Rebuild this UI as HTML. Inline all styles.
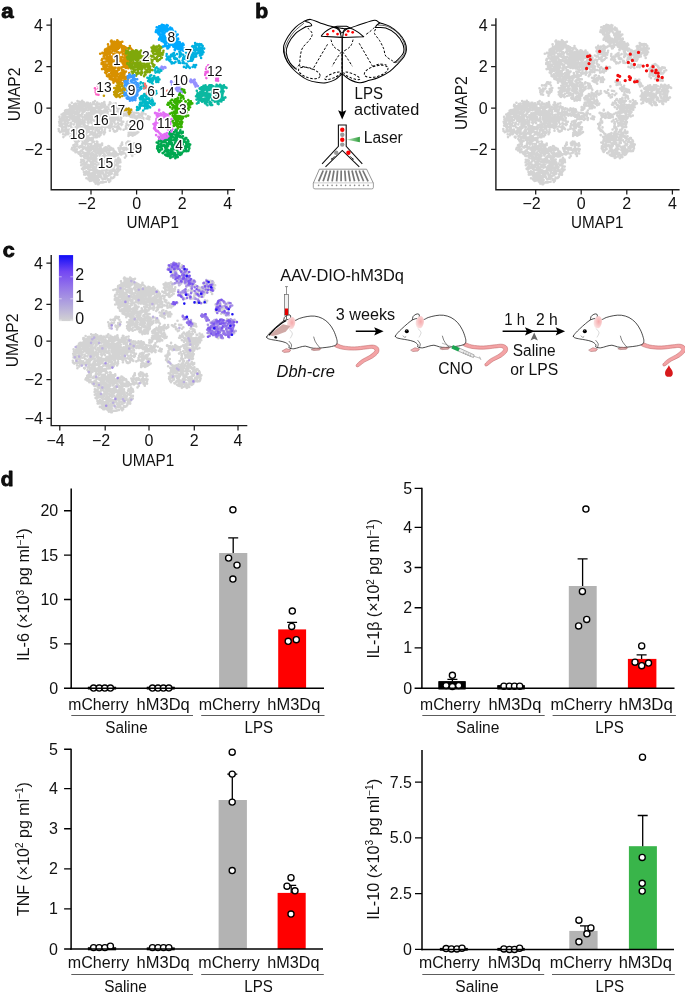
<!DOCTYPE html>
<html lang="en"><head><meta charset="utf-8"><title>Figure</title>
<style>html,body{margin:0;padding:0;background:#fff}svg{display:block;will-change:transform}text{font-family:"Liberation Sans",Arial,Helvetica,sans-serif;fill:#111}</style></head><body>
<svg width="685" height="996" viewBox="0 0 685 996">
<rect width="685" height="996" fill="#fff"/>
<text x="1.3" y="17.5" font-size="20.5" text-anchor="start" textLength="12.4" lengthAdjust="spacingAndGlyphs" font-weight="bold" fill="#000" stroke="#000" stroke-width="0.8" stroke-linejoin="round">a</text>
<text x="255.3" y="17.5" font-size="20.5" text-anchor="start" textLength="12.9" lengthAdjust="spacingAndGlyphs" font-weight="bold" fill="#000" stroke="#000" stroke-width="0.8" stroke-linejoin="round">b</text>
<text x="2.7" y="256.8" font-size="20.5" text-anchor="start" textLength="12.0" lengthAdjust="spacingAndGlyphs" font-weight="bold" fill="#000" stroke="#000" stroke-width="0.8" stroke-linejoin="round">c</text>
<text x="0.7" y="485.7" font-size="20.5" text-anchor="start" textLength="12.8" lengthAdjust="spacingAndGlyphs" font-weight="bold" fill="#000" stroke="#000" stroke-width="0.8" stroke-linejoin="round">d</text>
<path d="M75.4,108.5h0M86.4,117.2h0M62.0,119.6h0M80.7,134.7h0M89.6,138.7h0M101.4,114.2h0M75.1,134.7h0M90.5,117.1h0M92.3,120.0h0M82.0,113.5h0M70.5,124.6h0M95.3,113.9h0M80.5,132.3h0M62.0,127.6h0M101.8,114.2h0M88.6,119.1h0M83.6,128.6h0M98.8,114.4h0M61.2,120.8h0M65.3,113.2h0M62.7,119.7h0M99.2,136.4h0M77.6,136.5h0M68.5,112.5h0M88.9,113.0h0M78.6,124.3h0M84.7,126.3h0M103.9,131.9h0M79.5,118.7h0M69.9,109.3h0M66.1,117.0h0M89.5,109.2h0M78.6,106.1h0M82.6,121.5h0M76.6,112.7h0M85.2,108.5h0M86.0,139.5h0M73.0,117.8h0M85.4,133.0h0M101.3,132.7h0M70.8,122.8h0M73.1,129.1h0M105.9,117.3h0M68.5,109.9h0M99.7,120.3h0M65.0,127.5h0M96.5,122.1h0M76.6,133.3h0M79.2,138.6h0M67.9,134.3h0M76.9,123.9h0M105.2,127.5h0M81.0,135.8h0M72.1,114.9h0M73.3,119.9h0M75.9,119.8h0M79.5,137.9h0M84.8,103.9h0M68.2,120.2h0M74.7,122.3h0M65.1,124.8h0M96.1,121.9h0M103.3,119.4h0M83.9,129.5h0M82.6,137.6h0M87.0,138.6h0M66.2,120.0h0M63.8,127.2h0M67.2,129.9h0M80.2,121.4h0M67.2,119.3h0M69.4,115.0h0M87.1,119.8h0M91.5,123.1h0M66.0,113.3h0M71.8,108.5h0M100.1,113.9h0M87.6,129.7h0M94.3,119.8h0M91.5,134.1h0M80.5,115.4h0M72.4,107.8h0M75.0,114.1h0M83.9,109.9h0M95.4,124.6h0M98.2,119.5h0M78.2,120.7h0M76.2,133.8h0M79.7,116.3h0M63.4,131.5h0M101.7,128.9h0M74.4,121.0h0M106.7,125.3h0M75.4,116.6h0M83.0,122.8h0M64.4,118.2h0M74.0,111.5h0M95.8,126.8h0M79.0,115.4h0M95.9,127.8h0M102.7,125.7h0M65.5,122.9h0M97.5,133.8h0M92.8,129.5h0M67.3,117.4h0M86.2,126.2h0M83.8,102.2h0M84.0,123.2h0M95.8,112.8h0M94.9,109.2h0M82.8,117.7h0M96.7,126.3h0M67.1,112.1h0M87.7,103.7h0M92.0,128.9h0M84.5,120.7h0M104.3,110.4h0M61.5,119.0h0M81.9,114.6h0M70.6,125.7h0M100.1,121.7h0M71.0,137.1h0M59.7,121.8h0M66.3,117.1h0M104.9,129.8h0M78.7,117.9h0M77.3,119.5h0M73.7,139.0h0M83.5,111.3h0M101.5,132.9h0M105.1,123.7h0M95.2,119.3h0M74.0,104.7h0M82.4,117.0h0M90.9,114.2h0M68.4,110.4h0M85.5,110.2h0M81.7,108.5h0M76.4,106.9h0M87.3,136.1h0M79.5,123.3h0M63.3,113.5h0M84.4,126.6h0M72.5,112.8h0M103.0,121.0h0M79.3,137.2h0M86.0,128.6h0M90.3,132.3h0M70.9,137.6h0M65.5,111.9h0M84.8,125.4h0M88.6,104.0h0M106.5,127.0h0M72.2,112.2h0M83.5,128.9h0M92.1,138.3h0M76.1,118.6h0M97.9,131.1h0M99.5,112.8h0M73.8,139.2h0M70.0,117.6h0M67.4,119.5h0M63.9,117.2h0M105.3,116.8h0M91.5,117.8h0M73.7,116.3h0M77.4,133.6h0M61.4,122.0h0M69.4,116.8h0M79.7,133.7h0M104.1,111.5h0M77.1,113.1h0M72.4,130.7h0M104.1,127.0h0M72.7,120.7h0M77.9,112.8h0M99.0,130.1h0M88.9,116.0h0M69.5,131.8h0M60.9,125.5h0M73.3,106.6h0M94.1,120.6h0M89.8,127.5h0M92.2,107.2h0M87.2,116.8h0M72.6,113.3h0M86.3,116.5h0M84.7,111.0h0M83.5,133.0h0M66.5,110.1h0M105.1,116.7h0M72.7,132.5h0M88.7,127.1h0M66.8,111.6h0M91.8,110.8h0M92.4,110.4h0M98.4,123.9h0M78.8,123.7h0M67.4,129.7h0M74.5,139.9h0M78.5,117.3h0M77.4,110.1h0M79.3,134.9h0M82.9,109.2h0M91.5,138.0h0M78.1,122.6h0M85.6,138.6h0M71.0,107.2h0M83.7,104.8h0M103.6,126.3h0M96.8,112.1h0M99.9,110.5h0M85.2,117.9h0M95.5,137.3h0M88.4,123.5h0M79.4,125.5h0M82.3,119.8h0M83.6,110.9h0M81.7,109.9h0M66.7,119.7h0M84.3,104.4h0M95.0,132.5h0M84.5,117.3h0M95.7,135.6h0M83.9,139.2h0M63.2,116.0h0M103.2,113.1h0M84.2,138.4h0M84.7,115.2h0M93.1,137.9h0M65.2,122.7h0M100.8,123.5h0M90.4,117.5h0M106.9,125.7h0M81.2,109.5h0M98.2,111.3h0M88.1,128.3h0M88.3,119.3h0M66.3,111.5h0M65.2,117.4h0M87.8,110.3h0M72.4,109.2h0M101.4,133.0h0M86.6,115.8h0M105.0,132.2h0M61.7,123.4h0M60.9,123.8h0M68.7,126.1h0M98.9,110.1h0M98.7,130.2h0M95.7,120.0h0M70.9,107.2h0M75.7,130.4h0M93.6,112.9h0M97.8,123.7h0M72.4,110.5h0M96.2,115.1h0M70.9,136.8h0M82.2,133.8h0M80.5,130.3h0M71.3,127.3h0M76.7,108.4h0M92.9,126.2h0M62.4,126.3h0M65.3,110.9h0M99.9,133.0h0M90.5,114.1h0M96.1,111.4h0M73.2,130.6h0M106.8,121.5h0M60.5,119.1h0M76.2,129.7h0M99.8,109.5h0M59.1,121.7h0M68.2,122.7h0M73.4,110.5h0M66.2,127.7h0M93.1,132.5h0M79.5,117.8h0M70.5,112.6h0M78.3,137.3h0M85.5,130.8h0M77.4,116.4h0M92.1,131.8h0M97.6,125.5h0M102.7,112.5h0M93.9,135.3h0M71.5,115.4h0M76.7,110.0h0M65.9,117.5h0M95.5,120.3h0M65.0,110.9h0M78.9,132.4h0M90.9,121.2h0M80.0,130.8h0M87.2,131.7h0M94.8,135.5h0M100.5,128.3h0M75.5,127.2h0M97.2,129.8h0M79.9,119.9h0M92.8,139.1h0M95.7,117.9h0M62.4,124.5h0M105.8,123.2h0M85.1,130.2h0M98.6,123.6h0M69.3,129.6h0M77.0,105.8h0M59.8,119.4h0M77.1,114.1h0M105.3,124.1h0M79.5,111.8h0M98.1,127.3h0M77.4,126.3h0M82.2,114.1h0M100.3,116.1h0M77.7,112.8h0M73.3,113.0h0M80.3,126.7h0M104.2,133.7h0M91.8,112.7h0M71.0,132.8h0M104.0,134.2h0M88.6,131.6h0M98.1,135.7h0M84.3,131.7h0M86.7,113.4h0M83.3,105.3h0M82.4,121.6h0M81.9,123.4h0M78.2,118.9h0M91.4,127.3h0M91.9,139.9h0M84.6,121.3h0M93.8,127.8h0M76.6,120.9h0M69.4,119.9h0M100.0,113.6h0M82.6,113.3h0M91.2,133.6h0M73.7,124.5h0M103.0,123.9h0M103.7,125.2h0M103.0,125.7h0M93.3,125.3h0M92.0,120.1h0M96.9,137.3h0M99.1,132.7h0M74.2,119.6h0M91.5,138.7h0M99.5,124.5h0M59.5,116.9h0M106.8,121.2h0M91.0,111.2h0M94.5,111.8h0M94.2,135.3h0M88.8,130.3h0M75.5,131.7h0M82.8,105.9h0M81.7,129.6h0M77.0,127.1h0M79.5,132.5h0M88.7,114.7h0M93.4,135.2h0M87.7,115.3h0M77.1,128.3h0M99.2,113.8h0M80.8,124.1h0M98.5,135.7h0M100.3,132.4h0M75.6,105.9h0M70.0,131.3h0M88.7,128.8h0M72.4,130.9h0M95.9,111.2h0M101.7,122.9h0M69.5,111.2h0M76.8,124.9h0M65.2,126.7h0M88.5,116.1h0M101.1,121.3h0M98.4,118.8h0M69.8,110.0h0M85.3,136.5h0M89.8,119.1h0M71.4,123.3h0M91.8,118.1h0M73.3,115.6h0M96.7,128.6h0M91.6,113.8h0M65.0,115.6h0M83.1,109.7h0M95.8,110.7h0M67.8,120.8h0M99.9,127.0h0M99.3,120.9h0M95.0,125.0h0M73.1,119.0h0M100.6,116.3h0M76.5,138.4h0M91.6,111.1h0M71.2,112.0h0M64.8,113.9h0M95.0,114.1h0M98.8,116.0h0M100.2,123.6h0M103.5,111.2h0M68.6,131.9h0M89.1,122.2h0M89.7,129.2h0M95.1,118.3h0M99.6,114.7h0M84.2,103.2h0M102.3,114.2h0M77.1,109.8h0M59.5,123.0h0M66.3,129.1h0M74.7,130.7h0M105.1,121.7h0M86.2,103.7h0M72.3,134.1h0M94.4,110.5h0M87.6,122.6h0M102.0,130.3h0M83.6,122.3h0M78.5,107.6h0M67.1,124.4h0M79.1,118.4h0M79.1,138.2h0M70.0,116.4h0M99.8,135.4h0M71.6,118.6h0M84.8,105.9h0M105.4,125.9h0M90.6,112.7h0M85.7,137.8h0M85.4,119.3h0M75.2,128.2h0M105.8,123.2h0M85.9,108.9h0M74.0,118.9h0M64.7,123.1h0M87.7,128.6h0M81.6,123.4h0M75.0,112.9h0M79.0,125.3h0M100.7,111.8h0M74.3,132.5h0M102.4,119.9h0M81.4,131.2h0M66.9,116.5h0M89.9,134.6h0M95.5,130.6h0M97.9,129.8h0M95.2,125.3h0M87.7,117.7h0M88.5,117.6h0M94.1,114.6h0M78.7,114.1h0M84.2,120.3h0M66.7,124.7h0M104.8,114.4h0M80.7,137.6h0M88.0,121.4h0M85.1,140.9h0M92.4,118.4h0M76.5,138.4h0M64.1,117.7h0M88.2,136.3h0M81.7,126.7h0M85.7,134.5h0M85.3,106.6h0M102.9,119.4h0M84.7,122.5h0M89.1,127.4h0M89.7,105.2h0M75.2,129.3h0M100.2,124.9h0M83.8,124.9h0M85.0,140.6h0M96.8,107.3h0M84.3,133.6h0M96.9,114.7h0M69.2,113.9h0M87.4,116.4h0M87.2,139.8h0M75.3,136.7h0M87.5,139.5h0M71.6,117.4h0M73.8,136.4h0M71.4,109.9h0M86.4,107.2h0M80.2,106.3h0M77.0,112.8h0M92.4,116.8h0M64.6,113.0h0M81.4,134.4h0M75.9,131.5h0M83.9,111.7h0M94.6,112.4h0M77.3,112.1h0M84.5,124.6h0M78.0,127.8h0M79.2,107.3h0M76.0,128.7h0M77.3,122.2h0M75.6,112.3h0M74.4,117.8h0M67.2,113.7h0M91.1,116.8h0M93.9,112.0h0M91.2,110.8h0M95.4,130.1h0M67.6,111.1h0M61.6,114.5h0M100.2,124.2h0M80.9,129.0h0M100.0,132.7h0M101.4,126.2h0M65.7,134.4h0M95.8,105.7h0M95.8,134.7h0M106.3,118.7h0M95.0,134.1h0M62.0,129.8h0M93.7,134.4h0M106.1,127.1h0M62.5,116.8h0M74.7,107.3h0M70.8,112.1h0M104.5,117.5h0M66.3,125.4h0M86.7,132.7h0M88.9,119.4h0M65.2,114.3h0M63.2,114.6h0M81.2,107.9h0M77.5,109.4h0M64.8,130.2h0M64.9,121.7h0M86.8,102.9h0M89.9,138.2h0M72.8,108.4h0M100.6,115.0h0M68.6,132.0h0M75.9,109.5h0M76.9,124.8h0M87.6,126.0h0M84.0,122.4h0M87.8,105.7h0M81.4,139.9h0M81.1,110.2h0M100.5,134.9h0M73.0,128.1h0M75.7,118.7h0M73.7,119.6h0M76.8,120.3h0M106.2,126.4h0M92.2,126.9h0M105.4,120.9h0M76.9,136.7h0M93.3,120.4h0M77.2,125.4h0M87.4,118.3h0M103.6,124.6h0M71.7,106.5h0M83.6,124.8h0M65.2,122.4h0M78.5,106.2h0M86.4,129.9h0M79.6,109.3h0M97.2,108.0h0M72.2,117.2h0M70.1,113.8h0M103.2,126.0h0M67.5,132.2h0M93.1,134.8h0M88.0,106.5h0M92.6,113.3h0M100.3,125.2h0M65.6,134.1h0M73.7,129.3h0M101.6,122.4h0M75.2,108.7h0M68.5,133.6h0M83.2,108.5h0M102.4,126.5h0M70.2,136.9h0M67.4,116.9h0M79.4,116.5h0M82.4,140.6h0M92.1,114.1h0M71.1,124.4h0M87.6,131.6h0M90.1,127.5h0M99.0,135.8h0M74.5,131.3h0M89.9,116.1h0M62.1,117.4h0M106.6,109.8h0M104.6,104.8h0M105.4,110.7h0M102.1,107.4h0M118.2,108.4h0M108.3,122.6h0M105.9,119.7h0M116.6,107.6h0M98.8,107.0h0M103.6,105.3h0M110.4,104.4h0M109.9,102.4h0M103.5,105.4h0M116.4,114.6h0M102.5,116.5h0M111.9,109.0h0M95.7,115.1h0M109.3,107.2h0M117.4,113.3h0M109.6,116.7h0M98.8,104.6h0M113.8,110.3h0M107.9,114.8h0M112.5,106.2h0M113.9,106.5h0M104.5,107.4h0M106.5,114.5h0M113.5,103.9h0M96.1,111.9h0M117.8,109.6h0M112.8,120.6h0M114.4,106.8h0M110.5,108.3h0M103.5,120.7h0M95.6,115.6h0M95.3,114.0h0M117.8,115.0h0M101.3,111.1h0M112.6,116.7h0M100.9,114.4h0M115.9,106.2h0M100.5,108.7h0M98.3,115.3h0M109.2,120.9h0M103.9,117.3h0M98.9,116.9h0M110.7,104.9h0M112.3,119.6h0M100.6,117.7h0M106.9,106.8h0M103.1,120.0h0M98.7,111.4h0M98.3,116.8h0M104.0,111.7h0M116.1,117.0h0M102.0,103.6h0M104.7,113.2h0M110.8,114.9h0M115.6,116.7h0M104.6,121.8h0M104.9,104.9h0M109.6,121.3h0M104.1,107.1h0M115.4,117.6h0M111.2,107.9h0M113.9,111.1h0M100.6,114.0h0M111.3,109.7h0M110.7,107.9h0M100.2,115.6h0M105.7,116.3h0M101.0,104.5h0M107.7,112.1h0M98.3,118.6h0M104.3,118.4h0M99.1,107.4h0M114.0,112.5h0M110.6,111.1h0M113.0,104.5h0M107.1,107.1h0M104.4,103.1h0M112.0,107.9h0M110.5,119.8h0M113.9,114.5h0M105.5,108.9h0M105.0,114.4h0M104.6,113.4h0M103.8,115.5h0M112.5,109.5h0M117.4,117.3h0M106.4,110.7h0M105.7,120.1h0M106.8,117.6h0M104.3,102.1h0M113.8,117.7h0M113.9,113.6h0M112.9,112.0h0M106.1,113.7h0M104.8,112.4h0M101.4,107.7h0M115.0,113.1h0M97.0,107.3h0M115.6,107.3h0M107.2,109.6h0M109.1,108.9h0M117.6,113.3h0M107.3,110.0h0M101.3,118.8h0M112.9,114.2h0M106.3,119.8h0M110.5,102.8h0M110.0,105.2h0M113.8,111.2h0M102.3,105.9h0M104.9,116.5h0M112.3,105.4h0M101.6,106.4h0M108.9,104.8h0M115.7,103.4h0M103.8,103.2h0M100.9,113.3h0M112.4,110.3h0M117.4,113.1h0M113.2,111.8h0M106.0,118.8h0M101.8,119.5h0M108.6,122.5h0M110.4,103.6h0M101.4,117.8h0M101.9,103.3h0M107.7,117.4h0M96.5,112.8h0M97.8,114.0h0M111.6,106.5h0M103.4,118.4h0M107.4,113.2h0M98.4,112.7h0M99.8,110.4h0M99.5,119.4h0M105.9,117.4h0M77.1,108.9h0M69.6,104.9h0M87.8,102.7h0M93.2,102.4h0M90.2,107.4h0M96.6,105.6h0M100.8,105.3h0M77.2,108.0h0M80.8,102.8h0M85.6,104.7h0M94.8,108.2h0M98.6,109.4h0M81.7,102.4h0M95.0,101.1h0M100.3,107.5h0M89.6,104.4h0M99.3,103.8h0M77.6,109.8h0M83.3,103.4h0M91.5,108.8h0M97.0,107.4h0M82.2,100.9h0M81.1,106.0h0M69.4,105.9h0M96.1,104.8h0M79.7,104.1h0M90.5,104.2h0M92.3,104.5h0M74.2,108.1h0M75.8,103.6h0M75.6,109.1h0M83.1,105.8h0M97.2,102.6h0M84.5,109.7h0M72.9,106.0h0M82.5,109.7h0M70.2,107.8h0M80.9,107.2h0M87.3,107.4h0M82.4,111.2h0M91.3,106.9h0M99.3,108.1h0M81.3,102.0h0M73.7,106.8h0M82.0,108.1h0M94.3,103.7h0M95.2,108.8h0M93.1,108.3h0M88.7,108.7h0M74.0,105.9h0M94.0,102.9h0M80.6,104.5h0M75.7,104.0h0M80.3,105.7h0M82.9,104.7h0M83.6,108.6h0M79.7,101.8h0M88.0,107.2h0M80.8,110.1h0M90.4,103.4h0M96.2,107.8h0M78.7,103.8h0M93.7,108.3h0M71.8,102.8h0M90.6,107.3h0M80.8,104.4h0M74.6,109.6h0M92.1,110.4h0M70.1,105.1h0M91.1,107.2h0M78.6,108.3h0M74.2,107.0h0M93.5,108.2h0M73.2,107.2h0M77.5,101.0h0M78.3,103.4h0M96.2,104.4h0M98.4,104.3h0M74.3,104.0h0M89.0,109.4h0M118.1,107.3h0M125.6,114.0h0M121.0,113.5h0M114.5,109.4h0M135.8,116.8h0M132.1,116.1h0M149.6,117.1h0M131.1,110.6h0M139.5,115.9h0M129.0,112.1h0M132.8,114.6h0M120.7,108.4h0M140.0,118.3h0M139.7,117.8h0M119.8,111.9h0M126.1,115.5h0M116.8,112.9h0M130.5,116.8h0M134.3,115.1h0M139.3,120.0h0M141.5,114.4h0M121.2,112.0h0M143.3,119.7h0M146.6,118.5h0M134.8,118.4h0M122.4,108.7h0M117.5,111.2h0M129.8,113.5h0M130.8,109.4h0M130.9,111.9h0M122.0,112.1h0M136.3,112.9h0M122.8,109.4h0M136.6,117.5h0M122.2,112.6h0M148.0,116.2h0M143.3,113.2h0M120.0,114.3h0M118.1,112.1h0M132.5,117.1h0M134.9,117.7h0M134.1,112.7h0M143.1,120.0h0M137.9,113.0h0M149.2,119.3h0M139.8,119.1h0M127.7,110.7h0M134.8,119.1h0M138.2,116.5h0M127.9,112.8h0M140.9,118.5h0M136.6,119.0h0M129.2,115.7h0M127.3,111.5h0M141.6,115.1h0M125.6,113.5h0M143.4,118.1h0M124.2,113.7h0M131.5,114.9h0M127.5,115.1h0M123.7,115.6h0M120.1,109.4h0M140.3,119.1h0M122.7,109.1h0M134.4,115.5h0M125.9,108.3h0M128.1,110.1h0M123.1,114.4h0M124.9,110.6h0M141.9,112.6h0M145.6,114.2h0M139.2,113.9h0M137.5,116.0h0M149.7,117.0h0M126.9,115.6h0M122.9,110.3h0M121.8,114.6h0M142.4,114.6h0M127.8,111.1h0M137.2,118.7h0M129.7,110.0h0M131.9,111.6h0M127.7,112.3h0M142.1,116.1h0M148.2,118.9h0M121.2,118.1h0M121.8,122.1h0M114.5,120.6h0M113.5,116.1h0M118.1,123.4h0M118.9,124.4h0M117.3,126.6h0M121.0,120.4h0M110.8,124.6h0M114.4,117.5h0M115.6,131.4h0M109.3,122.5h0M114.6,131.6h0M121.0,117.6h0M111.7,122.1h0M108.0,121.7h0M110.2,121.8h0M110.3,119.4h0M115.5,124.3h0M110.2,116.7h0M112.9,129.0h0M123.3,121.8h0M112.8,119.0h0M114.4,122.6h0M117.8,123.5h0M117.9,123.3h0M116.0,116.8h0M109.9,120.5h0M107.7,126.9h0M118.4,128.4h0M117.6,126.5h0M111.1,121.6h0M113.9,131.1h0M118.2,119.6h0M109.1,118.5h0M114.2,121.9h0M121.5,125.1h0M113.9,117.2h0M116.8,118.0h0M118.7,128.4h0M110.0,128.2h0M120.9,123.8h0M117.2,117.6h0M118.7,118.9h0M110.2,126.5h0M111.4,126.8h0M112.1,124.0h0M114.9,118.7h0M116.9,127.6h0M118.3,120.2h0M122.2,124.2h0M118.0,120.5h0M120.4,128.9h0M110.4,125.7h0M110.3,115.0h0M109.0,117.3h0M117.1,119.0h0M116.5,127.2h0M109.9,118.5h0M117.0,130.7h0M117.8,119.1h0M119.0,127.4h0M119.3,120.5h0M108.1,125.1h0M116.3,116.2h0M114.9,118.0h0M115.2,119.8h0M119.9,116.2h0M114.5,118.2h0M111.9,121.6h0M114.2,121.4h0M116.1,116.1h0M108.7,122.0h0M108.2,126.9h0M109.7,121.9h0M107.9,118.9h0M109.8,123.3h0M109.3,128.0h0M109.3,118.3h0M112.2,126.5h0M114.2,130.9h0M114.4,126.6h0M112.4,119.1h0M121.1,120.7h0M111.5,117.9h0M121.8,124.4h0M117.2,130.0h0M120.5,129.3h0M112.8,120.6h0M109.9,130.8h0M136.5,133.4h0M134.4,131.7h0M133.4,125.8h0M131.8,124.9h0M136.1,133.3h0M134.6,130.8h0M131.1,128.2h0M135.1,134.5h0M127.4,121.7h0M135.4,123.7h0M133.8,123.3h0M128.9,129.7h0M136.1,132.9h0M131.1,121.1h0M130.2,128.4h0M132.9,123.8h0M138.4,132.1h0M123.6,129.8h0M128.9,121.3h0M135.2,126.7h0M136.6,122.2h0M129.7,124.8h0M126.4,125.7h0M125.7,128.7h0M135.8,122.5h0M133.8,134.9h0M132.2,133.5h0M130.8,134.8h0M132.1,133.2h0M127.0,124.8h0M131.1,121.5h0M134.1,132.4h0M130.2,122.0h0M126.6,128.4h0M133.8,132.5h0M137.4,127.2h0M135.6,131.4h0M128.7,132.7h0M125.9,126.2h0M126.6,123.7h0M128.7,128.7h0M128.7,135.7h0M130.3,123.0h0M129.1,125.9h0M134.4,127.3h0M132.6,119.3h0M129.5,129.8h0M129.2,124.5h0M126.7,125.0h0M131.5,132.1h0M131.8,126.7h0M137.1,132.9h0M129.9,128.9h0M129.7,128.1h0M130.1,125.9h0M134.6,124.6h0M128.6,134.5h0M129.1,133.9h0M126.5,123.8h0M135.5,130.7h0M132.9,135.5h0M130.1,121.9h0M130.1,120.8h0M132.6,135.7h0M134.2,130.3h0M125.8,128.3h0M128.5,135.9h0M129.5,123.4h0M134.0,123.1h0M129.6,132.1h0M129.6,132.4h0M136.0,130.1h0M137.0,129.3h0M130.4,131.1h0M136.1,128.3h0M96.2,170.4h0M98.2,182.0h0M104.8,157.0h0M116.9,174.6h0M93.2,175.1h0M86.4,178.3h0M85.3,173.9h0M104.2,161.0h0M111.5,148.4h0M115.3,161.2h0M110.3,170.4h0M109.1,152.2h0M97.3,180.1h0M97.9,165.9h0M97.6,179.4h0M99.4,148.4h0M108.4,146.1h0M109.7,148.8h0M91.1,176.7h0M98.9,161.8h0M94.4,181.6h0M113.4,149.5h0M94.6,150.3h0M112.3,153.8h0M117.8,168.3h0M106.1,164.8h0M112.7,170.8h0M100.4,176.6h0M86.3,171.2h0M86.5,149.6h0M90.3,158.4h0M104.5,150.1h0M86.7,167.2h0M102.8,156.6h0M84.9,154.8h0M117.5,172.5h0M106.4,165.1h0M94.4,169.7h0M102.3,152.2h0M113.4,169.5h0M83.0,161.0h0M102.1,145.0h0M104.5,177.0h0M88.8,178.1h0M90.7,179.2h0M119.1,160.0h0M84.9,174.2h0M96.9,169.9h0M106.5,149.7h0M94.8,180.3h0M85.9,149.4h0M86.2,163.8h0M97.2,165.8h0M97.4,153.0h0M114.0,154.0h0M96.0,157.0h0M106.6,177.6h0M117.5,168.4h0M84.5,157.7h0M96.0,156.2h0M90.1,150.7h0M116.6,172.4h0M114.9,170.6h0M82.7,164.5h0M109.8,172.6h0M107.1,161.1h0M89.5,160.2h0M93.7,154.3h0M96.2,171.7h0M84.7,165.6h0M84.1,164.1h0M107.5,163.4h0M99.1,149.7h0M106.5,171.1h0M112.4,148.7h0M103.3,173.7h0M94.9,174.1h0M84.7,172.4h0M108.5,149.2h0M95.2,179.0h0M117.4,174.8h0M120.0,169.5h0M87.8,164.8h0M95.1,164.2h0M91.0,164.1h0M106.6,151.3h0M111.4,171.4h0M89.9,181.0h0M91.8,159.0h0M100.0,173.9h0M94.2,157.0h0M109.9,153.3h0M106.1,170.4h0M91.3,146.6h0M118.2,163.6h0M112.5,153.4h0M111.8,173.5h0M91.0,162.2h0M97.4,162.3h0M87.6,151.6h0M115.4,156.2h0M97.7,151.1h0M97.7,159.6h0M81.2,159.7h0M94.9,175.2h0M106.4,151.7h0M105.3,156.9h0M116.2,152.9h0M93.0,146.2h0M104.9,164.7h0M92.1,161.6h0M90.1,179.1h0M95.9,144.5h0M89.5,175.3h0M82.8,160.0h0M111.1,177.5h0M112.4,149.2h0M98.7,184.1h0M94.8,161.3h0M108.9,164.6h0M100.1,164.6h0M88.5,179.5h0M105.0,166.8h0M119.4,159.4h0M101.2,158.1h0M94.6,160.5h0M96.1,149.7h0M98.5,161.3h0M98.1,178.0h0M118.6,170.7h0M99.8,152.7h0M108.1,154.1h0M104.5,150.8h0M101.7,149.4h0M85.6,155.7h0M104.8,175.0h0M97.3,176.8h0M96.2,161.7h0M106.5,148.2h0M109.8,154.4h0M114.9,165.0h0M97.8,176.5h0M115.4,151.8h0M105.7,149.3h0M92.7,180.1h0M120.2,161.1h0M110.9,153.8h0M102.8,168.2h0M108.6,161.9h0M92.0,173.4h0M108.4,160.3h0M118.0,158.7h0M110.0,179.4h0M94.1,172.8h0M102.1,149.8h0M101.1,176.4h0M95.0,176.8h0M105.4,163.8h0M90.3,161.5h0M89.9,177.0h0M105.6,148.5h0M114.5,174.5h0M98.3,170.8h0M84.2,160.5h0M89.1,178.9h0M88.1,167.7h0M100.9,161.6h0M110.8,166.7h0M111.7,155.8h0M102.9,170.4h0M83.0,169.4h0M103.5,174.0h0M90.4,147.6h0M99.9,154.6h0M95.3,175.2h0M93.3,147.3h0M96.6,181.6h0M100.0,162.0h0M114.0,163.6h0M115.7,159.7h0M99.0,167.8h0M95.4,179.2h0M106.0,168.7h0M85.5,155.1h0M88.2,169.0h0M81.0,162.4h0M93.7,148.7h0M111.1,155.9h0M86.4,173.8h0M94.7,151.6h0M96.6,148.8h0M118.8,159.5h0M105.6,177.9h0M92.3,148.6h0M114.5,152.5h0M90.9,150.0h0M89.9,166.5h0M98.0,181.4h0M109.2,146.4h0M93.1,172.7h0M85.9,163.0h0M101.5,148.9h0M90.7,153.5h0M110.8,147.7h0M104.6,178.7h0M108.2,167.0h0M99.9,151.7h0M103.8,156.8h0M100.9,153.6h0M100.2,173.2h0M117.5,154.8h0M90.5,176.3h0M113.9,166.9h0M87.2,154.1h0M99.7,173.0h0M84.1,162.3h0M118.4,159.9h0M108.0,173.1h0M103.8,166.0h0M120.4,162.2h0M111.3,172.2h0M115.8,154.0h0M93.3,157.6h0M114.5,171.1h0M103.1,152.7h0M86.9,173.8h0M93.5,178.4h0M95.8,144.7h0M83.9,172.0h0M90.9,155.4h0M111.8,171.5h0M86.6,166.2h0M87.2,171.9h0M106.6,167.5h0M103.7,156.8h0M84.2,156.0h0M107.3,170.1h0M98.3,161.9h0M85.1,168.4h0M108.1,179.9h0M102.1,156.7h0M98.1,175.5h0M84.2,162.2h0M96.0,182.8h0M111.7,168.0h0M99.7,159.2h0M93.8,168.3h0M96.9,176.0h0M113.9,167.4h0M95.7,154.3h0M101.6,159.1h0M84.8,172.5h0M86.3,166.7h0M115.4,171.9h0M90.0,167.4h0M110.6,169.3h0M118.3,166.3h0M98.7,164.5h0M104.9,162.6h0M109.2,181.9h0M106.5,176.6h0M88.8,172.0h0M94.5,167.2h0M100.5,160.3h0M87.7,165.0h0M100.8,182.4h0M96.6,165.8h0M94.0,150.6h0M109.3,168.0h0M101.3,148.7h0M114.1,153.2h0M110.4,174.1h0M92.6,170.3h0M103.2,155.8h0M115.8,152.8h0M85.4,174.6h0M84.5,154.6h0M113.5,150.7h0M84.2,174.6h0M83.2,152.8h0M97.4,162.1h0M89.9,174.5h0M102.2,172.4h0M92.2,154.9h0M94.1,154.7h0M101.0,158.5h0M98.8,166.3h0M89.8,148.1h0M87.4,161.3h0M96.2,177.2h0M85.4,168.1h0M106.4,156.3h0M99.5,162.0h0M117.9,163.0h0M117.8,169.2h0M113.6,177.6h0M88.4,174.2h0M88.3,175.7h0M94.4,160.0h0M118.1,169.5h0M82.7,164.4h0M119.4,161.0h0M103.7,165.9h0M91.5,164.3h0M103.4,152.4h0M94.7,175.0h0M111.0,161.5h0M106.2,172.5h0M114.0,156.4h0M107.3,153.2h0M105.1,155.3h0M88.2,150.7h0M109.4,157.1h0M106.3,159.6h0M102.2,169.9h0M90.4,177.8h0M115.1,174.8h0M89.5,173.1h0M93.5,173.9h0M102.4,159.0h0M87.9,175.0h0M100.1,145.0h0M90.9,169.8h0M98.0,173.0h0M101.9,167.5h0M93.4,158.0h0M110.1,168.0h0M85.3,174.3h0M90.4,165.8h0M118.0,154.4h0M104.4,153.7h0M92.2,152.5h0M116.6,155.2h0M95.4,149.2h0M103.4,162.5h0M110.7,174.1h0M111.6,166.6h0M106.0,147.4h0M90.3,164.9h0M100.7,171.4h0M97.9,184.2h0M101.7,150.7h0M105.7,178.7h0M111.6,162.6h0M95.6,183.6h0M114.8,151.6h0M111.2,173.8h0M111.5,173.8h0M98.3,174.4h0M94.8,176.3h0M93.2,165.9h0M109.0,160.8h0M108.6,173.0h0M116.5,160.9h0M117.7,154.9h0M89.6,149.3h0M102.6,150.0h0M115.0,173.5h0M100.7,164.2h0M113.0,148.8h0M90.3,153.8h0M102.6,179.5h0M92.9,149.0h0M118.0,162.7h0M109.4,175.3h0M87.9,165.6h0M87.7,156.8h0M88.7,147.3h0M105.7,175.1h0M116.9,169.3h0M100.0,174.1h0M96.8,161.2h0M94.5,159.9h0M95.8,161.6h0M91.8,162.8h0M89.8,153.2h0M99.4,160.6h0M86.0,167.7h0M99.8,150.2h0M108.2,162.1h0M104.6,147.7h0M90.4,180.8h0M89.2,157.5h0M98.5,177.4h0M94.2,181.6h0M104.0,148.9h0M106.3,157.8h0M102.6,151.6h0M116.5,165.4h0M91.8,175.7h0M98.2,180.7h0M85.5,153.1h0M110.3,160.2h0M110.3,180.7h0M101.2,171.6h0M94.2,172.1h0M88.3,151.9h0M102.1,143.5h0M83.5,155.5h0M102.5,157.6h0M92.0,156.8h0M108.3,179.2h0M91.2,164.4h0M98.7,153.6h0M94.6,145.8h0M107.0,157.9h0M106.1,171.7h0M82.0,168.8h0M97.9,181.6h0M105.3,170.3h0M86.8,153.6h0M103.2,172.7h0M86.3,167.8h0M92.2,177.8h0M107.7,176.0h0M107.1,157.0h0M96.0,149.6h0M102.7,159.9h0M94.6,180.3h0M111.3,164.7h0M86.2,154.9h0M93.1,160.2h0M109.1,174.6h0M93.3,148.9h0M96.0,158.7h0M98.6,176.9h0M101.4,173.4h0M108.9,159.4h0M102.5,159.7h0M112.9,156.4h0M112.2,164.9h0M98.0,167.0h0M107.7,168.8h0M110.6,149.9h0M87.6,164.5h0M96.2,164.7h0M111.5,172.1h0M99.2,176.9h0M106.9,161.6h0M102.9,182.5h0M109.3,163.3h0M94.3,172.0h0M83.3,167.2h0M99.4,146.5h0M102.6,162.5h0M95.3,182.8h0M85.9,158.3h0M90.9,146.2h0M107.0,166.2h0M109.7,170.9h0M99.7,155.6h0M105.9,150.5h0M114.3,176.7h0M91.6,173.5h0M95.4,168.7h0M93.8,180.8h0M104.8,177.3h0M101.9,182.4h0M101.7,157.8h0M91.4,176.9h0M95.3,168.2h0M106.8,147.7h0M108.5,158.1h0M100.2,175.5h0M100.1,154.8h0M110.0,170.3h0M103.2,179.1h0M81.2,165.3h0M117.6,162.1h0M104.4,161.2h0M109.0,150.4h0M110.6,168.0h0M96.3,152.6h0M108.4,148.9h0M93.5,163.5h0M108.6,156.6h0M83.3,169.5h0M84.4,173.3h0M85.7,167.8h0M98.9,171.0h0M86.7,162.2h0M120.1,166.6h0M105.7,174.5h0M117.4,160.5h0M88.9,157.8h0M92.7,162.2h0M117.9,170.8h0M82.7,161.4h0M106.2,151.6h0M118.4,157.8h0M91.5,175.2h0M93.2,179.3h0M92.6,168.1h0M111.1,159.5h0M99.2,183.0h0M110.0,172.1h0M113.4,170.5h0M91.1,180.8h0M95.6,158.6h0M85.3,172.0h0M112.4,148.9h0M113.8,177.1h0M120.0,159.5h0M104.0,182.1h0M110.3,153.5h0M98.6,149.1h0M108.6,164.3h0M96.7,172.6h0M92.8,177.1h0M97.1,166.8h0M93.9,149.2h0M110.0,169.6h0M113.6,169.5h0M97.0,155.7h0M106.0,181.7h0M100.6,147.1h0M99.0,180.0h0M103.9,175.4h0M89.5,170.4h0M100.2,144.8h0M90.6,154.3h0M96.0,157.1h0M110.5,163.7h0M116.8,163.4h0M100.9,166.8h0M104.7,170.3h0M96.8,146.9h0M87.7,159.0h0M112.2,178.3h0M90.7,166.6h0M95.9,147.6h0M85.4,154.5h0M101.5,177.7h0M101.9,151.1h0M84.2,157.4h0M83.4,152.4h0M104.0,168.5h0M89.6,167.5h0M117.7,160.2h0M111.1,164.7h0M92.7,141.1h0M78.6,153.6h0M85.4,144.6h0M94.1,141.7h0M98.2,146.0h0M85.1,147.9h0M85.9,139.0h0M81.2,146.9h0M87.6,157.0h0M79.9,151.9h0M77.3,144.7h0M97.7,145.1h0M90.2,148.4h0M87.9,149.0h0M82.2,151.2h0M82.7,142.2h0M79.9,146.7h0M78.4,153.2h0M94.0,151.0h0M97.2,143.5h0M96.9,146.9h0M86.5,139.0h0M88.5,154.8h0M85.0,140.5h0M91.3,146.4h0M99.9,149.3h0M77.1,142.3h0M88.0,146.3h0M91.7,148.8h0M82.8,147.0h0M86.7,155.9h0M73.9,146.0h0M77.3,142.6h0M89.1,138.3h0M96.8,141.6h0M74.7,144.7h0M87.1,148.2h0M84.9,142.7h0M91.0,156.1h0M75.5,152.2h0M75.9,141.9h0M89.6,154.2h0M80.2,155.0h0M97.1,148.2h0M89.1,148.6h0M75.0,141.3h0M75.2,141.3h0M81.6,156.1h0M87.4,154.6h0M87.9,156.5h0M87.4,143.6h0M72.2,147.9h0M94.6,146.0h0M78.7,147.1h0M93.1,147.4h0M75.2,149.8h0M90.2,144.1h0M76.7,143.4h0M88.5,139.5h0M71.7,149.2h0M86.8,155.5h0M80.5,146.0h0M76.9,149.4h0M91.2,148.4h0M73.4,145.3h0M97.8,148.7h0M90.6,153.5h0M95.4,144.8h0M74.6,147.9h0M88.0,140.9h0M84.5,137.2h0M98.4,152.9h0M87.0,155.7h0M92.5,140.4h0M96.9,147.6h0M91.8,146.8h0M92.4,142.1h0M90.2,139.9h0M79.4,152.7h0M85.6,154.2h0M90.8,149.5h0M86.5,140.4h0M80.0,153.7h0M91.3,147.4h0M98.1,151.1h0M79.4,152.4h0M93.1,141.7h0M93.2,154.4h0M82.8,137.9h0M85.9,147.7h0M81.3,150.6h0M79.0,141.0h0M86.3,139.3h0M86.1,155.6h0M80.8,156.0h0M98.1,150.3h0M89.9,146.6h0M93.7,149.8h0M82.6,146.4h0M88.9,137.9h0M77.5,152.0h0M92.6,147.0h0M89.9,150.9h0M81.2,153.7h0M75.0,144.2h0M82.5,144.2h0M88.2,146.2h0M79.4,147.6h0M76.3,146.5h0M73.5,150.4h0M83.2,152.4h0M83.0,148.9h0M76.8,139.5h0M91.4,144.1h0M83.6,143.2h0M90.6,144.8h0M84.6,147.3h0M84.3,138.9h0M76.9,140.2h0M97.4,142.1h0M75.6,150.4h0M93.9,150.9h0M90.9,146.1h0M98.3,144.3h0M93.3,154.7h0M86.4,142.4h0M92.7,146.8h0M96.0,148.9h0M83.4,139.8h0M87.9,155.3h0M80.0,154.5h0M88.1,143.8h0M86.8,153.7h0M80.6,153.9h0M92.3,147.4h0M97.7,144.6h0M86.7,137.3h0M82.3,144.0h0M94.9,144.1h0M92.5,140.2h0M130.6,150.6h0M128.1,141.5h0M133.2,149.2h0M119.5,151.1h0M120.4,151.2h0M134.9,145.4h0M131.7,151.8h0M123.6,152.8h0M131.6,149.0h0M129.9,149.5h0M119.2,149.1h0M122.1,142.6h0M124.0,150.0h0M126.5,149.7h0M129.9,141.9h0M131.5,149.9h0M120.5,148.8h0M121.5,152.1h0M133.1,144.9h0M130.7,149.4h0M125.2,148.5h0M130.3,146.3h0M123.6,149.6h0M120.6,154.2h0M123.1,149.6h0M134.4,149.0h0M119.9,149.1h0M127.8,145.3h0M134.5,151.0h0M131.2,153.9h0M123.6,148.0h0M131.3,153.8h0M123.9,148.4h0M121.3,154.5h0M126.1,156.1h0M131.7,143.8h0M120.8,147.2h0M122.7,152.6h0M134.3,143.4h0M128.4,149.9h0M121.6,144.1h0M131.9,149.9h0M133.0,148.8h0M130.4,146.8h0M120.5,145.9h0M129.3,149.2h0M126.6,148.4h0M126.8,145.1h0M122.2,144.6h0M133.8,153.3h0M128.7,143.1h0M130.8,145.4h0M133.6,144.9h0M133.4,144.4h0M127.0,153.2h0M135.2,149.2h0M124.8,149.0h0M123.2,153.4h0M129.6,148.8h0M118.5,148.1h0M126.4,143.8h0M132.3,155.9h0M125.4,148.0h0M130.7,143.2h0M130.1,143.9h0M128.0,141.7h0M128.3,152.1h0M123.6,152.5h0M122.5,148.6h0M126.3,143.3h0M131.2,154.1h0M124.9,157.6h0M123.2,148.6h0M134.6,153.5h0M131.2,148.9h0M128.9,152.4h0M119.0,149.5h0M124.4,148.1h0M134.0,146.1h0M125.6,153.8h0M127.0,142.4h0M130.7,144.2h0M120.0,153.4h0M132.2,153.7h0M120.2,151.9h0M64.3,123.2h0M66.4,129.6h0M65.2,127.9h0M65.4,129.3h0M63.1,134.3h0M62.5,129.2h0M63.6,130.9h0M66.2,131.6h0M60.6,125.4h0M62.0,131.4h0M63.4,137.1h0M66.7,125.6h0M61.2,125.5h0M65.6,122.2h0M60.3,125.7h0M58.9,131.0h0M66.0,125.1h0M65.4,135.3h0M65.8,121.5h0M63.4,120.5h0M64.9,120.2h0M66.3,132.9h0M58.7,129.1h0M66.2,124.1h0M59.5,125.6h0M66.1,128.3h0M65.3,127.7h0M61.3,122.1h0M60.2,132.2h0M60.4,131.9h0M65.5,131.6h0M66.1,125.4h0M66.2,130.6h0M62.3,119.4h0M61.4,126.6h0" stroke="#d3d3d3" stroke-width="2.6" stroke-linecap="round" fill="none"/>
<path d="M123.5,77.0h0M105.4,61.6h0M114.3,49.2h0M122.3,56.7h0M113.5,76.0h0M120.5,73.1h0M119.6,65.9h0M123.1,70.2h0M115.8,71.2h0M105.1,72.5h0M117.3,46.3h0M118.2,74.1h0M130.7,56.3h0M107.9,57.6h0M118.0,79.6h0M126.3,48.0h0M118.5,44.7h0M113.5,46.6h0M118.6,79.2h0M119.2,56.5h0M119.6,53.0h0M113.8,64.8h0M131.1,58.1h0M126.0,71.6h0M108.1,66.5h0M106.9,56.3h0M121.2,74.7h0M125.8,67.3h0M103.4,62.3h0M107.5,64.5h0M121.8,60.1h0M110.6,49.3h0M129.7,63.6h0M123.6,60.8h0M112.0,74.7h0M110.4,58.5h0M118.2,65.4h0M117.3,71.6h0M123.5,64.3h0M132.3,57.9h0M103.4,66.5h0M122.2,78.2h0M119.5,61.5h0M111.4,64.5h0M112.4,74.1h0M116.9,61.7h0M118.1,59.8h0M114.9,62.5h0M117.7,49.3h0M107.8,61.1h0M109.1,74.2h0M111.8,75.8h0M116.8,51.6h0M124.6,65.2h0M126.5,60.6h0M108.2,53.5h0M120.1,62.0h0M111.4,68.3h0M116.6,47.7h0M128.3,68.2h0M120.1,79.5h0M131.2,67.9h0M124.7,65.9h0M125.1,60.7h0M110.3,52.4h0M124.1,74.3h0M115.1,55.4h0M110.8,70.1h0M121.8,74.2h0M123.9,54.0h0M114.4,53.9h0M118.6,54.5h0M122.8,70.1h0M101.6,64.0h0M119.3,43.5h0M120.7,62.0h0M120.8,77.5h0M111.8,76.5h0M123.9,57.7h0M102.4,63.1h0M112.1,65.4h0M122.1,77.9h0M116.4,75.4h0M114.6,69.2h0M117.0,70.8h0M114.9,65.6h0M120.1,60.5h0M112.3,68.3h0M109.6,63.8h0M125.5,67.1h0M117.0,71.6h0M127.8,51.7h0M126.4,60.1h0M112.7,51.0h0M130.2,54.5h0M113.4,79.0h0M108.0,49.7h0M122.5,76.7h0M105.4,55.3h0M114.4,70.3h0M115.1,68.0h0M106.6,48.8h0M120.6,42.8h0M120.2,57.9h0M131.9,58.9h0M114.4,60.7h0M132.3,60.4h0M115.6,73.3h0M124.6,73.7h0M118.7,57.8h0M112.2,72.0h0M117.1,45.6h0M116.5,63.7h0M116.2,60.4h0M111.2,73.1h0M114.2,76.8h0M112.6,56.7h0M102.7,63.6h0M130.1,64.7h0M123.5,71.8h0M123.1,51.3h0M111.2,62.0h0M121.2,79.9h0M124.8,57.0h0M124.2,53.9h0M124.5,60.2h0M128.6,62.0h0M129.7,57.6h0M123.6,75.1h0M111.9,56.6h0M125.7,63.9h0M124.7,76.7h0M108.8,51.8h0M115.4,67.4h0M112.9,65.5h0M111.5,52.4h0M124.4,71.6h0M126.8,63.5h0M120.1,77.6h0M121.7,57.8h0M119.5,42.9h0M120.1,75.4h0M111.4,52.6h0M110.1,63.0h0M110.1,56.7h0M123.0,48.9h0M124.8,48.4h0M122.7,49.2h0M105.2,55.5h0M124.2,66.9h0M120.9,62.6h0M110.2,57.0h0M111.8,59.7h0M112.8,73.6h0M110.3,64.7h0M116.0,49.4h0M108.2,52.3h0M125.6,58.1h0M116.3,79.5h0M107.3,75.8h0M102.0,69.1h0M123.8,71.7h0M120.9,44.5h0M117.5,57.1h0M126.2,48.0h0M114.6,74.0h0M127.8,55.0h0M115.2,73.0h0M108.6,62.0h0M115.9,48.4h0M123.5,70.2h0M103.7,56.4h0M105.1,49.5h0M115.4,43.4h0M106.5,58.8h0M106.9,70.6h0M104.1,67.0h0M124.8,76.8h0M115.4,62.0h0M108.3,48.1h0M112.2,79.4h0M104.4,58.3h0M114.5,80.2h0M125.7,66.7h0M113.5,79.9h0M130.0,56.4h0M122.9,72.2h0M104.5,64.4h0M124.5,59.9h0M120.7,75.4h0M123.2,66.6h0M121.9,75.2h0M122.6,47.3h0M110.9,79.3h0M116.7,79.9h0M125.1,64.2h0M125.1,63.8h0M121.3,47.0h0M114.0,73.4h0M116.7,63.2h0M120.5,45.9h0M105.5,69.0h0M124.6,48.1h0M127.0,59.7h0M122.4,46.9h0M112.5,49.4h0M116.1,46.4h0M121.3,68.3h0M118.8,67.0h0M127.4,67.0h0M116.3,62.5h0M115.4,54.1h0M125.0,50.7h0M111.4,62.1h0M119.7,45.3h0M119.1,66.0h0M113.1,70.1h0M107.4,60.3h0M112.5,66.4h0M121.8,60.3h0M104.1,66.7h0M124.2,59.6h0M123.2,63.0h0M109.2,68.8h0M130.3,54.7h0M125.0,57.3h0M126.8,58.6h0M117.9,48.9h0M102.5,64.2h0M126.1,63.5h0M107.0,75.9h0M114.0,67.7h0M113.9,80.1h0M111.8,62.7h0M128.6,68.1h0M113.2,57.8h0M123.7,76.4h0M126.8,58.5h0M114.9,65.8h0M110.4,76.0h0M113.9,58.4h0M112.6,62.8h0M125.2,62.4h0M118.6,52.3h0M113.0,49.8h0M118.0,64.2h0M129.3,55.3h0M128.7,65.2h0M110.3,68.7h0M106.0,54.8h0M116.6,73.5h0M111.6,69.7h0M109.5,69.2h0M114.5,45.1h0M123.6,61.6h0M107.3,71.7h0M126.6,63.3h0M115.1,63.7h0M106.1,65.6h0M116.4,54.8h0M121.2,46.0h0M108.0,54.2h0M119.3,67.3h0M115.4,76.0h0M103.9,56.0h0M114.5,67.5h0M121.7,47.9h0M109.2,63.8h0M114.4,55.7h0M116.3,56.5h0M122.1,49.6h0M130.6,56.7h0M112.9,63.6h0M126.8,64.3h0M127.0,66.9h0M124.4,64.7h0M125.9,68.0h0M114.2,78.8h0M116.2,62.4h0M126.2,65.8h0M102.2,59.0h0M113.0,65.7h0M127.3,60.9h0M111.1,60.8h0M121.8,67.3h0M110.6,47.3h0M110.5,70.3h0M102.8,64.6h0M120.5,58.5h0M112.0,61.9h0M122.3,74.6h0M114.5,72.6h0M122.6,63.4h0M122.7,48.9h0M124.9,47.1h0M128.4,49.4h0M122.0,70.3h0M115.0,60.4h0M129.5,55.4h0M105.4,66.1h0M107.6,69.6h0M119.4,45.4h0M121.3,74.4h0M103.0,69.0h0M117.9,60.0h0M125.7,77.0h0M105.7,61.8h0M126.3,52.4h0M110.4,75.5h0M109.5,58.6h0M102.3,59.0h0M122.5,53.1h0M113.6,71.9h0M118.0,76.8h0M115.1,51.1h0M115.1,77.0h0M117.8,68.4h0M113.7,74.2h0M119.0,69.7h0M113.8,55.5h0M117.7,61.0h0M106.6,70.6h0M117.6,79.3h0M112.2,58.8h0M124.7,61.8h0M121.1,58.3h0M119.7,64.7h0M125.4,52.2h0M121.1,72.7h0M117.5,53.0h0M124.9,50.0h0M121.2,57.4h0M113.4,66.1h0M121.4,51.7h0M132.4,63.4h0M107.7,70.4h0M122.8,71.5h0M115.5,78.2h0M107.1,52.3h0M109.7,70.9h0M114.1,70.7h0M127.9,58.3h0M113.4,64.0h0M129.2,73.1h0M105.0,67.6h0M123.1,51.0h0M106.3,73.5h0M124.7,59.7h0M105.3,70.0h0M113.4,54.0h0M115.2,48.6h0M107.6,48.6h0M122.7,74.9h0M104.7,52.6h0M114.4,75.1h0M101.7,63.1h0M110.0,68.0h0M129.1,59.5h0M110.5,46.2h0M109.7,51.1h0M112.5,65.9h0M118.9,54.1h0M113.6,48.4h0M120.1,76.0h0M130.7,64.8h0M114.0,49.2h0M124.7,76.8h0M112.4,44.0h0M126.4,52.0h0M107.1,75.2h0M117.9,73.8h0M118.8,67.9h0M117.7,56.7h0M128.6,53.1h0M110.3,78.2h0M107.3,69.1h0M104.8,66.3h0M108.7,58.8h0M119.9,78.6h0M112.8,79.0h0M125.6,78.5h0M125.9,64.5h0M115.2,50.6h0M109.9,76.3h0M109.7,78.8h0M122.8,54.1h0M109.2,50.1h0M108.1,76.4h0M102.5,64.1h0M101.7,60.3h0M109.3,74.7h0M112.0,64.2h0M106.0,51.8h0M117.9,65.3h0M121.1,79.1h0M111.9,66.8h0M122.3,57.1h0M108.4,46.7h0M109.8,54.8h0M131.1,62.8h0M117.8,73.8h0M112.4,50.3h0M115.1,65.4h0M114.5,67.2h0M122.1,47.5h0M124.7,57.2h0M109.9,78.6h0M115.2,67.3h0M111.4,46.3h0M110.1,66.4h0M109.3,76.5h0M108.9,66.7h0M109.7,58.1h0M122.1,60.2h0M115.0,78.2h0M121.3,61.4h0M112.1,61.6h0M118.9,55.1h0M114.7,60.1h0M118.8,46.1h0M111.8,42.6h0M118.1,43.7h0M115.9,48.6h0M111.5,40.5h0M114.1,41.8h0M120.8,43.6h0M122.7,47.3h0M115.7,45.0h0M117.3,42.8h0M123.7,46.2h0M118.3,41.3h0M115.8,42.7h0M117.5,43.2h0M110.4,47.6h0M113.9,45.6h0M116.4,46.3h0M112.4,43.3h0M113.1,42.8h0M115.8,46.9h0M116.4,41.8h0M113.7,47.0h0M122.9,47.4h0M111.7,43.9h0M111.6,44.8h0M111.6,46.9h0M117.0,45.5h0M118.9,48.1h0M121.8,45.5h0M115.2,47.5h0M117.3,40.3h0M114.3,41.9h0M113.2,48.4h0M116.4,46.5h0M118.5,44.2h0M112.9,42.0h0M115.8,43.1h0M115.1,43.1h0M115.5,44.2h0M122.3,41.8h0M118.6,46.9h0M116.8,49.6h0M122.0,47.0h0M110.9,41.4h0M120.4,42.2h0M120.4,46.3h0M111.2,41.6h0M108.0,44.4h0M115.1,43.9h0M115.4,44.3h0M116.1,46.8h0M113.6,81.8h0M124.9,79.2h0M114.9,80.9h0M117.3,79.9h0M117.0,82.3h0M120.6,76.3h0M113.8,79.5h0M118.5,82.5h0M120.8,82.4h0M117.5,76.3h0M115.7,80.7h0M125.5,80.2h0M128.1,78.3h0M113.4,82.7h0M125.1,80.6h0M125.0,76.7h0M119.4,78.6h0M116.3,76.5h0M120.9,82.8h0M126.5,77.5h0M111.3,78.1h0M118.2,84.1h0M112.4,80.1h0M122.5,83.3h0M125.4,80.3h0M127.8,78.4h0M126.3,83.7h0M117.8,81.5h0M126.6,76.9h0M111.7,77.4h0M115.8,80.8h0M114.3,81.2h0M115.0,81.1h0M116.0,80.3h0M128.0,79.4h0M116.4,80.0h0M124.1,78.0h0M123.7,80.6h0M119.5,82.0h0M118.6,80.7h0M106.3,61.5h0M107.2,51.7h0M102.0,59.5h0M110.4,59.3h0M107.2,64.9h0M102.1,60.6h0M104.2,53.4h0M105.3,55.4h0M108.3,52.9h0M103.5,63.2h0M108.6,57.4h0M107.4,53.8h0M103.3,53.4h0M100.2,53.7h0M107.5,51.8h0M106.6,66.8h0M111.1,62.0h0M106.4,58.9h0M109.3,58.9h0M108.8,59.4h0M105.6,64.2h0M109.4,60.7h0M108.7,57.1h0M102.8,62.6h0M106.0,52.8h0M102.4,52.9h0M105.9,52.6h0M104.9,58.4h0M104.9,50.5h0M106.7,51.1h0M128.2,48.4h0M129.0,55.9h0M126.2,55.6h0M129.7,47.7h0M127.8,53.3h0M124.2,51.0h0M128.2,54.1h0M131.0,48.6h0M128.9,55.8h0M125.3,54.3h0M125.3,50.1h0M129.9,46.1h0M131.3,52.4h0M130.6,53.6h0M129.9,56.4h0M127.4,55.8h0M125.0,48.0h0M132.1,51.5h0M123.1,51.1h0M132.5,50.1h0M130.9,54.4h0M130.5,53.2h0M130.9,55.5h0M124.5,50.0h0M124.7,55.0h0" stroke="#d89000" stroke-width="2.6" stroke-linecap="round" fill="none"/>
<path d="M133.6,62.5h0M140.9,66.2h0M131.7,60.2h0M127.0,57.2h0M130.2,65.8h0M138.8,55.3h0M141.4,55.0h0M147.5,62.2h0M135.1,53.5h0M133.6,51.3h0M129.6,66.7h0M132.1,65.1h0M140.0,51.6h0M138.1,54.0h0M133.2,60.7h0M144.4,56.4h0M144.2,66.7h0M141.0,50.5h0M139.5,62.8h0M139.0,52.1h0M133.3,67.1h0M133.4,63.5h0M132.0,57.3h0M129.3,54.5h0M141.0,63.9h0M136.4,50.7h0M131.9,66.5h0M140.7,53.9h0M139.8,65.4h0M141.1,64.9h0M137.7,53.5h0M128.2,58.6h0M145.1,54.7h0M130.3,62.0h0M131.0,54.1h0M143.9,67.1h0M134.0,56.2h0M134.0,53.6h0M130.8,61.2h0M137.5,55.7h0M142.8,52.5h0M139.5,56.5h0M137.1,58.3h0M138.5,59.9h0M128.9,53.8h0M147.7,60.5h0M138.0,54.1h0M136.3,63.3h0M136.9,57.9h0M130.3,60.0h0M142.6,56.6h0M128.7,64.7h0M138.3,53.5h0M143.0,61.5h0M134.4,62.9h0M146.5,55.7h0M134.0,51.9h0M137.2,50.9h0M142.9,54.4h0M136.9,55.3h0M130.4,52.6h0M136.0,57.6h0M141.7,61.9h0M137.9,53.6h0M134.9,56.4h0M135.5,66.7h0M131.8,55.3h0M140.4,57.9h0M145.0,58.2h0M131.0,67.2h0M138.4,63.9h0M146.9,58.2h0M136.0,58.1h0M129.5,54.0h0M135.0,59.3h0M135.9,51.2h0M140.8,68.4h0M138.5,67.1h0M142.4,60.8h0M137.9,60.2h0M132.5,59.2h0M135.4,51.5h0M134.7,59.0h0M146.6,60.8h0M146.8,64.0h0M129.0,65.4h0M130.0,62.6h0M148.0,61.0h0M141.8,69.0h0M129.2,54.8h0M131.3,63.7h0M135.5,53.5h0M127.7,59.1h0M132.3,58.3h0M129.0,54.4h0M138.6,53.9h0M137.1,64.2h0M141.2,57.6h0M136.6,66.6h0M131.0,68.5h0M145.3,60.0h0M141.7,54.5h0M147.4,59.8h0M131.8,55.5h0M145.6,57.2h0M132.6,54.5h0M139.7,68.1h0M146.5,60.4h0M135.5,63.2h0M138.7,65.0h0M133.0,63.2h0M131.2,60.4h0M138.9,65.7h0M138.4,62.5h0M133.9,54.1h0M141.8,61.5h0M141.1,67.1h0M131.9,52.5h0M141.5,68.1h0M134.1,53.6h0M136.8,54.7h0M139.6,62.5h0M140.3,69.0h0M129.6,57.7h0M132.9,63.3h0M135.4,63.1h0M141.2,54.6h0M146.3,57.2h0M133.8,66.5h0M127.5,57.9h0M135.3,67.1h0M132.1,51.4h0M128.3,58.5h0M127.4,63.1h0M127.2,63.7h0M130.4,63.7h0M136.7,60.8h0M133.5,51.3h0M132.8,68.7h0M138.7,52.6h0M132.9,53.1h0M129.3,53.9h0M137.8,69.9h0M129.2,52.6h0M136.0,60.0h0M147.9,57.9h0M140.0,68.5h0M127.9,57.7h0M146.1,58.3h0M134.9,55.3h0M141.7,65.4h0M135.1,55.9h0M138.2,57.9h0M131.3,58.9h0M145.2,55.9h0M135.9,50.4h0M136.9,59.7h0M133.8,57.4h0M130.8,60.5h0M137.7,62.2h0M144.6,64.3h0M142.8,59.7h0M144.9,56.9h0M129.8,59.9h0M136.0,52.1h0M144.4,55.5h0M138.3,63.8h0M133.2,69.1h0M145.3,54.7h0M137.6,62.1h0M146.2,56.0h0M140.7,52.8h0M135.3,69.9h0M136.4,52.3h0M141.0,61.9h0M138.6,62.7h0M133.4,51.4h0M134.8,65.5h0M137.3,64.1h0M128.0,58.0h0M131.3,56.4h0M146.0,57.0h0M131.3,65.1h0M135.1,66.6h0M141.8,53.4h0M135.0,65.0h0M136.2,51.8h0M138.9,56.1h0M137.5,68.7h0M136.1,58.1h0M148.2,62.4h0M153.2,65.9h0M148.7,64.3h0M149.3,63.1h0M147.9,67.3h0M145.5,69.5h0M144.7,67.8h0M152.5,70.1h0M150.3,66.5h0M147.6,64.1h0M150.8,70.1h0M150.7,59.9h0M148.6,62.3h0M145.1,67.3h0M150.1,68.0h0M149.1,68.9h0M149.1,62.0h0M153.0,64.4h0M149.3,60.7h0M147.6,67.2h0M147.1,70.1h0M154.4,65.0h0M152.3,63.7h0M148.1,63.1h0M148.8,67.0h0M142.8,62.9h0M148.6,60.6h0M151.1,59.8h0M144.2,63.5h0M146.7,70.4h0M147.4,59.6h0M148.2,61.0h0M148.2,68.1h0M152.3,61.5h0M152.0,63.0h0M144.5,61.6h0M145.5,65.2h0M153.7,66.8h0M147.0,60.0h0M142.5,65.5h0M143.2,67.2h0M144.9,66.8h0M142.5,67.3h0M149.4,71.6h0M147.3,69.8h0M146.4,66.0h0M148.7,65.1h0M147.0,65.5h0M149.8,72.1h0M148.1,67.4h0M158.1,54.7h0M159.2,50.3h0M161.5,53.1h0M157.8,61.1h0M158.6,50.7h0M157.1,50.0h0M154.5,47.0h0M156.3,46.5h0M157.1,61.0h0M150.2,55.5h0M152.6,60.1h0M159.5,59.7h0M154.1,49.1h0M155.1,58.2h0M157.0,47.1h0M160.8,47.4h0M152.2,48.6h0M155.2,51.1h0M155.0,48.7h0M163.5,50.7h0M152.6,50.4h0M156.9,57.1h0M158.8,55.8h0M159.0,45.5h0M153.0,47.2h0M151.9,51.3h0M158.6,49.1h0M159.8,52.8h0M156.0,54.1h0M160.2,59.0h0M153.2,52.0h0M153.6,45.9h0M157.4,56.7h0M156.4,59.5h0M160.6,54.1h0M158.7,60.0h0M157.6,53.0h0M154.5,58.8h0M157.6,53.2h0M152.4,56.0h0M152.6,55.8h0M156.7,52.3h0M151.6,56.2h0M156.2,54.0h0M159.5,46.9h0M160.8,47.9h0M151.8,56.6h0M157.4,60.1h0M157.1,59.2h0M160.0,49.8h0M162.2,47.3h0M158.1,52.8h0M158.0,60.0h0M160.3,53.7h0M158.6,60.2h0M160.6,46.9h0M151.5,47.5h0M160.0,50.8h0M153.1,53.0h0M161.3,57.6h0M154.1,53.7h0M161.9,57.7h0M153.6,56.2h0M163.2,52.5h0M154.3,50.6h0M160.7,54.6h0M162.6,54.7h0M156.0,47.7h0M160.1,55.6h0M154.1,48.4h0M153.2,56.5h0M159.6,54.0h0M155.5,48.1h0M158.4,46.2h0M157.2,57.5h0M147.5,72.2h0M137.9,71.5h0M132.9,73.1h0M144.8,72.4h0M140.4,72.6h0M137.0,73.9h0M134.1,71.8h0M145.3,74.3h0M136.2,75.6h0M141.2,68.4h0M145.6,74.5h0M146.1,72.0h0M132.7,74.0h0M147.2,70.5h0M142.1,73.0h0M140.0,68.8h0M138.8,73.4h0M142.0,69.2h0M132.6,73.5h0M144.1,76.2h0M144.5,75.3h0M131.7,71.6h0M142.2,68.9h0M134.6,69.7h0M140.4,68.1h0M141.6,70.9h0M141.7,71.8h0M134.8,70.7h0M139.2,69.2h0M141.2,74.8h0M136.3,73.0h0M134.1,70.6h0M141.6,69.8h0M140.6,72.8h0M133.9,69.4h0M128.0,56.5h0M125.9,53.1h0M127.3,53.3h0M127.9,51.7h0M131.9,52.9h0M130.5,51.9h0M126.2,50.6h0M126.2,53.4h0M130.1,52.3h0M127.8,56.5h0M129.4,56.9h0M131.7,56.7h0M127.6,51.3h0M132.5,52.7h0M129.0,48.3h0" stroke="#7fa80a" stroke-width="2.6" stroke-linecap="round" fill="none"/>
<path d="M177.2,40.9h0M166.0,38.2h0M158.4,30.9h0M163.9,36.2h0M157.5,31.2h0M162.5,26.9h0M164.5,33.1h0M176.5,35.4h0M167.6,28.5h0M169.4,40.1h0M165.1,40.5h0M163.7,40.0h0M176.5,41.2h0M175.3,39.8h0M163.7,35.1h0M170.5,29.3h0M161.6,27.8h0M176.3,34.8h0M173.0,31.4h0M173.4,34.2h0M164.3,37.7h0M167.8,25.5h0M170.5,42.3h0M163.0,36.7h0M161.4,40.2h0M170.2,39.3h0M164.6,26.3h0M166.8,40.1h0M161.7,31.8h0M172.3,36.0h0M159.3,38.6h0M172.8,35.9h0M164.3,35.7h0M159.3,32.2h0M161.3,29.6h0M167.7,29.9h0M158.1,30.1h0M163.1,28.7h0M163.1,30.7h0M173.1,34.8h0M161.5,26.7h0M170.1,44.9h0M165.6,26.4h0M167.2,26.9h0M161.9,31.1h0M171.9,40.0h0M177.7,34.5h0M173.3,33.9h0M175.0,34.6h0M165.6,29.8h0M157.7,31.1h0M176.2,41.5h0M164.5,29.1h0M157.7,32.0h0M172.7,30.4h0M172.7,37.9h0M174.7,33.6h0M168.4,40.4h0M161.1,36.8h0M175.5,41.9h0M173.8,36.9h0M171.2,36.1h0M165.5,31.5h0M158.5,31.7h0M159.1,26.4h0M163.9,33.0h0M162.0,24.9h0M162.4,31.7h0M165.7,30.7h0M166.5,31.0h0M162.0,27.7h0M169.6,34.3h0M159.1,27.2h0M163.7,30.6h0M160.4,37.9h0M158.8,34.5h0M175.1,38.6h0M164.2,28.6h0M178.2,39.2h0M172.5,32.2h0M165.2,39.8h0M171.2,37.5h0M163.8,26.3h0M177.1,39.5h0M171.1,42.2h0M172.3,41.1h0M166.2,41.0h0M162.9,25.3h0M156.2,30.3h0M162.8,30.9h0M166.8,25.1h0M173.1,44.9h0M161.1,30.8h0M161.8,38.6h0M163.3,34.2h0M170.7,30.2h0M160.2,34.6h0M167.2,25.7h0M160.5,29.2h0M170.8,36.9h0M161.5,25.2h0M173.0,33.1h0M163.6,29.7h0M158.5,34.1h0M171.5,33.2h0M157.4,27.5h0M163.2,25.3h0M164.3,26.2h0M158.4,30.0h0M161.6,34.3h0M164.7,29.8h0M159.6,29.2h0M163.7,42.3h0M160.6,37.7h0M164.4,27.6h0M168.3,40.8h0M169.7,44.8h0M175.3,31.9h0M169.2,44.4h0M167.8,39.0h0M160.5,29.2h0M170.5,37.9h0M162.1,32.1h0M178.1,38.5h0M157.2,31.9h0M162.3,36.6h0M161.6,37.4h0M169.8,29.3h0M174.7,38.1h0M159.9,38.5h0M167.6,39.0h0M163.9,36.4h0M175.8,36.5h0M168.5,41.1h0M173.7,42.9h0M159.9,30.0h0M159.4,33.2h0M166.0,28.5h0M170.3,33.7h0M168.2,29.2h0M160.2,36.9h0M156.7,27.4h0M167.0,28.0h0M162.1,31.8h0M167.8,31.4h0M173.7,39.2h0M167.0,28.4h0M163.3,38.2h0M158.6,31.3h0M173.0,31.7h0M161.6,40.9h0M168.5,32.5h0M170.3,27.5h0M161.3,39.7h0M169.0,42.1h0M173.0,40.3h0M170.9,35.5h0M172.0,28.5h0M177.7,39.3h0M166.3,27.8h0M176.0,38.9h0M164.3,25.8h0M164.9,37.1h0M174.1,33.7h0M176.4,40.1h0M171.5,36.3h0M160.0,28.2h0M171.6,30.2h0M169.7,35.3h0M168.4,40.8h0M164.2,25.5h0M158.6,28.2h0M155.8,31.9h0M165.8,40.8h0M169.8,28.9h0M159.0,39.7h0M163.4,35.2h0M164.5,35.6h0M157.9,33.0h0M161.9,28.6h0M172.3,45.1h0M163.9,29.2h0M162.9,28.9h0M167.3,42.5h0M171.4,41.4h0M176.9,41.7h0M164.7,41.2h0M163.1,40.1h0M159.6,26.3h0M164.0,39.5h0M178.1,44.0h0M173.7,44.0h0M178.6,43.6h0M180.1,49.0h0M174.5,42.4h0M173.8,43.6h0M174.7,49.7h0M177.1,44.5h0M181.7,48.4h0M179.0,48.9h0M173.0,42.1h0M173.3,46.6h0M176.3,42.8h0M175.8,48.3h0M173.5,44.1h0M174.9,44.6h0M176.1,42.5h0M181.1,47.6h0M176.8,48.5h0M178.6,46.8h0M178.5,44.7h0M180.1,43.4h0M176.8,43.4h0M183.1,43.9h0M175.1,48.4h0M177.5,46.5h0M183.6,44.9h0M180.1,45.7h0M174.1,45.6h0M182.3,46.4h0M179.3,46.9h0M179.3,49.3h0M175.7,46.6h0M177.5,46.5h0M173.1,45.2h0M175.7,47.8h0M177.2,45.0h0M176.5,44.0h0M180.4,45.0h0M182.7,43.7h0M177.3,48.3h0M174.8,42.8h0M174.2,45.2h0M178.3,49.2h0M179.3,42.1h0M175.5,46.2h0M173.6,45.2h0M174.9,50.3h0M179.8,42.3h0M174.8,46.9h0M172.6,43.2h0M175.9,44.6h0M178.5,46.9h0M174.5,43.3h0M182.5,43.9h0M180.7,50.1h0M183.0,49.7h0M184.1,48.5h0M183.3,50.7h0M167.4,48.5h0M166.0,45.7h0M165.9,43.5h0M164.1,46.2h0M167.3,45.8h0M168.2,48.2h0M165.1,44.4h0M169.5,46.8h0M163.0,46.5h0M166.5,46.5h0" stroke="#00a9ff" stroke-width="2.6" stroke-linecap="round" fill="none"/>
<path d="M179.5,57.1h0M183.3,57.5h0M180.4,62.9h0M184.8,57.4h0M170.8,61.7h0M180.6,56.0h0M172.9,53.8h0M179.4,51.7h0M174.0,63.1h0M171.1,54.8h0M182.6,60.5h0M175.2,58.4h0M171.7,56.3h0M171.7,63.5h0M174.1,58.1h0M186.5,56.1h0M175.5,62.1h0M179.1,61.0h0M181.3,53.9h0M183.4,62.1h0M178.8,60.9h0M174.0,56.4h0M183.0,63.0h0M173.8,56.1h0M179.9,55.6h0M172.0,62.3h0M183.2,54.8h0M169.1,56.5h0M178.8,62.7h0M174.0,53.1h0M177.0,54.1h0M176.9,59.0h0M184.5,56.8h0M180.0,55.8h0M176.4,58.6h0M179.8,54.0h0M185.1,59.0h0M178.4,61.1h0M180.4,52.2h0M171.8,63.4h0M175.1,59.0h0M175.6,58.7h0M171.2,56.0h0M172.8,53.7h0M183.1,59.1h0M170.0,57.2h0M172.1,56.0h0M170.4,59.5h0M174.8,55.4h0M174.5,58.7h0M190.9,54.4h0M194.4,57.0h0M191.1,57.6h0M190.6,60.8h0M186.3,58.2h0M187.0,53.9h0M186.0,52.4h0M190.1,59.5h0M194.4,53.7h0M188.2,61.1h0M187.7,59.7h0M190.8,56.6h0M191.6,60.2h0M192.9,56.2h0M192.5,59.9h0M186.1,56.8h0M187.2,59.4h0M190.0,55.8h0M189.9,57.7h0M193.0,58.9h0M192.1,60.8h0M189.7,60.8h0M192.4,54.4h0M191.4,55.4h0M187.9,51.3h0M195.8,47.7h0M195.3,55.3h0M201.1,51.6h0M201.3,52.1h0M202.5,48.4h0M195.2,45.1h0M196.2,49.9h0M200.9,55.0h0M202.0,54.4h0M202.7,46.0h0M199.5,44.0h0M196.2,56.5h0M198.4,52.0h0M199.2,46.7h0M197.9,45.3h0M196.1,56.0h0M199.7,45.3h0M192.1,46.5h0M195.1,43.0h0M201.1,57.9h0M203.5,52.2h0M196.5,48.8h0M197.2,44.0h0M202.2,45.6h0M192.7,50.3h0M199.7,53.4h0M197.7,53.1h0M201.4,54.2h0M194.1,46.7h0M195.6,44.3h0M196.9,53.4h0M199.6,48.1h0M192.8,52.8h0M200.3,48.4h0M202.4,47.4h0M201.4,47.7h0M194.5,53.2h0M200.6,52.8h0M194.2,49.9h0M197.8,44.2h0M200.5,53.2h0M192.8,48.6h0M193.8,49.9h0M202.4,54.3h0M198.8,49.8h0M202.7,51.1h0M201.8,50.6h0M201.4,44.5h0M197.5,49.9h0M195.0,49.9h0M192.8,46.1h0M199.5,45.9h0M201.2,54.9h0M197.6,48.5h0M197.7,49.5h0M200.1,50.8h0M194.3,54.1h0M199.9,55.5h0M195.3,51.3h0M204.2,48.6h0M197.6,45.3h0M193.6,47.3h0M198.6,49.3h0M201.2,44.4h0M196.6,44.9h0M196.5,53.9h0M202.6,48.2h0M201.4,51.4h0M199.0,48.8h0M195.6,47.0h0M183.9,66.9h0M193.9,65.9h0M186.7,66.0h0M193.8,65.1h0M186.1,67.7h0M196.1,65.1h0M195.1,67.2h0M184.4,63.3h0M189.2,67.3h0M186.6,63.8h0M192.6,67.0h0M189.8,67.9h0M188.2,66.4h0M187.4,65.2h0M166.7,54.0h0M169.7,60.9h0M167.9,58.4h0M166.6,56.0h0M169.0,60.0h0M167.8,59.2h0M167.4,57.5h0M166.6,59.4h0" stroke="#00b0e0" stroke-width="2.6" stroke-linecap="round" fill="none"/>
<path d="M207.5,71.6h0M207.1,67.2h0M205.6,72.1h0M210.8,72.1h0M206.3,73.1h0M205.9,73.5h0M207.1,72.5h0M205.3,74.0h0M208.4,71.7h0M206.1,68.9h0M205.2,74.9h0M209.1,76.0h0M209.3,67.3h0M206.8,67.1h0M207.0,72.3h0M209.1,70.5h0M206.4,78.1h0M208.1,75.0h0M208.3,65.3h0M208.2,75.7h0M208.8,73.8h0M208.7,73.8h0M216.2,78.3h0M216.2,80.3h0M217.8,78.9h0M218.0,78.0h0M218.1,80.7h0M216.1,80.4h0M213.8,76.1h0M217.2,78.7h0M217.4,77.6h0M216.8,80.2h0" stroke="#ee5fe0" stroke-width="2.6" stroke-linecap="round" fill="none"/>
<path d="M173.3,83.2h0M179.8,92.2h0M175.5,88.5h0M179.5,85.7h0M171.2,81.4h0M177.3,90.0h0M174.6,83.1h0M172.8,84.2h0M176.3,84.8h0M177.3,89.1h0M177.3,87.1h0M181.2,90.8h0M177.9,87.4h0M175.3,82.4h0M180.6,89.7h0M173.3,84.6h0M176.4,88.7h0M179.0,88.0h0M181.0,88.8h0M179.1,86.9h0M176.4,89.4h0M178.6,89.3h0M179.5,89.4h0M172.9,83.4h0M171.0,82.1h0M172.0,85.0h0M172.0,82.5h0M175.3,84.2h0M182.5,92.2h0M177.5,90.9h0M194.6,84.4h0M194.2,83.7h0M196.0,84.7h0M190.8,79.6h0M193.0,81.3h0M189.9,81.2h0M191.0,82.3h0M193.0,80.5h0M195.5,86.6h0M196.1,83.4h0M197.9,86.1h0M192.2,81.4h0M194.7,79.7h0M190.9,80.4h0M193.0,81.9h0M194.3,79.7h0M191.2,80.7h0M196.5,84.5h0M191.1,80.2h0M195.3,85.3h0M195.7,85.7h0M192.9,81.3h0M195.1,82.3h0M191.1,81.4h0M161.6,66.8h0M165.2,67.2h0M164.7,67.1h0M165.5,67.7h0M163.1,69.0h0M162.0,68.8h0M163.2,67.5h0M160.5,68.4h0M161.8,66.7h0M163.9,67.3h0" stroke="#9590ff" stroke-width="2.6" stroke-linecap="round" fill="none"/>
<path d="M213.7,99.5h0M221.7,90.3h0M210.0,104.2h0M205.2,89.5h0M210.0,96.9h0M207.4,95.1h0M222.5,96.2h0M201.9,92.1h0M223.1,98.2h0M220.0,98.0h0M200.3,91.7h0M201.1,88.9h0M211.2,102.7h0M201.4,91.7h0M205.2,86.0h0M215.8,92.7h0M197.7,95.0h0M204.0,92.9h0M203.5,92.0h0M200.3,92.3h0M202.6,92.0h0M199.0,94.1h0M218.1,90.9h0M220.7,88.9h0M201.1,100.8h0M210.8,103.2h0M210.9,85.2h0M212.6,89.3h0M218.5,101.4h0M203.7,94.4h0M202.4,95.7h0M220.1,93.9h0M206.7,86.8h0M213.5,86.2h0M217.5,89.7h0M211.3,94.6h0M225.2,97.6h0M205.5,86.1h0M203.8,100.9h0M205.5,85.4h0M220.3,92.2h0M216.7,98.5h0M209.1,93.7h0M220.5,91.5h0M202.7,99.1h0M217.9,94.3h0M222.6,99.0h0M203.5,85.8h0M219.4,92.6h0M205.1,102.7h0M212.1,99.7h0M223.7,99.8h0M209.5,102.9h0M222.1,90.0h0M209.4,85.4h0M207.8,97.3h0M223.3,91.7h0M204.1,101.0h0M215.1,91.9h0M200.8,87.8h0M210.9,87.4h0M216.0,96.4h0M221.4,97.3h0M222.2,94.4h0M201.7,88.7h0M208.9,95.6h0M213.6,99.8h0M202.7,94.2h0M217.5,90.7h0M202.1,101.8h0M210.5,96.2h0M211.1,94.2h0M222.5,90.5h0M213.5,99.8h0M218.6,88.0h0M222.0,88.2h0M219.0,99.7h0M214.9,101.0h0M198.1,95.0h0M216.4,97.0h0M204.7,93.8h0M203.3,94.5h0M225.4,97.5h0M218.6,104.1h0M206.8,89.2h0M221.4,101.4h0M196.9,95.6h0M213.1,93.0h0M218.8,87.0h0M219.0,101.5h0M215.5,95.4h0M206.8,94.7h0M207.2,88.1h0M212.7,90.8h0M208.5,88.0h0M221.5,100.0h0M201.1,93.7h0M211.2,94.6h0M207.1,91.4h0M201.1,95.8h0M203.1,99.7h0M206.0,93.0h0M211.7,97.6h0M207.3,98.4h0M204.0,93.9h0M196.8,90.7h0M219.2,93.5h0M223.4,98.0h0M209.1,90.1h0M201.9,87.4h0M222.7,99.6h0M203.9,88.2h0M220.5,95.3h0M220.7,101.3h0M206.4,104.3h0M216.6,84.8h0M219.6,90.1h0M209.6,101.8h0M206.5,92.5h0M197.7,97.9h0M206.1,102.3h0M207.0,102.3h0M212.7,86.1h0M199.6,88.6h0M208.4,93.8h0M202.9,89.6h0M220.3,95.3h0M199.9,99.2h0M204.2,88.2h0M201.9,99.0h0M212.8,100.3h0M219.8,99.2h0M214.5,91.7h0M205.0,95.8h0M208.7,95.9h0M205.4,100.8h0M211.5,96.2h0M211.9,92.3h0M202.9,89.1h0M216.4,91.6h0M210.4,87.2h0M205.3,98.6h0M213.6,98.4h0M204.2,89.9h0M209.7,85.4h0M201.2,97.2h0M218.9,92.2h0M204.3,89.5h0M212.9,97.5h0M219.8,91.8h0M210.7,104.0h0M219.1,96.6h0M208.1,87.0h0M203.6,95.1h0M220.4,91.8h0M197.6,95.1h0M218.8,98.9h0M210.8,88.7h0M207.5,105.2h0M197.2,94.5h0M204.5,98.6h0M218.2,98.4h0M200.3,100.3h0M216.0,87.0h0M217.7,103.6h0M199.5,93.5h0M212.2,105.0h0M214.3,89.3h0M210.7,104.9h0M217.2,101.2h0M206.4,87.2h0M205.0,103.3h0M216.2,101.0h0M208.1,99.2h0M204.3,101.5h0M207.1,99.9h0M208.1,99.9h0M206.0,95.4h0M215.6,88.5h0M205.7,89.1h0M201.8,90.9h0M215.5,94.0h0M223.6,91.4h0M218.0,101.6h0M222.1,91.5h0M203.0,100.7h0M210.6,89.5h0M217.0,101.6h0M204.4,95.5h0M211.7,85.3h0M209.8,101.7h0M220.4,99.7h0M214.8,101.7h0M209.6,97.0h0M221.5,96.5h0M206.6,95.9h0M206.5,92.9h0M222.1,89.6h0M206.9,90.7h0M212.4,98.3h0M209.0,98.7h0M220.5,89.9h0M206.0,96.2h0M219.8,98.0h0M211.6,87.0h0M222.7,93.8h0M206.1,103.4h0M206.4,97.5h0M197.7,92.9h0M220.1,94.8h0M223.5,86.7h0M218.7,87.0h0M224.0,85.4h0M223.5,88.1h0M226.5,87.9h0M217.7,86.5h0M216.3,86.3h0M220.8,89.0h0M219.6,87.0h0M218.8,88.2h0M219.0,87.3h0M218.2,85.7h0M222.1,87.8h0M219.7,89.3h0M221.6,85.9h0M225.3,87.3h0M222.2,86.3h0M222.6,89.9h0M220.1,84.8h0M219.7,89.2h0M199.1,95.5h0M198.6,102.8h0M199.1,97.6h0M196.0,96.2h0M196.5,99.6h0M197.7,99.2h0M197.5,97.2h0M197.6,95.4h0M199.4,98.3h0M196.9,103.5h0M199.5,99.2h0M198.4,101.8h0" stroke="#0ab8a0" stroke-width="2.6" stroke-linecap="round" fill="none"/>
<path d="M173.9,106.0h0M190.8,103.0h0M176.9,106.5h0M179.2,105.5h0M168.6,103.6h0M179.5,109.1h0M171.4,103.1h0M183.9,105.2h0M189.5,101.9h0M184.6,104.8h0M175.5,106.4h0M192.3,103.4h0M168.8,103.0h0M176.4,100.6h0M175.0,102.1h0M178.9,105.1h0M180.8,97.9h0M188.9,104.2h0M190.1,107.2h0M173.0,107.8h0M181.8,105.1h0M175.3,103.0h0M185.3,101.4h0M179.7,103.7h0M187.1,104.9h0M167.4,104.6h0M171.6,99.9h0M177.2,105.1h0M182.4,106.5h0M170.5,101.0h0M181.0,106.7h0M184.8,108.7h0M177.3,99.3h0M180.0,101.9h0M190.9,101.2h0M178.6,100.5h0M179.5,107.6h0M176.1,99.2h0M180.5,100.6h0M176.4,104.5h0M176.7,101.2h0M173.3,107.2h0M191.2,103.8h0M190.5,104.4h0M178.3,108.4h0M186.5,107.0h0M168.3,102.7h0M176.1,103.1h0M174.0,107.2h0M189.4,104.4h0M173.9,101.0h0M174.3,102.2h0M177.8,97.9h0M188.5,107.4h0M187.4,106.4h0M170.5,102.2h0M188.9,106.0h0M183.7,98.8h0M178.2,108.9h0M173.6,105.6h0M177.0,105.1h0M170.1,107.0h0M172.8,107.7h0M170.6,103.1h0M171.0,103.5h0M172.2,99.0h0M188.4,108.3h0M182.7,106.3h0M178.5,102.3h0M170.2,107.3h0M188.3,100.1h0M172.1,99.8h0M172.3,104.9h0M175.3,99.3h0M186.9,108.7h0M187.6,104.8h0M179.1,106.4h0M168.6,104.7h0M185.9,101.6h0M173.5,105.5h0M188.2,103.3h0M176.3,105.8h0M178.3,109.3h0M181.4,100.7h0M186.5,106.0h0M179.3,102.4h0M182.1,109.0h0M172.4,109.0h0M178.0,98.2h0M176.9,103.7h0M178.3,110.4h0M176.6,112.7h0M176.7,110.1h0M175.8,110.7h0M176.0,115.7h0M175.3,116.8h0M182.0,108.8h0M182.2,118.7h0M180.3,111.0h0M175.1,114.8h0M172.9,116.1h0M185.9,113.4h0M180.1,117.1h0M172.9,116.0h0M174.6,116.3h0M184.0,111.1h0M179.3,107.1h0M177.8,108.1h0M171.6,112.7h0M175.7,117.1h0M175.2,108.1h0M172.6,115.4h0M186.0,110.7h0M178.7,118.3h0M182.1,111.4h0M179.2,116.4h0M179.3,118.4h0M184.3,108.1h0M181.1,114.3h0M181.0,107.2h0M178.2,116.1h0M179.8,108.0h0M186.9,111.9h0M180.8,113.6h0M185.7,113.7h0M178.8,118.7h0M181.0,119.3h0M174.4,118.1h0M175.4,108.9h0M174.9,117.8h0M177.7,112.4h0M177.0,106.9h0M183.0,110.5h0M184.3,112.7h0M181.4,115.9h0M179.0,118.8h0M186.1,116.5h0M186.3,109.2h0M183.4,116.7h0M177.4,119.6h0M172.7,113.4h0M177.6,106.5h0M185.2,114.0h0M185.4,109.6h0M181.3,110.7h0M181.4,112.8h0M176.0,111.0h0M176.5,110.2h0M179.6,110.3h0M177.1,118.6h0M174.3,111.5h0M185.2,113.5h0M182.9,117.9h0M169.8,113.9h0M180.6,116.2h0M174.0,117.6h0M178.6,109.7h0M184.1,111.6h0M176.2,115.6h0M185.4,110.4h0M173.8,116.3h0M186.6,109.1h0M175.4,113.2h0M183.1,105.3h0M175.9,118.2h0M178.9,112.0h0M188.2,115.6h0M173.3,112.7h0M185.5,115.5h0M176.7,111.1h0M181.6,116.7h0M178.4,117.8h0M184.9,107.5h0M184.0,106.2h0M182.8,107.0h0M173.8,111.9h0M188.7,109.7h0M182.1,114.5h0M184.6,114.6h0M184.5,108.3h0M180.3,127.1h0M176.5,119.3h0M182.3,122.1h0M176.9,124.9h0M181.4,124.4h0M172.8,120.7h0M177.9,121.5h0M176.4,119.2h0M175.1,125.0h0M180.8,124.4h0M181.7,123.6h0M174.8,122.7h0M179.5,123.7h0M177.2,123.6h0M181.6,126.9h0M173.6,123.3h0M174.7,124.0h0M176.1,120.3h0M173.8,125.3h0M173.8,125.9h0M177.0,126.1h0M180.2,121.9h0M178.1,119.5h0M176.0,122.4h0M178.6,118.4h0M178.5,120.9h0M175.0,119.4h0M172.5,121.4h0M175.3,124.0h0M177.7,128.6h0M181.4,122.0h0M178.3,124.2h0M177.8,125.1h0M178.3,126.2h0M181.3,120.4h0M181.3,122.0h0M177.1,117.9h0M174.4,124.3h0M181.6,119.4h0M179.7,126.9h0M183.1,96.4h0M183.2,89.8h0M185.0,92.6h0M183.3,90.1h0M183.7,90.7h0M181.9,89.3h0M184.3,90.1h0M179.1,94.9h0M183.9,91.4h0M181.1,95.4h0M181.9,95.6h0M183.2,97.3h0M184.4,91.9h0M179.9,93.6h0" stroke="#35b000" stroke-width="2.6" stroke-linecap="round" fill="none"/>
<path d="M178.4,154.0h0M180.5,137.8h0M183.9,147.4h0M173.5,153.7h0M170.5,150.1h0M186.0,150.7h0M167.5,139.7h0M174.5,146.3h0M169.5,135.5h0M167.9,149.7h0M160.9,144.0h0M163.0,153.3h0M165.9,150.7h0M174.5,154.5h0M180.1,154.9h0M181.8,136.9h0M172.8,137.2h0M189.4,148.3h0M159.8,140.9h0M159.3,138.2h0M171.9,145.8h0M179.1,146.5h0M179.7,136.6h0M172.2,137.2h0M179.5,147.5h0M159.1,139.7h0M182.0,138.0h0M157.1,148.2h0M183.0,136.2h0M168.1,136.1h0M189.5,145.0h0M161.2,144.6h0M165.0,150.5h0M165.7,135.1h0M176.7,154.8h0M188.7,143.7h0M186.9,145.3h0M163.5,145.4h0M162.6,153.0h0M159.7,141.3h0M186.3,142.4h0M177.7,146.7h0M163.4,140.9h0M168.2,145.7h0M167.1,147.0h0M176.9,138.0h0M180.1,154.5h0M176.3,140.4h0M168.8,139.2h0M167.4,146.8h0M165.2,154.8h0M180.3,147.7h0M171.8,143.9h0M167.2,151.3h0M168.1,155.9h0M184.2,141.6h0M189.0,146.9h0M171.3,148.5h0M175.2,155.6h0M166.2,155.5h0M166.0,148.3h0M172.4,150.2h0M171.3,138.5h0M184.5,138.7h0M174.3,145.8h0M188.4,141.4h0M158.3,150.7h0M160.8,146.0h0M181.4,154.2h0M161.1,141.8h0M176.7,133.7h0M188.8,149.8h0M176.7,150.0h0M167.9,144.9h0M164.4,141.5h0M170.7,155.3h0M162.1,136.3h0M169.6,156.4h0M185.5,138.1h0M169.9,137.5h0M168.9,154.4h0M174.8,153.0h0M173.8,154.9h0M182.0,145.2h0M175.7,138.9h0M157.3,146.3h0M186.0,142.9h0M170.2,157.5h0M164.4,145.3h0M181.5,153.8h0M165.4,154.6h0M172.1,151.0h0M158.1,149.7h0M161.4,144.7h0M163.9,137.2h0M179.5,150.8h0M158.8,140.9h0M175.0,146.2h0M169.6,153.1h0M166.3,138.2h0M171.8,143.0h0M165.2,147.7h0M177.8,157.1h0M167.8,138.5h0M169.4,140.3h0M186.6,146.6h0M187.8,141.5h0M181.9,153.3h0M170.3,139.3h0M167.2,136.9h0M176.1,137.3h0M173.8,144.8h0M168.9,137.5h0M161.0,140.6h0M158.3,143.4h0M167.0,149.7h0M179.8,142.3h0M178.4,152.0h0M169.6,135.7h0M164.9,151.5h0M185.6,151.0h0M180.9,149.0h0M172.7,154.0h0M169.5,153.3h0M171.1,144.0h0M172.2,148.4h0M176.7,147.7h0M165.9,147.5h0M166.9,144.4h0M171.4,148.5h0M165.7,140.4h0M188.3,150.9h0M176.9,137.1h0M174.2,139.8h0M185.9,146.1h0M172.9,147.2h0M166.4,149.7h0M159.4,139.4h0M160.7,147.6h0M184.5,148.1h0M172.3,151.8h0M181.6,138.3h0M179.3,152.4h0M157.3,148.8h0M181.1,143.5h0M180.0,150.1h0M182.0,151.2h0M177.8,151.9h0M168.2,137.4h0M175.3,137.2h0M160.3,150.4h0M178.6,134.9h0M162.8,142.0h0M171.0,152.6h0M177.9,153.8h0M185.3,142.0h0M183.6,141.8h0M166.9,143.3h0M180.3,137.3h0M185.7,150.7h0M176.0,137.1h0M158.6,147.0h0M158.5,144.3h0M170.7,141.9h0M170.2,157.9h0M182.7,144.4h0M180.9,152.1h0M157.8,148.4h0M173.9,152.8h0M164.2,139.3h0M171.4,157.2h0M169.5,136.6h0M170.9,137.6h0M182.5,143.6h0M186.4,151.2h0M165.7,147.3h0M180.2,145.6h0M178.1,149.8h0M171.2,135.1h0M158.1,142.9h0M176.2,138.9h0M186.3,143.5h0M164.4,151.8h0M166.2,154.7h0M180.5,137.1h0M162.0,149.2h0M160.6,140.5h0M167.4,154.2h0M161.9,148.7h0M184.1,151.1h0M163.8,137.3h0M172.8,136.8h0M190.2,144.6h0M177.7,150.4h0M166.7,138.8h0M175.3,155.5h0M185.8,147.4h0M178.5,149.4h0M165.0,145.7h0M185.5,145.9h0M181.6,137.7h0M173.4,156.5h0M171.7,152.3h0M174.9,145.5h0M178.5,140.4h0M178.6,153.2h0M159.1,152.0h0M171.5,153.0h0M168.2,137.3h0M182.7,149.8h0M174.2,140.2h0M185.4,142.0h0M175.2,140.5h0M165.7,142.2h0M187.2,147.1h0M158.2,148.1h0M189.3,146.0h0M170.0,153.5h0M165.0,146.7h0M167.5,146.1h0M174.9,142.9h0M159.3,150.4h0M167.5,150.5h0M178.8,154.3h0M163.5,141.1h0M168.5,139.9h0M169.1,143.7h0M179.3,136.0h0M182.0,138.8h0M162.3,142.1h0M174.8,153.7h0M167.0,148.8h0M168.2,150.8h0M168.9,142.3h0M178.6,153.2h0M182.5,152.1h0M169.4,154.3h0M156.7,142.5h0M172.0,151.6h0M178.3,148.6h0M167.6,156.0h0M170.7,136.5h0M185.1,139.1h0M174.7,134.5h0M169.9,143.6h0M181.6,140.5h0M184.2,139.8h0M177.2,147.4h0M186.4,146.3h0M180.7,153.1h0M169.2,155.7h0M171.3,135.6h0M158.7,144.6h0M169.4,152.4h0M170.5,156.4h0M186.1,145.0h0M163.0,142.2h0M176.2,142.9h0M187.7,140.1h0M172.5,152.0h0M183.8,148.0h0M175.2,142.7h0M165.2,138.5h0M186.3,138.1h0M185.8,149.0h0M160.9,147.8h0M164.2,142.3h0M166.8,146.8h0M174.1,149.3h0M172.2,140.3h0M179.3,136.7h0M169.8,153.5h0M182.7,150.1h0M180.7,149.6h0M175.3,158.3h0M162.5,146.1h0M167.3,152.5h0M176.6,157.1h0M180.1,136.1h0M177.0,155.7h0M169.4,133.6h0M170.1,132.1h0M171.3,129.9h0M176.9,132.7h0M182.8,131.7h0M177.0,133.4h0M182.8,132.7h0M175.1,131.2h0M175.6,136.7h0M180.5,132.2h0M179.3,132.5h0M180.1,131.5h0M176.7,130.8h0M172.7,134.1h0M171.5,133.9h0M175.7,129.8h0M171.1,136.0h0M180.1,131.5h0M176.5,135.2h0M181.5,133.4h0M174.0,132.0h0M175.4,131.5h0M174.7,138.2h0M176.5,136.5h0M171.5,135.0h0M180.4,130.4h0M178.0,135.1h0M178.7,133.6h0" stroke="#00a850" stroke-width="2.6" stroke-linecap="round" fill="none"/>
<path d="M155.1,123.8h0M160.7,134.1h0M164.6,138.0h0M166.7,134.4h0M157.4,122.0h0M164.6,138.0h0M158.4,136.8h0M154.3,123.8h0M156.1,135.1h0M164.4,114.9h0M161.8,138.5h0M154.2,124.6h0M160.8,113.6h0M163.8,136.8h0M164.0,113.3h0M163.6,136.7h0M172.4,129.4h0M164.8,134.1h0M163.2,114.5h0M155.4,129.9h0M170.9,127.0h0M156.6,130.3h0M156.3,120.0h0M164.4,116.4h0M166.5,114.5h0M170.1,124.9h0M166.6,117.3h0M161.3,116.0h0M165.2,114.0h0M162.9,137.5h0M157.2,131.2h0M169.8,123.4h0M166.5,115.1h0M153.5,124.0h0M162.1,117.3h0M168.2,114.7h0M157.5,117.0h0M168.2,117.0h0M166.1,134.0h0M171.6,127.5h0M161.4,115.4h0M160.2,115.8h0M169.8,127.6h0M159.6,116.9h0M161.2,136.0h0M164.7,114.7h0M170.2,123.4h0M159.3,115.9h0M167.4,136.7h0M154.0,128.4h0M164.5,137.8h0M154.6,126.2h0M156.1,129.8h0M157.9,127.4h0M155.7,122.4h0M158.5,114.1h0M162.4,138.0h0M169.9,126.1h0M164.1,137.5h0M165.1,114.2h0M161.0,117.2h0M157.6,122.6h0M160.8,116.3h0M155.2,125.6h0M161.8,137.6h0M160.6,136.2h0M171.5,119.1h0M158.5,132.0h0M159.6,133.4h0M162.7,139.1h0M168.0,129.5h0M163.3,112.5h0M169.8,123.1h0M165.3,137.4h0M162.4,136.9h0M156.2,130.9h0M154.1,128.0h0M166.6,133.5h0M170.0,122.1h0M171.3,131.5h0M159.3,138.9h0M157.3,115.9h0M165.5,117.7h0M165.0,134.9h0M169.0,119.9h0M163.9,117.7h0M168.3,136.3h0M169.7,126.7h0M157.7,130.9h0M157.5,121.2h0M160.7,117.9h0M155.7,124.9h0M156.5,118.8h0M163.2,134.7h0M166.9,137.6h0M154.9,127.7h0M166.9,133.0h0M156.4,130.9h0M157.4,115.0h0M167.3,121.5h0M159.2,109.9h0M159.1,110.4h0M155.0,113.1h0M158.3,113.9h0M157.2,113.6h0M156.1,113.2h0M155.2,112.8h0M156.8,115.4h0" stroke="#e36ef6" stroke-width="2.6" stroke-linecap="round" fill="none"/>
<path d="M154.4,77.7h0M149.9,82.0h0M155.8,79.0h0M151.5,80.7h0M149.4,78.9h0M154.4,78.3h0M151.5,80.2h0M151.6,82.3h0M158.2,78.0h0M156.3,81.9h0M147.4,77.7h0M150.5,81.3h0M156.1,77.8h0M151.3,75.2h0M148.1,80.9h0M152.0,82.9h0M154.3,77.6h0M153.7,77.8h0M153.1,80.4h0M154.2,76.1h0M159.5,79.5h0M153.9,78.5h0M150.0,75.9h0M150.8,81.5h0M152.8,79.0h0M149.8,77.6h0M148.5,81.1h0M152.6,83.7h0M156.2,80.7h0M158.1,77.4h0M154.9,78.0h0M150.9,78.8h0M152.5,78.1h0M150.3,79.0h0M152.1,78.8h0M157.6,79.6h0M158.3,81.9h0M151.8,81.4h0M143.7,85.7h0M141.2,86.7h0M143.7,88.2h0M140.4,83.4h0M143.9,84.7h0M141.0,88.8h0M145.1,88.0h0M143.1,83.3h0M140.8,82.3h0M145.7,86.0h0M139.9,87.9h0M145.2,87.5h0M145.0,108.5h0M145.7,101.3h0M141.5,103.9h0M144.2,105.7h0M141.7,105.6h0M150.0,94.8h0M145.9,105.8h0M146.2,95.2h0M152.5,105.2h0M147.4,93.3h0M139.8,98.0h0M151.1,103.9h0M147.0,95.5h0M152.0,103.1h0M145.3,99.5h0M149.4,102.3h0M152.5,102.8h0M149.2,102.8h0M147.0,98.9h0M143.4,99.4h0M151.5,104.1h0M144.5,106.1h0M143.1,101.0h0M147.6,108.3h0M146.3,96.9h0M146.9,102.8h0M154.7,103.5h0M150.1,107.4h0M144.7,102.6h0M148.4,103.4h0M147.6,103.4h0M147.5,102.4h0M148.5,98.5h0M141.0,99.5h0M140.2,99.5h0M145.8,96.7h0M154.3,104.6h0M148.6,95.4h0M150.0,100.9h0M141.2,102.5h0M143.7,105.2h0M149.8,95.6h0M145.2,101.2h0M146.9,106.6h0M144.7,104.1h0M149.0,99.6h0M153.0,101.2h0M144.4,104.7h0M143.2,99.4h0M139.5,104.9h0M142.0,103.0h0M149.3,98.9h0M142.6,95.7h0M142.1,99.6h0M144.3,103.1h0M141.2,98.8h0M148.2,102.9h0M147.8,104.0h0M144.3,94.1h0M145.3,102.3h0M141.8,105.1h0M143.6,101.0h0M150.8,101.0h0M152.0,94.3h0M143.7,105.7h0M140.1,102.9h0M147.7,106.1h0M149.2,96.8h0M147.6,94.2h0M146.4,104.1h0M147.2,104.5h0M147.0,93.6h0M139.7,98.0h0M141.4,98.4h0M143.1,97.5h0M141.3,96.3h0M146.5,108.2h0M141.8,103.1h0M151.8,96.7h0M144.2,95.4h0M151.4,95.1h0M152.2,99.5h0M145.0,99.6h0M144.6,101.5h0M145.0,105.3h0M143.2,96.6h0M146.1,104.6h0M149.0,103.1h0M148.8,106.4h0M148.9,97.8h0M148.7,98.7h0M146.8,103.2h0M152.4,102.8h0M148.0,93.7h0M149.4,93.6h0M137.1,107.1h0M139.7,108.5h0M138.4,109.7h0M143.2,110.5h0M138.4,109.7h0M137.1,107.8h0M139.7,107.0h0M139.8,107.5h0M136.9,110.0h0M138.1,107.7h0M138.0,108.9h0M138.0,107.3h0M155.4,69.8h0M155.5,72.6h0M159.3,72.4h0M157.9,70.8h0M157.1,72.1h0M155.5,68.2h0M155.6,72.2h0M156.6,67.3h0M158.3,68.7h0M159.7,71.5h0M160.5,70.1h0M154.7,70.5h0M155.7,68.0h0M161.3,70.7h0M155.4,94.0h0M156.5,93.2h0M156.1,91.0h0M152.7,91.0h0M154.7,93.5h0M151.5,92.0h0M152.6,92.9h0M154.2,94.7h0" stroke="#00b8c8" stroke-width="2.6" stroke-linecap="round" fill="none"/>
<path d="M131.1,80.6h0M125.8,93.0h0M133.1,92.8h0M137.2,95.4h0M133.7,75.2h0M133.5,99.8h0M137.4,83.4h0M127.3,98.7h0M128.4,94.9h0M135.6,98.2h0M138.3,91.2h0M126.7,97.9h0M129.4,74.5h0M123.5,92.4h0M126.7,85.3h0M131.2,98.2h0M125.1,88.2h0M128.5,94.4h0M132.4,96.2h0M128.2,77.8h0M129.9,99.7h0M133.7,83.3h0M127.8,80.8h0M136.1,95.0h0M135.0,90.4h0M133.6,82.8h0M127.8,88.0h0M130.2,76.8h0M124.2,92.2h0M133.2,92.7h0M129.8,92.3h0M124.3,95.4h0M126.4,82.5h0M135.5,93.5h0M130.6,91.2h0M133.6,97.1h0M129.7,85.6h0M128.1,76.0h0M131.1,90.0h0M135.5,79.2h0M124.8,81.2h0M134.8,96.5h0M125.0,84.5h0M135.5,88.0h0M134.6,75.4h0M129.7,77.5h0M127.9,78.3h0M134.4,76.2h0M131.0,90.9h0M129.9,99.1h0M129.8,74.5h0M129.1,75.6h0M135.9,82.2h0M132.9,95.9h0M132.0,76.8h0M129.3,86.3h0M131.4,87.3h0M135.9,94.1h0M133.9,77.5h0M127.9,77.2h0M123.9,87.9h0M135.4,100.1h0M132.0,99.7h0M125.4,95.0h0M129.7,88.6h0M128.3,89.2h0M136.6,87.7h0M137.0,83.8h0M136.0,92.1h0M131.6,96.7h0M127.3,97.3h0M127.3,90.5h0M138.3,87.0h0M126.9,94.8h0M129.0,84.8h0M132.4,80.2h0M133.6,99.6h0M125.0,88.5h0M135.5,85.0h0M139.7,90.0h0M132.1,91.0h0M131.7,81.1h0M130.8,81.4h0M132.3,82.7h0M129.9,100.8h0M129.5,84.2h0M128.2,89.8h0M130.1,90.9h0M137.2,79.3h0M126.5,84.4h0M139.1,89.5h0M127.9,89.1h0M126.9,93.9h0M138.6,85.4h0M132.1,84.8h0M132.4,100.4h0M135.7,86.7h0M134.7,98.0h0M123.4,91.1h0M135.5,82.0h0M130.3,88.5h0M124.4,86.0h0M135.9,84.9h0M134.0,93.5h0M132.7,84.5h0M127.8,85.4h0M132.8,79.0h0M137.9,84.7h0M137.5,94.7h0M125.4,82.8h0M129.7,86.0h0M136.8,89.9h0M132.4,88.9h0M136.1,88.8h0M127.4,85.4h0M131.9,83.7h0M124.2,92.5h0M127.7,76.9h0M125.7,93.6h0M123.0,91.8h0M132.2,85.7h0M133.1,92.5h0M129.8,91.1h0M127.8,89.6h0M136.6,88.8h0M129.3,85.2h0M131.8,98.8h0M135.2,79.4h0M134.9,80.0h0M130.6,75.7h0M137.3,92.9h0M125.6,81.3h0M133.8,97.0h0M128.7,96.9h0M133.4,86.3h0M132.4,76.0h0M129.2,91.7h0M129.9,85.6h0M131.0,76.6h0M128.3,91.1h0M137.7,83.3h0M127.2,85.9h0M124.2,94.3h0M128.7,98.8h0M128.2,77.6h0M135.1,98.9h0M136.0,96.3h0M133.3,75.2h0M132.1,82.7h0M124.6,82.0h0M133.9,97.1h0M131.4,93.5h0M134.5,94.9h0M130.9,92.9h0M130.6,99.2h0M128.1,83.3h0M134.2,79.9h0M137.7,85.3h0M124.9,95.4h0M128.4,88.7h0" stroke="#3d9bff" stroke-width="2.6" stroke-linecap="round" fill="none"/>
<path d="M96.4,90.0h0M98.5,91.5h0M94.9,88.2h0M96.3,90.3h0M97.7,94.4h0M97.4,85.4h0M98.4,88.5h0M95.7,90.8h0M98.5,94.8h0M96.4,94.3h0M96.1,91.0h0M95.7,92.2h0M97.0,93.4h0M96.8,90.6h0" stroke="#ff61c3" stroke-width="2.6" stroke-linecap="round" fill="none"/>
<path d="M120.1,86.5h0M118.9,90.8h0M122.4,85.9h0M122.3,96.0h0M119.0,83.6h0M120.4,93.7h0M116.1,94.4h0M121.1,89.3h0M114.2,88.1h0M122.5,92.8h0M117.4,92.7h0M117.6,90.8h0M116.5,90.9h0M122.0,84.7h0M120.0,97.1h0M118.2,95.9h0M124.9,89.5h0M117.7,92.3h0M123.6,88.3h0M116.6,92.4h0M117.9,89.1h0M115.4,96.1h0M115.2,93.4h0M120.0,91.0h0M120.2,87.3h0M122.3,85.4h0M116.6,85.8h0M122.2,86.0h0M119.4,96.0h0M116.2,95.9h0M118.7,88.9h0M115.4,88.3h0M118.7,86.0h0M117.0,88.8h0M122.0,90.4h0M117.7,83.2h0M115.3,91.0h0M114.8,94.0h0M118.1,86.9h0M119.2,85.8h0M117.7,89.9h0M123.2,88.6h0M120.0,87.4h0M119.9,89.5h0M121.9,85.5h0M118.1,95.1h0M116.5,94.2h0M119.6,84.3h0M124.7,90.1h0M114.1,92.1h0M116.1,90.4h0M114.2,94.5h0M116.9,86.9h0M119.8,97.1h0M116.4,97.0h0M123.8,110.3h0M126.0,110.0h0M129.3,110.4h0M129.0,113.7h0M129.1,114.1h0M129.9,112.3h0M126.8,109.0h0M131.2,109.8h0M129.8,110.7h0M130.3,112.4h0M125.1,109.6h0M127.0,109.5h0M128.6,112.4h0M128.7,108.5h0M103.9,95.7h0" stroke="#c49a00" stroke-width="2.6" stroke-linecap="round" fill="none"/>
<path d="M146.2,86.3h0M146.9,88.3h0M147.7,89.7h0M144.2,88.3h0M144.9,83.9h0M147.1,92.5h0M146.9,93.6h0M145.3,85.4h0M164.2,95.6h0M167.3,90.7h0M169.6,91.2h0M165.2,95.0h0M163.8,93.3h0" stroke="#f8766d" stroke-width="2.6" stroke-linecap="round" fill="none"/>
<text x="116.8" y="65.2" font-size="13.8" text-anchor="middle" stroke="#fff" stroke-width="3.2" stroke-linejoin="round" paint-order="stroke" fill="#111">1</text>
<text x="145.8" y="61.4" font-size="13.8" text-anchor="middle" stroke="#fff" stroke-width="3.2" stroke-linejoin="round" paint-order="stroke" fill="#111">2</text>
<text x="171.4" y="41.5" font-size="13.8" text-anchor="middle" stroke="#fff" stroke-width="3.2" stroke-linejoin="round" paint-order="stroke" fill="#111">8</text>
<text x="188.4" y="58.9" font-size="13.8" text-anchor="middle" stroke="#fff" stroke-width="3.2" stroke-linejoin="round" paint-order="stroke" fill="#111">7</text>
<text x="214.8" y="76.0" font-size="13.8" text-anchor="middle" stroke="#fff" stroke-width="3.2" stroke-linejoin="round" paint-order="stroke" fill="#111">12</text>
<text x="180.3" y="84.7" font-size="13.8" text-anchor="middle" stroke="#fff" stroke-width="3.2" stroke-linejoin="round" paint-order="stroke" fill="#111">10</text>
<text x="216.0" y="98.9" font-size="13.8" text-anchor="middle" stroke="#fff" stroke-width="3.2" stroke-linejoin="round" paint-order="stroke" fill="#111">5</text>
<text x="182.8" y="114.1" font-size="13.8" text-anchor="middle" stroke="#fff" stroke-width="3.2" stroke-linejoin="round" paint-order="stroke" fill="#111">3</text>
<text x="179.0" y="150.2" font-size="13.8" text-anchor="middle" stroke="#fff" stroke-width="3.2" stroke-linejoin="round" paint-order="stroke" fill="#111">4</text>
<text x="164.2" y="128.4" font-size="13.8" text-anchor="middle" stroke="#fff" stroke-width="3.2" stroke-linejoin="round" paint-order="stroke" fill="#111">11</text>
<text x="151.1" y="95.5" font-size="13.8" text-anchor="middle" stroke="#fff" stroke-width="3.2" stroke-linejoin="round" paint-order="stroke" fill="#111">6</text>
<text x="131.6" y="95.2" font-size="13.8" text-anchor="middle" stroke="#fff" stroke-width="3.2" stroke-linejoin="round" paint-order="stroke" fill="#111">9</text>
<text x="104.0" y="91.8" font-size="13.8" text-anchor="middle" stroke="#fff" stroke-width="3.2" stroke-linejoin="round" paint-order="stroke" fill="#111">13</text>
<text x="117.4" y="114.7" font-size="13.8" text-anchor="middle" stroke="#fff" stroke-width="3.2" stroke-linejoin="round" paint-order="stroke" fill="#111">17</text>
<text x="167.0" y="96.9" font-size="13.8" text-anchor="middle" stroke="#fff" stroke-width="3.2" stroke-linejoin="round" paint-order="stroke" fill="#111">14</text>
<text x="100.9" y="125.1" font-size="13.8" text-anchor="middle" stroke="#fff" stroke-width="3.2" stroke-linejoin="round" paint-order="stroke" fill="#111">16</text>
<text x="77.5" y="139.4" font-size="13.8" text-anchor="middle" stroke="#fff" stroke-width="3.2" stroke-linejoin="round" paint-order="stroke" fill="#111">18</text>
<text x="136.3" y="130.3" font-size="13.8" text-anchor="middle" stroke="#fff" stroke-width="3.2" stroke-linejoin="round" paint-order="stroke" fill="#111">20</text>
<text x="134.4" y="152.7" font-size="13.8" text-anchor="middle" stroke="#fff" stroke-width="3.2" stroke-linejoin="round" paint-order="stroke" fill="#111">19</text>
<text x="105.4" y="167.8" font-size="13.8" text-anchor="middle" stroke="#fff" stroke-width="3.2" stroke-linejoin="round" paint-order="stroke" fill="#111">15</text>
<path d="M520.0,108.5h0M531.0,117.2h0M506.6,119.6h0M525.3,134.7h0M534.2,138.7h0M546.0,114.2h0M519.7,134.7h0M535.1,117.1h0M536.9,120.0h0M526.6,113.5h0M515.1,124.6h0M539.9,113.9h0M525.1,132.3h0M506.6,127.6h0M546.4,114.2h0M533.2,119.1h0M528.2,128.6h0M543.4,114.4h0M505.8,120.8h0M509.9,113.2h0M507.3,119.7h0M543.8,136.4h0M522.2,136.5h0M513.1,112.5h0M533.5,113.0h0M523.2,124.3h0M529.3,126.3h0M548.5,131.9h0M524.1,118.7h0M514.5,109.3h0M510.7,117.0h0M534.1,109.2h0M523.2,106.1h0M527.2,121.5h0M521.2,112.7h0M529.8,108.5h0M530.6,139.5h0M517.6,117.8h0M530.0,133.0h0M545.9,132.7h0M515.4,122.8h0M517.7,129.1h0M550.5,117.3h0M513.1,109.9h0M544.3,120.3h0M509.6,127.5h0M541.1,122.1h0M521.2,133.3h0M523.8,138.6h0M512.5,134.3h0M521.5,123.9h0M549.8,127.5h0M525.6,135.8h0M516.7,114.9h0M517.9,119.9h0M520.5,119.8h0M524.1,137.9h0M529.4,103.9h0M512.8,120.2h0M519.3,122.3h0M509.7,124.8h0M540.7,121.9h0M547.9,119.4h0M528.5,129.5h0M527.2,137.6h0M531.6,138.6h0M510.8,120.0h0M508.4,127.2h0M511.8,129.9h0M524.8,121.4h0M511.8,119.3h0M514.0,115.0h0M531.7,119.8h0M536.1,123.1h0M510.6,113.3h0M516.4,108.5h0M544.7,113.9h0M532.2,129.7h0M538.9,119.8h0M536.1,134.1h0M525.1,115.4h0M517.0,107.8h0M519.6,114.1h0M528.5,109.9h0M540.0,124.6h0M542.8,119.5h0M522.8,120.7h0M520.8,133.8h0M524.3,116.3h0M508.0,131.5h0M546.3,128.9h0M519.0,121.0h0M551.3,125.3h0M520.0,116.6h0M527.6,122.8h0M509.0,118.2h0M518.6,111.5h0M540.4,126.8h0M523.6,115.4h0M540.5,127.8h0M547.3,125.7h0M510.1,122.9h0M542.1,133.8h0M537.4,129.5h0M511.9,117.4h0M530.8,126.2h0M528.4,102.2h0M528.6,123.2h0M540.4,112.8h0M539.5,109.2h0M527.4,117.7h0M541.3,126.3h0M511.7,112.1h0M532.3,103.7h0M536.6,128.9h0M529.1,120.7h0M548.9,110.4h0M506.1,119.0h0M526.5,114.6h0M515.2,125.7h0M544.7,121.7h0M515.6,137.1h0M504.3,121.8h0M510.9,117.1h0M549.5,129.8h0M523.3,117.9h0M521.9,119.5h0M518.3,139.0h0M528.1,111.3h0M546.1,132.9h0M549.7,123.7h0M539.8,119.3h0M518.6,104.7h0M527.0,117.0h0M535.5,114.2h0M513.0,110.4h0M530.1,110.2h0M526.3,108.5h0M521.0,106.9h0M531.9,136.1h0M524.1,123.3h0M507.9,113.5h0M529.0,126.6h0M517.1,112.8h0M547.6,121.0h0M523.9,137.2h0M530.6,128.6h0M534.9,132.3h0M515.5,137.6h0M510.1,111.9h0M529.4,125.4h0M533.2,104.0h0M551.1,127.0h0M516.8,112.2h0M528.1,128.9h0M536.7,138.3h0M520.7,118.6h0M542.5,131.1h0M544.1,112.8h0M518.4,139.2h0M514.6,117.6h0M512.0,119.5h0M508.5,117.2h0M549.9,116.8h0M536.1,117.8h0M518.3,116.3h0M522.0,133.6h0M506.0,122.0h0M514.0,116.8h0M524.3,133.7h0M548.7,111.5h0M521.7,113.1h0M517.0,130.7h0M548.7,127.0h0M517.3,120.7h0M522.5,112.8h0M543.6,130.1h0M533.5,116.0h0M514.1,131.8h0M505.5,125.5h0M517.9,106.6h0M538.7,120.6h0M534.4,127.5h0M536.8,107.2h0M531.8,116.8h0M517.2,113.3h0M530.9,116.5h0M529.3,111.0h0M528.1,133.0h0M511.1,110.1h0M549.7,116.7h0M517.3,132.5h0M533.3,127.1h0M511.4,111.6h0M536.4,110.8h0M537.0,110.4h0M543.0,123.9h0M523.4,123.7h0M512.0,129.7h0M519.1,139.9h0M523.1,117.3h0M522.0,110.1h0M523.9,134.9h0M527.5,109.2h0M536.1,138.0h0M522.7,122.6h0M530.2,138.6h0M515.6,107.2h0M528.3,104.8h0M548.2,126.3h0M541.4,112.1h0M544.5,110.5h0M529.8,117.9h0M540.1,137.3h0M533.0,123.5h0M524.0,125.5h0M526.9,119.8h0M528.2,110.9h0M526.3,109.9h0M511.3,119.7h0M528.9,104.4h0M539.6,132.5h0M529.1,117.3h0M540.3,135.6h0M528.5,139.2h0M507.8,116.0h0M547.8,113.1h0M528.8,138.4h0M529.3,115.2h0M537.7,137.9h0M509.8,122.7h0M545.4,123.5h0M535.0,117.5h0M551.5,125.7h0M525.8,109.5h0M542.8,111.3h0M532.7,128.3h0M532.9,119.3h0M510.9,111.5h0M509.8,117.4h0M532.4,110.3h0M517.0,109.2h0M546.0,133.0h0M531.2,115.8h0M549.6,132.2h0M506.3,123.4h0M505.5,123.8h0M513.3,126.1h0M543.5,110.1h0M543.3,130.2h0M540.3,120.0h0M515.5,107.2h0M520.3,130.4h0M538.2,112.9h0M542.4,123.7h0M517.0,110.5h0M540.8,115.1h0M515.5,136.8h0M526.8,133.8h0M525.1,130.3h0M515.9,127.3h0M521.3,108.4h0M537.5,126.2h0M507.0,126.3h0M509.9,110.9h0M544.5,133.0h0M535.1,114.1h0M540.7,111.4h0M517.8,130.6h0M551.4,121.5h0M505.1,119.1h0M520.8,129.7h0M544.4,109.5h0M503.7,121.7h0M512.8,122.7h0M518.0,110.5h0M510.8,127.7h0M537.7,132.5h0M524.1,117.8h0M515.1,112.6h0M522.9,137.3h0M530.1,130.8h0M522.0,116.4h0M536.7,131.8h0M542.2,125.5h0M547.3,112.5h0M538.5,135.3h0M516.1,115.4h0M521.3,110.0h0M510.5,117.5h0M540.1,120.3h0M509.6,110.9h0M523.5,132.4h0M535.5,121.2h0M524.6,130.8h0M531.8,131.7h0M539.4,135.5h0M545.1,128.3h0M520.1,127.2h0M541.8,129.8h0M524.5,119.9h0M537.4,139.1h0M540.3,117.9h0M507.0,124.5h0M550.4,123.2h0M529.7,130.2h0M543.2,123.6h0M513.9,129.6h0M521.6,105.8h0M504.4,119.4h0M521.7,114.1h0M549.9,124.1h0M524.1,111.8h0M542.7,127.3h0M522.0,126.3h0M526.8,114.1h0M544.9,116.1h0M522.3,112.8h0M517.9,113.0h0M524.9,126.7h0M548.8,133.7h0M536.4,112.7h0M515.6,132.8h0M548.6,134.2h0M533.2,131.6h0M542.7,135.7h0M528.9,131.7h0M531.3,113.4h0M527.9,105.3h0M527.0,121.6h0M526.5,123.4h0M522.8,118.9h0M536.0,127.3h0M536.5,139.9h0M529.2,121.3h0M538.4,127.8h0M521.2,120.9h0M514.0,119.9h0M544.6,113.6h0M527.2,113.3h0M535.8,133.6h0M518.3,124.5h0M547.6,123.9h0M548.3,125.2h0M547.6,125.7h0M537.9,125.3h0M536.6,120.1h0M541.5,137.3h0M543.7,132.7h0M518.8,119.6h0M536.1,138.7h0M544.1,124.5h0M504.1,116.9h0M551.4,121.2h0M535.6,111.2h0M539.1,111.8h0M538.8,135.3h0M533.4,130.3h0M520.1,131.7h0M527.4,105.9h0M526.3,129.6h0M521.6,127.1h0M524.1,132.5h0M533.3,114.7h0M538.0,135.2h0M532.3,115.3h0M521.7,128.3h0M543.8,113.8h0M525.4,124.1h0M543.1,135.7h0M544.9,132.4h0M520.2,105.9h0M514.6,131.3h0M533.3,128.8h0M517.0,130.9h0M540.5,111.2h0M546.3,122.9h0M514.1,111.2h0M521.4,124.9h0M509.8,126.7h0M533.1,116.1h0M545.7,121.3h0M543.0,118.8h0M514.4,110.0h0M529.9,136.5h0M534.4,119.1h0M516.0,123.3h0M536.4,118.1h0M517.9,115.6h0M541.3,128.6h0M536.2,113.8h0M509.6,115.6h0M527.7,109.7h0M540.4,110.7h0M512.4,120.8h0M544.5,127.0h0M543.9,120.9h0M539.6,125.0h0M517.7,119.0h0M545.2,116.3h0M521.1,138.4h0M536.2,111.1h0M515.8,112.0h0M509.4,113.9h0M539.6,114.1h0M543.4,116.0h0M544.8,123.6h0M548.1,111.2h0M513.2,131.9h0M533.7,122.2h0M534.3,129.2h0M539.7,118.3h0M544.2,114.7h0M528.8,103.2h0M546.9,114.2h0M521.7,109.8h0M504.1,123.0h0M510.9,129.1h0M519.3,130.7h0M549.7,121.7h0M530.8,103.7h0M516.9,134.1h0M539.0,110.5h0M532.2,122.6h0M546.6,130.3h0M528.2,122.3h0M523.1,107.6h0M511.7,124.4h0M523.7,118.4h0M523.7,138.2h0M514.6,116.4h0M544.4,135.4h0M516.2,118.6h0M529.4,105.9h0M550.0,125.9h0M535.2,112.7h0M530.3,137.8h0M530.0,119.3h0M519.8,128.2h0M550.4,123.2h0M530.5,108.9h0M518.6,118.9h0M509.3,123.1h0M532.3,128.6h0M526.2,123.4h0M519.6,112.9h0M523.6,125.3h0M545.3,111.8h0M518.9,132.5h0M547.0,119.9h0M526.0,131.2h0M511.5,116.5h0M534.5,134.6h0M540.1,130.6h0M542.5,129.8h0M539.8,125.3h0M532.3,117.7h0M533.1,117.6h0M538.7,114.6h0M523.3,114.1h0M528.8,120.3h0M511.3,124.7h0M549.4,114.4h0M525.3,137.6h0M532.6,121.4h0M529.7,140.9h0M537.0,118.4h0M521.1,138.4h0M508.7,117.7h0M532.8,136.3h0M526.3,126.7h0M530.3,134.5h0M529.9,106.6h0M547.5,119.4h0M529.3,122.5h0M533.7,127.4h0M534.3,105.2h0M519.8,129.3h0M544.8,124.9h0M528.4,124.9h0M529.6,140.6h0M541.4,107.3h0M528.9,133.6h0M541.5,114.7h0M513.8,113.9h0M532.0,116.4h0M531.8,139.8h0M519.9,136.7h0M532.1,139.5h0M516.2,117.4h0M518.4,136.4h0M516.0,109.9h0M531.0,107.2h0M524.8,106.3h0M521.6,112.8h0M537.0,116.8h0M509.2,113.0h0M526.0,134.4h0M520.5,131.5h0M528.5,111.7h0M539.2,112.4h0M521.9,112.1h0M529.1,124.6h0M522.6,127.8h0M523.8,107.3h0M520.6,128.7h0M521.9,122.2h0M520.2,112.3h0M519.0,117.8h0M511.8,113.7h0M535.7,116.8h0M538.5,112.0h0M535.8,110.8h0M540.0,130.1h0M512.2,111.1h0M506.2,114.5h0M544.8,124.2h0M525.5,129.0h0M544.6,132.7h0M546.0,126.2h0M510.3,134.4h0M540.4,105.7h0M540.4,134.7h0M550.9,118.7h0M539.6,134.1h0M506.6,129.8h0M538.3,134.4h0M550.7,127.1h0M507.1,116.8h0M519.3,107.3h0M515.4,112.1h0M549.1,117.5h0M510.9,125.4h0M531.3,132.7h0M533.5,119.4h0M509.8,114.3h0M507.8,114.6h0M525.8,107.9h0M522.1,109.4h0M509.4,130.2h0M509.5,121.7h0M531.4,102.9h0M534.5,138.2h0M517.4,108.4h0M545.2,115.0h0M513.2,132.0h0M520.5,109.5h0M521.5,124.8h0M532.2,126.0h0M528.6,122.4h0M532.4,105.7h0M526.0,139.9h0M525.7,110.2h0M545.1,134.9h0M517.6,128.1h0M520.3,118.7h0M518.3,119.6h0M521.4,120.3h0M550.8,126.4h0M536.8,126.9h0M550.0,120.9h0M521.5,136.7h0M537.9,120.4h0M521.8,125.4h0M532.0,118.3h0M548.2,124.6h0M516.3,106.5h0M528.2,124.8h0M509.8,122.4h0M523.1,106.2h0M531.0,129.9h0M524.2,109.3h0M541.8,108.0h0M516.8,117.2h0M514.7,113.8h0M547.8,126.0h0M512.1,132.2h0M537.7,134.8h0M532.6,106.5h0M537.2,113.3h0M544.9,125.2h0M510.2,134.1h0M518.3,129.3h0M546.2,122.4h0M519.8,108.7h0M513.1,133.6h0M527.8,108.5h0M547.0,126.5h0M514.8,136.9h0M512.0,116.9h0M524.0,116.5h0M527.0,140.6h0M536.7,114.1h0M515.7,124.4h0M532.2,131.6h0M534.7,127.5h0M543.6,135.8h0M519.1,131.3h0M534.5,116.1h0M506.7,117.4h0M551.2,109.8h0M549.2,104.8h0M550.0,110.7h0M546.7,107.4h0M562.8,108.4h0M552.9,122.6h0M550.5,119.7h0M561.2,107.6h0M543.4,107.0h0M548.2,105.3h0M555.0,104.4h0M554.5,102.4h0M548.1,105.4h0M561.0,114.6h0M547.1,116.5h0M556.5,109.0h0M540.3,115.1h0M553.9,107.2h0M562.0,113.3h0M554.2,116.7h0M543.4,104.6h0M558.4,110.3h0M552.5,114.8h0M557.1,106.2h0M558.5,106.5h0M549.1,107.4h0M551.1,114.5h0M558.1,103.9h0M540.7,111.9h0M562.4,109.6h0M557.4,120.6h0M559.0,106.8h0M555.1,108.3h0M548.1,120.7h0M540.2,115.6h0M539.9,114.0h0M562.4,115.0h0M545.9,111.1h0M557.2,116.7h0M545.5,114.4h0M560.5,106.2h0M545.1,108.7h0M542.9,115.3h0M553.8,120.9h0M548.5,117.3h0M543.5,116.9h0M555.3,104.9h0M556.9,119.6h0M545.2,117.7h0M551.5,106.8h0M547.7,120.0h0M543.3,111.4h0M542.9,116.8h0M548.6,111.7h0M560.7,117.0h0M546.6,103.6h0M549.3,113.2h0M555.4,114.9h0M560.2,116.7h0M549.2,121.8h0M549.5,104.9h0M554.2,121.3h0M548.7,107.1h0M560.0,117.6h0M555.8,107.9h0M558.5,111.1h0M545.2,114.0h0M555.9,109.7h0M555.3,107.9h0M544.8,115.6h0M550.3,116.3h0M545.6,104.5h0M552.3,112.1h0M542.9,118.6h0M548.9,118.4h0M543.7,107.4h0M558.6,112.5h0M555.2,111.1h0M557.6,104.5h0M551.7,107.1h0M549.0,103.1h0M556.6,107.9h0M555.1,119.8h0M558.5,114.5h0M550.1,108.9h0M549.6,114.4h0M549.2,113.4h0M548.4,115.5h0M557.1,109.5h0M562.0,117.3h0M551.0,110.7h0M550.3,120.1h0M551.4,117.6h0M548.9,102.1h0M558.4,117.7h0M558.5,113.6h0M557.5,112.0h0M550.7,113.7h0M549.4,112.4h0M546.0,107.7h0M559.6,113.1h0M541.6,107.3h0M560.2,107.3h0M551.8,109.6h0M553.7,108.9h0M562.2,113.3h0M551.9,110.0h0M545.9,118.8h0M557.5,114.2h0M550.9,119.8h0M555.1,102.8h0M554.6,105.2h0M558.4,111.2h0M546.9,105.9h0M549.5,116.5h0M556.9,105.4h0M546.2,106.4h0M553.5,104.8h0M560.3,103.4h0M548.4,103.2h0M545.5,113.3h0M557.0,110.3h0M562.0,113.1h0M557.8,111.8h0M550.6,118.8h0M546.4,119.5h0M553.2,122.5h0M555.0,103.6h0M546.0,117.8h0M546.5,103.3h0M552.3,117.4h0M541.1,112.8h0M542.4,114.0h0M556.2,106.5h0M548.0,118.4h0M552.0,113.2h0M543.0,112.7h0M544.4,110.4h0M544.1,119.4h0M550.5,117.4h0M521.7,108.9h0M514.2,104.9h0M532.4,102.7h0M537.8,102.4h0M534.8,107.4h0M541.2,105.6h0M545.4,105.3h0M521.8,108.0h0M525.4,102.8h0M530.2,104.7h0M539.4,108.2h0M543.2,109.4h0M526.3,102.4h0M539.6,101.1h0M544.9,107.5h0M534.2,104.4h0M543.9,103.8h0M522.2,109.8h0M527.9,103.4h0M536.1,108.8h0M541.6,107.4h0M526.8,100.9h0M525.7,106.0h0M514.0,105.9h0M540.7,104.8h0M524.3,104.1h0M535.1,104.2h0M536.9,104.5h0M518.8,108.1h0M520.4,103.6h0M520.2,109.1h0M527.7,105.8h0M541.8,102.6h0M529.1,109.7h0M517.5,106.0h0M527.1,109.7h0M514.8,107.8h0M525.5,107.2h0M531.9,107.4h0M527.0,111.2h0M535.9,106.9h0M543.9,108.1h0M525.9,102.0h0M518.3,106.8h0M526.6,108.1h0M538.9,103.7h0M539.8,108.8h0M537.7,108.3h0M533.3,108.7h0M518.6,105.9h0M538.6,102.9h0M525.2,104.5h0M520.3,104.0h0M524.9,105.7h0M527.5,104.7h0M528.2,108.6h0M524.3,101.8h0M532.6,107.2h0M525.4,110.1h0M535.0,103.4h0M540.8,107.8h0M523.3,103.8h0M538.3,108.3h0M516.4,102.8h0M535.2,107.3h0M525.4,104.4h0M519.2,109.6h0M536.7,110.4h0M514.7,105.1h0M535.7,107.2h0M523.2,108.3h0M518.8,107.0h0M538.1,108.2h0M517.8,107.2h0M522.1,101.0h0M522.9,103.4h0M540.8,104.4h0M543.0,104.3h0M518.9,104.0h0M533.6,109.4h0M562.7,107.3h0M570.2,114.0h0M565.6,113.5h0M559.1,109.4h0M580.4,116.8h0M576.7,116.1h0M594.2,117.1h0M575.7,110.6h0M584.1,115.9h0M573.6,112.1h0M577.4,114.6h0M565.3,108.4h0M584.6,118.3h0M584.3,117.8h0M564.4,111.9h0M570.7,115.5h0M561.4,112.9h0M575.1,116.8h0M578.9,115.1h0M583.9,120.0h0M586.1,114.4h0M565.8,112.0h0M587.9,119.7h0M591.2,118.5h0M579.4,118.4h0M567.0,108.7h0M562.1,111.2h0M574.4,113.5h0M575.4,109.4h0M575.5,111.9h0M566.6,112.1h0M580.9,112.9h0M567.4,109.4h0M581.2,117.5h0M566.8,112.6h0M592.6,116.2h0M587.9,113.2h0M564.6,114.3h0M562.7,112.1h0M577.1,117.1h0M579.5,117.7h0M578.7,112.7h0M587.7,120.0h0M582.5,113.0h0M593.8,119.3h0M584.4,119.1h0M572.3,110.7h0M579.4,119.1h0M582.8,116.5h0M572.5,112.8h0M585.5,118.5h0M581.2,119.0h0M573.8,115.7h0M571.9,111.5h0M586.2,115.1h0M570.2,113.5h0M588.0,118.1h0M568.8,113.7h0M576.1,114.9h0M572.1,115.1h0M568.3,115.6h0M564.7,109.4h0M584.9,119.1h0M567.3,109.1h0M579.0,115.5h0M570.5,108.3h0M572.7,110.1h0M567.7,114.4h0M569.5,110.6h0M586.5,112.6h0M590.2,114.2h0M583.8,113.9h0M582.1,116.0h0M594.3,117.0h0M571.5,115.6h0M567.5,110.3h0M566.4,114.6h0M587.0,114.6h0M572.4,111.1h0M581.8,118.7h0M574.3,110.0h0M576.5,111.6h0M572.3,112.3h0M586.7,116.1h0M592.8,118.9h0M565.8,118.1h0M566.4,122.1h0M559.1,120.6h0M558.1,116.1h0M562.7,123.4h0M563.5,124.4h0M561.9,126.6h0M565.6,120.4h0M555.4,124.6h0M559.0,117.5h0M560.2,131.4h0M553.9,122.5h0M559.2,131.6h0M565.6,117.6h0M556.3,122.1h0M552.6,121.7h0M554.8,121.8h0M554.9,119.4h0M560.1,124.3h0M554.8,116.7h0M557.5,129.0h0M567.9,121.8h0M557.4,119.0h0M559.0,122.6h0M562.4,123.5h0M562.5,123.3h0M560.6,116.8h0M554.5,120.5h0M552.3,126.9h0M563.0,128.4h0M562.2,126.5h0M555.7,121.6h0M558.5,131.1h0M562.8,119.6h0M553.7,118.5h0M558.8,121.9h0M566.1,125.1h0M558.5,117.2h0M561.4,118.0h0M563.3,128.4h0M554.6,128.2h0M565.5,123.8h0M561.8,117.6h0M563.3,118.9h0M554.8,126.5h0M556.0,126.8h0M556.7,124.0h0M559.5,118.7h0M561.5,127.6h0M562.9,120.2h0M566.8,124.2h0M562.6,120.5h0M565.0,128.9h0M555.0,125.7h0M554.9,115.0h0M553.6,117.3h0M561.7,119.0h0M561.1,127.2h0M554.5,118.5h0M561.6,130.7h0M562.4,119.1h0M563.6,127.4h0M563.9,120.5h0M552.7,125.1h0M560.9,116.2h0M559.5,118.0h0M559.8,119.8h0M564.5,116.2h0M559.1,118.2h0M556.5,121.6h0M558.8,121.4h0M560.7,116.1h0M553.3,122.0h0M552.8,126.9h0M554.3,121.9h0M552.5,118.9h0M554.4,123.3h0M553.9,128.0h0M553.9,118.3h0M556.8,126.5h0M558.8,130.9h0M559.0,126.6h0M557.0,119.1h0M565.7,120.7h0M556.1,117.9h0M566.4,124.4h0M561.8,130.0h0M565.1,129.3h0M557.4,120.6h0M554.5,130.8h0M581.1,133.4h0M579.0,131.7h0M578.0,125.8h0M576.4,124.9h0M580.7,133.3h0M579.2,130.8h0M575.7,128.2h0M579.7,134.5h0M572.0,121.7h0M580.0,123.7h0M578.4,123.3h0M573.5,129.7h0M580.7,132.9h0M575.7,121.1h0M574.8,128.4h0M577.5,123.8h0M583.0,132.1h0M568.2,129.8h0M573.5,121.3h0M579.8,126.7h0M581.2,122.2h0M574.3,124.8h0M571.0,125.7h0M570.3,128.7h0M580.4,122.5h0M578.4,134.9h0M576.8,133.5h0M575.4,134.8h0M576.7,133.2h0M571.6,124.8h0M575.7,121.5h0M578.7,132.4h0M574.8,122.0h0M571.2,128.4h0M578.4,132.5h0M582.0,127.2h0M580.2,131.4h0M573.3,132.7h0M570.5,126.2h0M571.2,123.7h0M573.3,128.7h0M573.3,135.7h0M574.9,123.0h0M573.7,125.9h0M579.0,127.3h0M577.2,119.3h0M574.1,129.8h0M573.8,124.5h0M571.3,125.0h0M576.1,132.1h0M576.4,126.7h0M581.7,132.9h0M574.5,128.9h0M574.3,128.1h0M574.7,125.9h0M579.2,124.6h0M573.2,134.5h0M573.7,133.9h0M571.1,123.8h0M580.1,130.7h0M577.5,135.5h0M574.7,121.9h0M574.7,120.8h0M577.2,135.7h0M578.8,130.3h0M570.4,128.3h0M573.1,135.9h0M574.1,123.4h0M578.6,123.1h0M574.2,132.1h0M574.2,132.4h0M580.6,130.1h0M581.6,129.3h0M575.0,131.1h0M580.7,128.3h0M540.8,170.4h0M542.8,182.0h0M549.4,157.0h0M561.5,174.6h0M537.8,175.1h0M531.0,178.3h0M529.9,173.9h0M548.8,161.0h0M556.1,148.4h0M559.9,161.2h0M554.9,170.4h0M553.7,152.2h0M541.9,180.1h0M542.5,165.9h0M542.2,179.4h0M544.0,148.4h0M553.0,146.1h0M554.3,148.8h0M535.7,176.7h0M543.5,161.8h0M539.0,181.6h0M558.0,149.5h0M539.2,150.3h0M556.9,153.8h0M562.4,168.3h0M550.7,164.8h0M557.3,170.8h0M545.0,176.6h0M530.9,171.2h0M531.1,149.6h0M534.9,158.4h0M549.1,150.1h0M531.3,167.2h0M547.4,156.6h0M529.5,154.8h0M562.1,172.5h0M551.0,165.1h0M539.0,169.7h0M546.9,152.2h0M558.0,169.5h0M527.6,161.0h0M546.7,145.0h0M549.1,177.0h0M533.4,178.1h0M535.3,179.2h0M563.7,160.0h0M529.5,174.2h0M541.5,169.9h0M551.1,149.7h0M539.4,180.3h0M530.5,149.4h0M530.8,163.8h0M541.8,165.8h0M542.0,153.0h0M558.6,154.0h0M540.6,157.0h0M551.2,177.6h0M562.1,168.4h0M529.1,157.7h0M540.6,156.2h0M534.7,150.7h0M561.2,172.4h0M559.5,170.6h0M527.3,164.5h0M554.4,172.6h0M551.7,161.1h0M534.1,160.2h0M538.3,154.3h0M540.8,171.7h0M529.3,165.6h0M528.7,164.1h0M552.1,163.4h0M543.7,149.7h0M551.1,171.1h0M557.0,148.7h0M547.9,173.7h0M539.5,174.1h0M529.3,172.4h0M553.1,149.2h0M539.8,179.0h0M562.0,174.8h0M564.6,169.5h0M532.4,164.8h0M539.7,164.2h0M535.6,164.1h0M551.2,151.3h0M556.0,171.4h0M534.5,181.0h0M536.4,159.0h0M544.6,173.9h0M538.8,157.0h0M554.5,153.3h0M550.7,170.4h0M535.9,146.6h0M562.8,163.6h0M557.1,153.4h0M556.4,173.5h0M535.6,162.2h0M542.0,162.3h0M532.2,151.6h0M560.0,156.2h0M542.3,151.1h0M542.3,159.6h0M525.8,159.7h0M539.5,175.2h0M551.0,151.7h0M549.9,156.9h0M560.8,152.9h0M537.6,146.2h0M549.5,164.7h0M536.7,161.6h0M534.7,179.1h0M540.5,144.5h0M534.1,175.3h0M527.4,160.0h0M555.7,177.5h0M557.0,149.2h0M543.3,184.1h0M539.4,161.3h0M553.5,164.6h0M544.7,164.6h0M533.1,179.5h0M549.6,166.8h0M564.0,159.4h0M545.8,158.1h0M539.2,160.5h0M540.7,149.7h0M543.1,161.3h0M542.7,178.0h0M563.2,170.7h0M544.4,152.7h0M552.7,154.1h0M549.1,150.8h0M546.3,149.4h0M530.2,155.7h0M549.4,175.0h0M541.9,176.8h0M540.8,161.7h0M551.1,148.2h0M554.4,154.4h0M559.5,165.0h0M542.4,176.5h0M560.0,151.8h0M550.3,149.3h0M537.3,180.1h0M564.8,161.1h0M555.5,153.8h0M547.4,168.2h0M553.2,161.9h0M536.6,173.4h0M553.0,160.3h0M562.6,158.7h0M554.6,179.4h0M538.7,172.8h0M546.7,149.8h0M545.7,176.4h0M539.6,176.8h0M550.0,163.8h0M534.9,161.5h0M534.5,177.0h0M550.2,148.5h0M559.1,174.5h0M542.9,170.8h0M528.8,160.5h0M533.7,178.9h0M532.7,167.7h0M545.5,161.6h0M555.4,166.7h0M556.3,155.8h0M547.5,170.4h0M527.6,169.4h0M548.1,174.0h0M535.0,147.6h0M544.5,154.6h0M539.9,175.2h0M537.9,147.3h0M541.2,181.6h0M544.6,162.0h0M558.6,163.6h0M560.3,159.7h0M543.6,167.8h0M540.0,179.2h0M550.6,168.7h0M530.1,155.1h0M532.8,169.0h0M525.6,162.4h0M538.3,148.7h0M555.7,155.9h0M531.0,173.8h0M539.3,151.6h0M541.2,148.8h0M563.4,159.5h0M550.2,177.9h0M536.9,148.6h0M559.1,152.5h0M535.5,150.0h0M534.5,166.5h0M542.6,181.4h0M553.8,146.4h0M537.7,172.7h0M530.5,163.0h0M546.1,148.9h0M535.3,153.5h0M555.4,147.7h0M549.2,178.7h0M552.8,167.0h0M544.5,151.7h0M548.4,156.8h0M545.5,153.6h0M544.8,173.2h0M562.1,154.8h0M535.1,176.3h0M558.5,166.9h0M531.8,154.1h0M544.3,173.0h0M528.7,162.3h0M563.0,159.9h0M552.6,173.1h0M548.4,166.0h0M565.0,162.2h0M555.9,172.2h0M560.4,154.0h0M537.9,157.6h0M559.1,171.1h0M547.7,152.7h0M531.5,173.8h0M538.1,178.4h0M540.4,144.7h0M528.5,172.0h0M535.5,155.4h0M556.4,171.5h0M531.2,166.2h0M531.8,171.9h0M551.2,167.5h0M548.3,156.8h0M528.8,156.0h0M551.9,170.1h0M542.9,161.9h0M529.7,168.4h0M552.7,179.9h0M546.7,156.7h0M542.7,175.5h0M528.8,162.2h0M540.6,182.8h0M556.3,168.0h0M544.3,159.2h0M538.4,168.3h0M541.5,176.0h0M558.5,167.4h0M540.3,154.3h0M546.2,159.1h0M529.4,172.5h0M530.9,166.7h0M560.0,171.9h0M534.6,167.4h0M555.2,169.3h0M562.9,166.3h0M543.3,164.5h0M549.5,162.6h0M553.8,181.9h0M551.1,176.6h0M533.4,172.0h0M539.1,167.2h0M545.1,160.3h0M532.3,165.0h0M545.4,182.4h0M541.2,165.8h0M538.6,150.6h0M553.9,168.0h0M545.9,148.7h0M558.7,153.2h0M555.0,174.1h0M537.2,170.3h0M547.8,155.8h0M560.4,152.8h0M530.0,174.6h0M529.1,154.6h0M558.1,150.7h0M528.8,174.6h0M527.8,152.8h0M542.0,162.1h0M534.5,174.5h0M546.8,172.4h0M536.8,154.9h0M538.7,154.7h0M545.6,158.5h0M543.4,166.3h0M534.4,148.1h0M532.0,161.3h0M540.8,177.2h0M530.0,168.1h0M551.0,156.3h0M544.1,162.0h0M562.5,163.0h0M562.4,169.2h0M558.2,177.6h0M533.0,174.2h0M532.9,175.7h0M539.0,160.0h0M562.7,169.5h0M527.3,164.4h0M564.0,161.0h0M548.3,165.9h0M536.1,164.3h0M548.0,152.4h0M539.3,175.0h0M555.6,161.5h0M550.8,172.5h0M558.6,156.4h0M551.9,153.2h0M549.7,155.3h0M532.8,150.7h0M554.0,157.1h0M550.9,159.6h0M546.8,169.9h0M535.0,177.8h0M559.7,174.8h0M534.1,173.1h0M538.1,173.9h0M547.0,159.0h0M532.5,175.0h0M544.7,145.0h0M535.5,169.8h0M542.6,173.0h0M546.5,167.5h0M538.0,158.0h0M554.7,168.0h0M529.9,174.3h0M535.0,165.8h0M562.6,154.4h0M549.0,153.7h0M536.8,152.5h0M561.2,155.2h0M540.0,149.2h0M548.0,162.5h0M555.3,174.1h0M556.2,166.6h0M550.6,147.4h0M534.9,164.9h0M545.3,171.4h0M542.5,184.2h0M546.3,150.7h0M550.3,178.7h0M556.2,162.6h0M540.2,183.6h0M559.4,151.6h0M555.8,173.8h0M556.1,173.8h0M542.9,174.4h0M539.4,176.3h0M537.8,165.9h0M553.6,160.8h0M553.2,173.0h0M561.1,160.9h0M562.3,154.9h0M534.2,149.3h0M547.2,150.0h0M559.6,173.5h0M545.3,164.2h0M557.6,148.8h0M534.9,153.8h0M547.2,179.5h0M537.5,149.0h0M562.6,162.7h0M554.0,175.3h0M532.5,165.6h0M532.3,156.8h0M533.3,147.3h0M550.3,175.1h0M561.5,169.3h0M544.6,174.1h0M541.4,161.2h0M539.1,159.9h0M540.4,161.6h0M536.4,162.8h0M534.4,153.2h0M544.0,160.6h0M530.6,167.7h0M544.4,150.2h0M552.8,162.1h0M549.2,147.7h0M535.0,180.8h0M533.8,157.5h0M543.1,177.4h0M538.8,181.6h0M548.6,148.9h0M550.9,157.8h0M547.2,151.6h0M561.1,165.4h0M536.4,175.7h0M542.8,180.7h0M530.1,153.1h0M554.9,160.2h0M554.9,180.7h0M545.8,171.6h0M538.8,172.1h0M532.9,151.9h0M546.7,143.5h0M528.1,155.5h0M547.1,157.6h0M536.6,156.8h0M552.9,179.2h0M535.8,164.4h0M543.3,153.6h0M539.2,145.8h0M551.6,157.9h0M550.7,171.7h0M526.6,168.8h0M542.5,181.6h0M549.9,170.3h0M531.4,153.6h0M547.8,172.7h0M530.9,167.8h0M536.8,177.8h0M552.3,176.0h0M551.7,157.0h0M540.6,149.6h0M547.3,159.9h0M539.2,180.3h0M555.9,164.7h0M530.8,154.9h0M537.7,160.2h0M553.7,174.6h0M537.9,148.9h0M540.6,158.7h0M543.2,176.9h0M546.0,173.4h0M553.5,159.4h0M547.1,159.7h0M557.5,156.4h0M556.8,164.9h0M542.6,167.0h0M552.3,168.8h0M555.2,149.9h0M532.2,164.5h0M540.8,164.7h0M556.1,172.1h0M543.8,176.9h0M551.5,161.6h0M547.5,182.5h0M553.9,163.3h0M538.9,172.0h0M527.9,167.2h0M544.0,146.5h0M547.2,162.5h0M539.9,182.8h0M530.5,158.3h0M535.5,146.2h0M551.6,166.2h0M554.3,170.9h0M544.3,155.6h0M550.5,150.5h0M558.9,176.7h0M536.2,173.5h0M540.0,168.7h0M538.4,180.8h0M549.4,177.3h0M546.5,182.4h0M546.3,157.8h0M536.0,176.9h0M539.9,168.2h0M551.4,147.7h0M553.1,158.1h0M544.8,175.5h0M544.7,154.8h0M554.6,170.3h0M547.8,179.1h0M525.8,165.3h0M562.2,162.1h0M549.0,161.2h0M553.6,150.4h0M555.2,168.0h0M540.9,152.6h0M553.0,148.9h0M538.1,163.5h0M553.2,156.6h0M527.9,169.5h0M529.0,173.3h0M530.3,167.8h0M543.5,171.0h0M531.3,162.2h0M564.7,166.6h0M550.3,174.5h0M562.0,160.5h0M533.5,157.8h0M537.3,162.2h0M562.5,170.8h0M527.3,161.4h0M550.8,151.6h0M563.0,157.8h0M536.1,175.2h0M537.8,179.3h0M537.2,168.1h0M555.7,159.5h0M543.8,183.0h0M554.6,172.1h0M558.0,170.5h0M535.7,180.8h0M540.2,158.6h0M529.9,172.0h0M557.0,148.9h0M558.4,177.1h0M564.6,159.5h0M548.6,182.1h0M554.9,153.5h0M543.2,149.1h0M553.2,164.3h0M541.3,172.6h0M537.4,177.1h0M541.7,166.8h0M538.5,149.2h0M554.6,169.6h0M558.2,169.5h0M541.6,155.7h0M550.6,181.7h0M545.2,147.1h0M543.6,180.0h0M548.5,175.4h0M534.1,170.4h0M544.8,144.8h0M535.2,154.3h0M540.6,157.1h0M555.1,163.7h0M561.4,163.4h0M545.5,166.8h0M549.3,170.3h0M541.4,146.9h0M532.3,159.0h0M556.8,178.3h0M535.3,166.6h0M540.5,147.6h0M530.0,154.5h0M546.1,177.7h0M546.5,151.1h0M528.8,157.4h0M528.0,152.4h0M548.6,168.5h0M534.2,167.5h0M562.3,160.2h0M555.7,164.7h0M537.3,141.1h0M523.2,153.6h0M530.0,144.6h0M538.7,141.7h0M542.8,146.0h0M529.7,147.9h0M530.5,139.0h0M525.8,146.9h0M532.2,157.0h0M524.5,151.9h0M521.9,144.7h0M542.3,145.1h0M534.8,148.4h0M532.5,149.0h0M526.8,151.2h0M527.3,142.2h0M524.5,146.7h0M523.0,153.2h0M538.6,151.0h0M541.8,143.5h0M541.5,146.9h0M531.1,139.0h0M533.1,154.8h0M529.6,140.5h0M535.9,146.4h0M544.5,149.3h0M521.7,142.3h0M532.6,146.3h0M536.3,148.8h0M527.4,147.0h0M531.3,155.9h0M518.5,146.0h0M521.9,142.6h0M533.7,138.3h0M541.4,141.6h0M519.3,144.7h0M531.7,148.2h0M529.5,142.7h0M535.6,156.1h0M520.1,152.2h0M520.5,141.9h0M534.2,154.2h0M524.8,155.0h0M541.7,148.2h0M533.7,148.6h0M519.6,141.3h0M519.8,141.3h0M526.2,156.1h0M532.0,154.6h0M532.5,156.5h0M532.0,143.6h0M516.8,147.9h0M539.2,146.0h0M523.3,147.1h0M537.7,147.4h0M519.8,149.8h0M534.8,144.1h0M521.3,143.4h0M533.1,139.5h0M516.3,149.2h0M531.4,155.5h0M525.1,146.0h0M521.5,149.4h0M535.8,148.4h0M518.0,145.3h0M542.4,148.7h0M535.2,153.5h0M540.0,144.8h0M519.2,147.9h0M532.6,140.9h0M529.1,137.2h0M543.0,152.9h0M531.6,155.7h0M537.1,140.4h0M541.5,147.6h0M536.4,146.8h0M537.0,142.1h0M534.8,139.9h0M524.0,152.7h0M530.2,154.2h0M535.4,149.5h0M531.1,140.4h0M524.6,153.7h0M535.9,147.4h0M542.7,151.1h0M524.0,152.4h0M537.7,141.7h0M537.8,154.4h0M527.4,137.9h0M530.5,147.7h0M525.9,150.6h0M523.6,141.0h0M530.9,139.3h0M530.7,155.6h0M525.4,156.0h0M542.7,150.3h0M534.5,146.6h0M538.3,149.8h0M527.2,146.4h0M533.5,137.9h0M522.1,152.0h0M537.2,147.0h0M534.5,150.9h0M525.8,153.7h0M519.6,144.2h0M527.1,144.2h0M532.8,146.2h0M524.0,147.6h0M520.9,146.5h0M518.1,150.4h0M527.8,152.4h0M527.6,148.9h0M521.4,139.5h0M536.0,144.1h0M528.2,143.2h0M535.2,144.8h0M529.2,147.3h0M528.9,138.9h0M521.5,140.2h0M542.0,142.1h0M520.2,150.4h0M538.5,150.9h0M535.5,146.1h0M542.9,144.3h0M537.9,154.7h0M531.0,142.4h0M537.3,146.8h0M540.6,148.9h0M528.0,139.8h0M532.5,155.3h0M524.6,154.5h0M532.7,143.8h0M531.4,153.7h0M525.2,153.9h0M536.9,147.4h0M542.3,144.6h0M531.3,137.3h0M526.9,144.0h0M539.5,144.1h0M537.1,140.2h0M575.2,150.6h0M572.7,141.5h0M577.8,149.2h0M564.1,151.1h0M565.0,151.2h0M579.5,145.4h0M576.3,151.8h0M568.2,152.8h0M576.2,149.0h0M574.5,149.5h0M563.8,149.1h0M566.7,142.6h0M568.6,150.0h0M571.1,149.7h0M574.5,141.9h0M576.1,149.9h0M565.1,148.8h0M566.1,152.1h0M577.7,144.9h0M575.3,149.4h0M569.8,148.5h0M574.9,146.3h0M568.2,149.6h0M565.2,154.2h0M567.7,149.6h0M579.0,149.0h0M564.5,149.1h0M572.4,145.3h0M579.1,151.0h0M575.8,153.9h0M568.2,148.0h0M575.9,153.8h0M568.5,148.4h0M565.9,154.5h0M570.7,156.1h0M576.3,143.8h0M565.4,147.2h0M567.3,152.6h0M578.9,143.4h0M573.0,149.9h0M566.2,144.1h0M576.5,149.9h0M577.6,148.8h0M575.0,146.8h0M565.1,145.9h0M573.9,149.2h0M571.2,148.4h0M571.4,145.1h0M566.8,144.6h0M578.4,153.3h0M573.3,143.1h0M575.4,145.4h0M578.2,144.9h0M578.0,144.4h0M571.6,153.2h0M579.8,149.2h0M569.4,149.0h0M567.8,153.4h0M574.2,148.8h0M563.1,148.1h0M571.0,143.8h0M576.9,155.9h0M570.0,148.0h0M575.3,143.2h0M574.7,143.9h0M572.6,141.7h0M572.9,152.1h0M568.2,152.5h0M567.1,148.6h0M570.9,143.3h0M575.8,154.1h0M569.5,157.6h0M567.8,148.6h0M579.2,153.5h0M575.8,148.9h0M573.5,152.4h0M563.6,149.5h0M569.0,148.1h0M578.6,146.1h0M570.2,153.8h0M571.6,142.4h0M575.3,144.2h0M564.6,153.4h0M576.8,153.7h0M564.8,151.9h0M508.9,123.2h0M511.0,129.6h0M509.8,127.9h0M510.0,129.3h0M507.7,134.3h0M507.1,129.2h0M508.2,130.9h0M510.8,131.6h0M505.2,125.4h0M506.6,131.4h0M508.0,137.1h0M511.3,125.6h0M505.8,125.5h0M510.2,122.2h0M504.9,125.7h0M503.5,131.0h0M510.6,125.1h0M510.0,135.3h0M510.4,121.5h0M508.0,120.5h0M509.5,120.2h0M510.9,132.9h0M503.3,129.1h0M510.8,124.1h0M504.1,125.6h0M510.7,128.3h0M509.9,127.7h0M505.9,122.1h0M504.8,132.2h0M505.0,131.9h0M510.1,131.6h0M510.7,125.4h0M510.8,130.6h0M506.9,119.4h0M506.0,126.6h0M568.1,77.0h0M550.0,61.6h0M558.9,49.2h0M566.9,56.7h0M558.1,76.0h0M565.1,73.1h0M564.2,65.9h0M567.7,70.2h0M560.4,71.2h0M549.7,72.5h0M561.9,46.3h0M562.8,74.1h0M575.3,56.3h0M552.5,57.6h0M562.6,79.6h0M570.9,48.0h0M563.1,44.7h0M558.1,46.6h0M563.2,79.2h0M563.8,56.5h0M564.2,53.0h0M558.4,64.8h0M575.7,58.1h0M570.6,71.6h0M552.7,66.5h0M551.5,56.3h0M565.8,74.7h0M570.4,67.3h0M548.0,62.3h0M552.1,64.5h0M566.4,60.1h0M555.2,49.3h0M574.3,63.6h0M568.2,60.8h0M556.6,74.7h0M555.0,58.5h0M562.8,65.4h0M561.9,71.6h0M568.1,64.3h0M576.9,57.9h0M548.0,66.5h0M566.8,78.2h0M564.1,61.5h0M556.0,64.5h0M557.0,74.1h0M561.5,61.7h0M562.7,59.8h0M559.5,62.5h0M562.3,49.3h0M552.4,61.1h0M553.7,74.2h0M556.4,75.8h0M561.4,51.6h0M569.2,65.2h0M571.1,60.6h0M552.8,53.5h0M564.7,62.0h0M556.0,68.3h0M561.2,47.7h0M572.9,68.2h0M564.7,79.5h0M575.8,67.9h0M569.3,65.9h0M569.7,60.7h0M554.9,52.4h0M568.7,74.3h0M559.7,55.4h0M555.4,70.1h0M566.4,74.2h0M568.5,54.0h0M559.0,53.9h0M563.2,54.5h0M567.4,70.1h0M546.2,64.0h0M563.9,43.5h0M565.3,62.0h0M565.4,77.5h0M556.4,76.5h0M568.5,57.7h0M547.0,63.1h0M556.7,65.4h0M566.7,77.9h0M561.0,75.4h0M559.2,69.2h0M561.6,70.8h0M559.5,65.6h0M564.7,60.5h0M556.9,68.3h0M554.2,63.8h0M570.1,67.1h0M561.6,71.6h0M572.4,51.7h0M571.0,60.1h0M557.3,51.0h0M574.8,54.5h0M558.0,79.0h0M552.6,49.7h0M567.1,76.7h0M550.0,55.3h0M559.0,70.3h0M559.7,68.0h0M551.2,48.8h0M565.2,42.8h0M564.8,57.9h0M576.5,58.9h0M559.0,60.7h0M576.9,60.4h0M560.2,73.3h0M569.2,73.7h0M563.3,57.8h0M556.8,72.0h0M561.7,45.6h0M561.1,63.7h0M560.8,60.4h0M555.8,73.1h0M558.8,76.8h0M557.2,56.7h0M547.3,63.6h0M574.7,64.7h0M568.1,71.8h0M567.7,51.3h0M555.8,62.0h0M565.8,79.9h0M569.4,57.0h0M568.8,53.9h0M569.1,60.2h0M573.2,62.0h0M574.3,57.6h0M568.2,75.1h0M556.5,56.6h0M570.3,63.9h0M569.3,76.7h0M553.4,51.8h0M560.0,67.4h0M557.5,65.5h0M556.1,52.4h0M569.0,71.6h0M571.4,63.5h0M564.7,77.6h0M566.3,57.8h0M564.1,42.9h0M564.7,75.4h0M556.0,52.6h0M554.7,63.0h0M554.7,56.7h0M567.6,48.9h0M569.4,48.4h0M567.3,49.2h0M549.8,55.5h0M568.8,66.9h0M565.5,62.6h0M554.8,57.0h0M556.4,59.7h0M557.4,73.6h0M554.9,64.7h0M560.6,49.4h0M552.8,52.3h0M570.2,58.1h0M560.9,79.5h0M551.9,75.8h0M546.6,69.1h0M568.4,71.7h0M565.5,44.5h0M562.1,57.1h0M570.8,48.0h0M559.2,74.0h0M572.4,55.0h0M559.8,73.0h0M553.2,62.0h0M560.5,48.4h0M568.1,70.2h0M548.3,56.4h0M549.7,49.5h0M560.0,43.4h0M551.1,58.8h0M551.5,70.6h0M548.7,67.0h0M569.4,76.8h0M560.0,62.0h0M552.9,48.1h0M556.8,79.4h0M549.0,58.3h0M559.1,80.2h0M570.3,66.7h0M558.1,79.9h0M574.6,56.4h0M567.5,72.2h0M549.1,64.4h0M569.1,59.9h0M565.3,75.4h0M567.8,66.6h0M566.5,75.2h0M567.2,47.3h0M555.5,79.3h0M561.3,79.9h0M569.7,64.2h0M569.7,63.8h0M565.9,47.0h0M558.6,73.4h0M561.3,63.2h0M565.1,45.9h0M550.1,69.0h0M569.2,48.1h0M571.6,59.7h0M567.0,46.9h0M557.1,49.4h0M560.7,46.4h0M565.9,68.3h0M563.4,67.0h0M572.0,67.0h0M560.9,62.5h0M560.0,54.1h0M569.6,50.7h0M556.0,62.1h0M564.3,45.3h0M563.7,66.0h0M557.7,70.1h0M552.0,60.3h0M557.1,66.4h0M566.4,60.3h0M548.7,66.7h0M568.8,59.6h0M567.8,63.0h0M553.8,68.8h0M574.9,54.7h0M569.6,57.3h0M571.4,58.6h0M562.5,48.9h0M547.1,64.2h0M570.7,63.5h0M551.6,75.9h0M558.6,67.7h0M558.5,80.1h0M556.4,62.7h0M573.2,68.1h0M557.8,57.8h0M568.3,76.4h0M571.4,58.5h0M559.5,65.8h0M555.0,76.0h0M558.5,58.4h0M557.2,62.8h0M569.8,62.4h0M563.2,52.3h0M557.6,49.8h0M562.6,64.2h0M573.9,55.3h0M573.3,65.2h0M554.9,68.7h0M550.6,54.8h0M561.2,73.5h0M556.2,69.7h0M554.1,69.2h0M559.1,45.1h0M568.2,61.6h0M551.9,71.7h0M571.2,63.3h0M559.7,63.7h0M550.7,65.6h0M561.0,54.8h0M565.8,46.0h0M552.6,54.2h0M563.9,67.3h0M560.0,76.0h0M548.5,56.0h0M559.1,67.5h0M566.3,47.9h0M553.8,63.8h0M559.0,55.7h0M560.9,56.5h0M566.7,49.6h0M575.2,56.7h0M557.5,63.6h0M571.4,64.3h0M571.6,66.9h0M569.0,64.7h0M570.5,68.0h0M558.8,78.8h0M560.8,62.4h0M570.8,65.8h0M546.8,59.0h0M557.6,65.7h0M571.9,60.9h0M555.7,60.8h0M566.4,67.3h0M555.2,47.3h0M555.1,70.3h0M547.4,64.6h0M565.1,58.5h0M556.6,61.9h0M566.9,74.6h0M559.1,72.6h0M567.2,63.4h0M567.3,48.9h0M569.5,47.1h0M573.0,49.4h0M566.6,70.3h0M559.6,60.4h0M574.1,55.4h0M550.0,66.1h0M552.2,69.6h0M564.0,45.4h0M565.9,74.4h0M547.6,69.0h0M562.5,60.0h0M570.3,77.0h0M550.3,61.8h0M570.9,52.4h0M555.0,75.5h0M554.1,58.6h0M546.9,59.0h0M567.1,53.1h0M558.2,71.9h0M562.6,76.8h0M559.7,51.1h0M559.7,77.0h0M562.4,68.4h0M558.3,74.2h0M563.6,69.7h0M558.4,55.5h0M562.3,61.0h0M551.2,70.6h0M562.2,79.3h0M556.8,58.8h0M569.3,61.8h0M565.7,58.3h0M564.3,64.7h0M570.0,52.2h0M565.7,72.7h0M562.1,53.0h0M569.5,50.0h0M565.8,57.4h0M558.0,66.1h0M566.0,51.7h0M577.0,63.4h0M552.3,70.4h0M567.4,71.5h0M560.1,78.2h0M551.7,52.3h0M554.3,70.9h0M558.7,70.7h0M572.5,58.3h0M558.0,64.0h0M573.8,73.1h0M549.6,67.6h0M567.7,51.0h0M550.9,73.5h0M569.3,59.7h0M549.9,70.0h0M558.0,54.0h0M559.8,48.6h0M552.2,48.6h0M567.3,74.9h0M549.3,52.6h0M559.0,75.1h0M546.3,63.1h0M554.6,68.0h0M573.7,59.5h0M555.1,46.2h0M554.3,51.1h0M557.1,65.9h0M563.5,54.1h0M558.2,48.4h0M564.7,76.0h0M575.3,64.8h0M558.6,49.2h0M569.3,76.8h0M557.0,44.0h0M571.0,52.0h0M551.7,75.2h0M562.5,73.8h0M563.4,67.9h0M562.3,56.7h0M573.2,53.1h0M554.9,78.2h0M551.9,69.1h0M549.4,66.3h0M553.3,58.8h0M564.5,78.6h0M557.4,79.0h0M570.2,78.5h0M570.5,64.5h0M559.8,50.6h0M554.5,76.3h0M554.3,78.8h0M567.4,54.1h0M553.8,50.1h0M552.7,76.4h0M547.1,64.1h0M546.3,60.3h0M553.9,74.7h0M556.6,64.2h0M550.6,51.8h0M562.5,65.3h0M565.7,79.1h0M556.5,66.8h0M566.9,57.1h0M553.0,46.7h0M554.4,54.8h0M575.7,62.8h0M562.4,73.8h0M557.0,50.3h0M559.7,65.4h0M559.1,67.2h0M566.7,47.5h0M569.3,57.2h0M554.5,78.6h0M559.8,67.3h0M556.0,46.3h0M554.7,66.4h0M553.9,76.5h0M553.5,66.7h0M554.3,58.1h0M566.7,60.2h0M559.6,78.2h0M565.9,61.4h0M556.7,61.6h0M563.5,55.1h0M559.3,60.1h0M563.4,46.1h0M556.4,42.6h0M562.7,43.7h0M560.5,48.6h0M556.1,40.5h0M558.7,41.8h0M565.4,43.6h0M567.3,47.3h0M560.3,45.0h0M561.9,42.8h0M568.3,46.2h0M562.9,41.3h0M560.4,42.7h0M562.1,43.2h0M555.0,47.6h0M558.5,45.6h0M561.0,46.3h0M557.0,43.3h0M557.7,42.8h0M560.4,46.9h0M561.0,41.8h0M558.3,47.0h0M567.5,47.4h0M556.3,43.9h0M556.2,44.8h0M556.2,46.9h0M561.6,45.5h0M563.5,48.1h0M566.4,45.5h0M559.8,47.5h0M561.9,40.3h0M558.9,41.9h0M557.8,48.4h0M561.0,46.5h0M563.1,44.2h0M557.5,42.0h0M560.4,43.1h0M559.7,43.1h0M560.1,44.2h0M566.9,41.8h0M563.2,46.9h0M561.4,49.6h0M566.6,47.0h0M555.5,41.4h0M565.0,42.2h0M565.0,46.3h0M555.8,41.6h0M552.6,44.4h0M559.7,43.9h0M560.0,44.3h0M560.7,46.8h0M558.2,81.8h0M569.5,79.2h0M559.5,80.9h0M561.9,79.9h0M561.6,82.3h0M565.2,76.3h0M558.4,79.5h0M563.1,82.5h0M565.4,82.4h0M562.1,76.3h0M560.3,80.7h0M570.1,80.2h0M572.7,78.3h0M558.0,82.7h0M569.7,80.6h0M569.6,76.7h0M564.0,78.6h0M560.9,76.5h0M565.5,82.8h0M571.1,77.5h0M555.9,78.1h0M562.8,84.1h0M557.0,80.1h0M567.1,83.3h0M570.0,80.3h0M572.4,78.4h0M570.9,83.7h0M562.4,81.5h0M571.2,76.9h0M556.3,77.4h0M560.4,80.8h0M558.9,81.2h0M559.6,81.1h0M560.6,80.3h0M572.6,79.4h0M561.0,80.0h0M568.7,78.0h0M568.3,80.6h0M564.1,82.0h0M563.2,80.7h0M550.9,61.5h0M551.8,51.7h0M546.6,59.5h0M555.0,59.3h0M551.8,64.9h0M546.7,60.6h0M548.8,53.4h0M549.9,55.4h0M552.9,52.9h0M548.1,63.2h0M553.2,57.4h0M552.0,53.8h0M547.9,53.4h0M544.8,53.7h0M552.1,51.8h0M551.2,66.8h0M555.7,62.0h0M551.0,58.9h0M553.9,58.9h0M553.4,59.4h0M550.2,64.2h0M554.0,60.7h0M553.3,57.1h0M547.4,62.6h0M550.6,52.8h0M547.0,52.9h0M550.5,52.6h0M549.5,58.4h0M549.5,50.5h0M551.3,51.1h0M572.8,48.4h0M573.6,55.9h0M570.8,55.6h0M574.3,47.7h0M572.4,53.3h0M568.8,51.0h0M572.8,54.1h0M575.6,48.6h0M573.5,55.8h0M569.9,54.3h0M569.9,50.1h0M574.5,46.1h0M575.9,52.4h0M575.2,53.6h0M574.5,56.4h0M572.0,55.8h0M569.6,48.0h0M576.7,51.5h0M567.7,51.1h0M577.1,50.1h0M575.5,54.4h0M575.1,53.2h0M575.5,55.5h0M569.1,50.0h0M569.3,55.0h0M578.2,62.5h0M585.5,66.2h0M576.3,60.2h0M571.6,57.2h0M574.8,65.8h0M583.4,55.3h0M586.0,55.0h0M592.1,62.2h0M579.7,53.5h0M578.2,51.3h0M574.2,66.7h0M576.7,65.1h0M584.6,51.6h0M582.7,54.0h0M577.8,60.7h0M589.0,56.4h0M588.8,66.7h0M585.6,50.5h0M584.1,62.8h0M583.6,52.1h0M577.9,67.1h0M578.0,63.5h0M576.6,57.3h0M573.9,54.5h0M585.6,63.9h0M581.0,50.7h0M576.5,66.5h0M585.3,53.9h0M584.4,65.4h0M585.7,64.9h0M582.3,53.5h0M572.8,58.6h0M589.7,54.7h0M574.9,62.0h0M575.6,54.1h0M588.5,67.1h0M578.6,56.2h0M578.6,53.6h0M575.4,61.2h0M582.1,55.7h0M587.4,52.5h0M584.1,56.5h0M581.7,58.3h0M583.1,59.9h0M573.5,53.8h0M592.3,60.5h0M582.6,54.1h0M580.9,63.3h0M581.5,57.9h0M574.9,60.0h0M587.2,56.6h0M573.3,64.7h0M582.9,53.5h0M587.6,61.5h0M579.0,62.9h0M591.1,55.7h0M578.6,51.9h0M581.8,50.9h0M587.5,54.4h0M581.5,55.3h0M575.0,52.6h0M580.6,57.6h0M586.3,61.9h0M582.5,53.6h0M579.5,56.4h0M580.1,66.7h0M576.4,55.3h0M585.0,57.9h0M589.6,58.2h0M575.6,67.2h0M583.0,63.9h0M591.5,58.2h0M580.6,58.1h0M574.1,54.0h0M579.6,59.3h0M580.5,51.2h0M585.4,68.4h0M583.1,67.1h0M587.0,60.8h0M582.5,60.2h0M577.1,59.2h0M580.0,51.5h0M579.3,59.0h0M591.2,60.8h0M591.4,64.0h0M573.6,65.4h0M574.6,62.6h0M592.6,61.0h0M586.4,69.0h0M573.8,54.8h0M575.9,63.7h0M580.1,53.5h0M572.3,59.1h0M576.9,58.3h0M573.6,54.4h0M583.2,53.9h0M581.7,64.2h0M585.8,57.6h0M581.2,66.6h0M575.6,68.5h0M589.9,60.0h0M586.3,54.5h0M592.0,59.8h0M576.4,55.5h0M590.2,57.2h0M577.2,54.5h0M584.3,68.1h0M591.1,60.4h0M580.1,63.2h0M583.3,65.0h0M577.6,63.2h0M575.8,60.4h0M583.5,65.7h0M583.0,62.5h0M578.5,54.1h0M586.4,61.5h0M585.7,67.1h0M576.5,52.5h0M586.1,68.1h0M578.7,53.6h0M581.4,54.7h0M584.2,62.5h0M584.9,69.0h0M574.2,57.7h0M577.5,63.3h0M580.0,63.1h0M585.8,54.6h0M590.9,57.2h0M578.4,66.5h0M572.1,57.9h0M579.9,67.1h0M576.7,51.4h0M572.9,58.5h0M572.0,63.1h0M571.8,63.7h0M575.0,63.7h0M581.3,60.8h0M578.1,51.3h0M577.4,68.7h0M583.3,52.6h0M577.5,53.1h0M573.9,53.9h0M582.4,69.9h0M573.8,52.6h0M580.6,60.0h0M592.5,57.9h0M584.6,68.5h0M572.5,57.7h0M590.7,58.3h0M579.5,55.3h0M586.3,65.4h0M579.7,55.9h0M582.8,57.9h0M575.9,58.9h0M589.8,55.9h0M580.5,50.4h0M581.5,59.7h0M578.4,57.4h0M575.4,60.5h0M582.3,62.2h0M589.2,64.3h0M587.4,59.7h0M589.5,56.9h0M574.4,59.9h0M580.6,52.1h0M589.0,55.5h0M582.9,63.8h0M577.8,69.1h0M589.9,54.7h0M582.2,62.1h0M590.8,56.0h0M585.3,52.8h0M579.9,69.9h0M581.0,52.3h0M585.6,61.9h0M583.2,62.7h0M578.0,51.4h0M579.4,65.5h0M581.9,64.1h0M572.6,58.0h0M575.9,56.4h0M590.6,57.0h0M575.9,65.1h0M579.7,66.6h0M586.4,53.4h0M579.6,65.0h0M580.8,51.8h0M583.5,56.1h0M582.1,68.7h0M580.7,58.1h0M592.8,62.4h0M597.8,65.9h0M593.3,64.3h0M593.9,63.1h0M592.5,67.3h0M590.1,69.5h0M589.3,67.8h0M597.1,70.1h0M594.9,66.5h0M592.2,64.1h0M595.4,70.1h0M595.3,59.9h0M593.2,62.3h0M589.7,67.3h0M594.7,68.0h0M593.7,68.9h0M593.7,62.0h0M597.6,64.4h0M593.9,60.7h0M592.2,67.2h0M591.7,70.1h0M599.0,65.0h0M596.9,63.7h0M592.7,63.1h0M593.4,67.0h0M587.4,62.9h0M593.2,60.6h0M595.7,59.8h0M588.8,63.5h0M591.3,70.4h0M592.0,59.6h0M592.8,61.0h0M592.8,68.1h0M596.9,61.5h0M596.6,63.0h0M589.1,61.6h0M590.1,65.2h0M598.3,66.8h0M591.6,60.0h0M587.1,65.5h0M587.8,67.2h0M589.5,66.8h0M587.1,67.3h0M594.0,71.6h0M591.9,69.8h0M591.0,66.0h0M593.3,65.1h0M591.6,65.5h0M594.4,72.1h0M592.7,67.4h0M602.7,54.7h0M603.8,50.3h0M606.1,53.1h0M602.4,61.1h0M603.2,50.7h0M601.7,50.0h0M599.1,47.0h0M600.9,46.5h0M601.7,61.0h0M594.8,55.5h0M597.2,60.1h0M604.1,59.7h0M598.7,49.1h0M599.7,58.2h0M601.6,47.1h0M605.4,47.4h0M596.8,48.6h0M599.8,51.1h0M599.6,48.7h0M608.1,50.7h0M597.2,50.4h0M601.5,57.1h0M603.4,55.8h0M603.6,45.5h0M597.6,47.2h0M596.5,51.3h0M603.2,49.1h0M604.4,52.8h0M600.6,54.1h0M604.8,59.0h0M597.8,52.0h0M598.2,45.9h0M602.0,56.7h0M601.0,59.5h0M605.2,54.1h0M603.3,60.0h0M602.2,53.0h0M599.1,58.8h0M602.2,53.2h0M597.0,56.0h0M597.2,55.8h0M601.3,52.3h0M596.2,56.2h0M600.8,54.0h0M604.1,46.9h0M605.4,47.9h0M596.4,56.6h0M602.0,60.1h0M601.7,59.2h0M604.6,49.8h0M606.8,47.3h0M602.7,52.8h0M602.6,60.0h0M604.9,53.7h0M603.2,60.2h0M605.2,46.9h0M596.1,47.5h0M604.6,50.8h0M597.7,53.0h0M605.9,57.6h0M598.7,53.7h0M606.5,57.7h0M598.2,56.2h0M607.8,52.5h0M598.9,50.6h0M605.3,54.6h0M607.2,54.7h0M600.6,47.7h0M604.7,55.6h0M598.7,48.4h0M597.8,56.5h0M604.2,54.0h0M600.1,48.1h0M603.0,46.2h0M601.8,57.5h0M592.1,72.2h0M582.5,71.5h0M577.5,73.1h0M589.4,72.4h0M585.0,72.6h0M581.6,73.9h0M578.7,71.8h0M589.9,74.3h0M580.8,75.6h0M585.8,68.4h0M590.2,74.5h0M590.7,72.0h0M577.3,74.0h0M591.8,70.5h0M586.7,73.0h0M584.6,68.8h0M583.4,73.4h0M586.6,69.2h0M577.2,73.5h0M588.7,76.2h0M589.1,75.3h0M576.3,71.6h0M586.8,68.9h0M579.2,69.7h0M585.0,68.1h0M586.2,70.9h0M586.3,71.8h0M579.4,70.7h0M583.8,69.2h0M585.8,74.8h0M580.9,73.0h0M578.7,70.6h0M586.2,69.8h0M585.2,72.8h0M578.5,69.4h0M572.6,56.5h0M570.5,53.1h0M571.9,53.3h0M572.5,51.7h0M576.5,52.9h0M575.1,51.9h0M570.8,50.6h0M570.8,53.4h0M574.7,52.3h0M572.4,56.5h0M574.0,56.9h0M576.3,56.7h0M572.2,51.3h0M577.1,52.7h0M573.6,48.3h0M621.8,40.9h0M610.6,38.2h0M603.0,30.9h0M608.5,36.2h0M602.1,31.2h0M607.1,26.9h0M609.1,33.1h0M621.1,35.4h0M612.2,28.5h0M614.0,40.1h0M609.7,40.5h0M608.3,40.0h0M621.1,41.2h0M619.9,39.8h0M608.3,35.1h0M615.1,29.3h0M606.2,27.8h0M620.9,34.8h0M617.6,31.4h0M618.0,34.2h0M608.9,37.7h0M612.4,25.5h0M615.1,42.3h0M607.6,36.7h0M606.0,40.2h0M614.8,39.3h0M609.2,26.3h0M611.4,40.1h0M606.3,31.8h0M616.9,36.0h0M603.9,38.6h0M617.4,35.9h0M608.9,35.7h0M603.9,32.2h0M605.9,29.6h0M612.3,29.9h0M602.7,30.1h0M607.7,28.7h0M607.7,30.7h0M617.7,34.8h0M606.1,26.7h0M614.7,44.9h0M610.2,26.4h0M611.8,26.9h0M606.5,31.1h0M616.5,40.0h0M622.3,34.5h0M617.9,33.9h0M619.6,34.6h0M610.2,29.8h0M602.3,31.1h0M620.8,41.5h0M609.1,29.1h0M602.3,32.0h0M617.3,30.4h0M617.3,37.9h0M619.3,33.6h0M613.0,40.4h0M605.7,36.8h0M620.1,41.9h0M618.4,36.9h0M615.8,36.1h0M610.1,31.5h0M603.1,31.7h0M603.7,26.4h0M608.5,33.0h0M606.6,24.9h0M607.0,31.7h0M610.3,30.7h0M611.1,31.0h0M606.6,27.7h0M614.2,34.3h0M603.7,27.2h0M608.3,30.6h0M605.0,37.9h0M603.4,34.5h0M619.7,38.6h0M608.8,28.6h0M622.8,39.2h0M617.1,32.2h0M609.8,39.8h0M615.8,37.5h0M608.4,26.3h0M621.7,39.5h0M615.7,42.2h0M616.9,41.1h0M610.8,41.0h0M607.5,25.3h0M600.8,30.3h0M607.4,30.9h0M611.4,25.1h0M617.7,44.9h0M605.7,30.8h0M606.4,38.6h0M607.9,34.2h0M615.3,30.2h0M604.8,34.6h0M611.8,25.7h0M605.1,29.2h0M615.4,36.9h0M606.1,25.2h0M617.6,33.1h0M608.2,29.7h0M603.1,34.1h0M616.1,33.2h0M602.0,27.5h0M607.8,25.3h0M608.9,26.2h0M603.0,30.0h0M606.2,34.3h0M609.3,29.8h0M604.2,29.2h0M608.3,42.3h0M605.2,37.7h0M609.0,27.6h0M612.9,40.8h0M614.3,44.8h0M619.9,31.9h0M613.8,44.4h0M612.4,39.0h0M605.1,29.2h0M615.1,37.9h0M606.7,32.1h0M622.7,38.5h0M601.8,31.9h0M606.9,36.6h0M606.2,37.4h0M614.4,29.3h0M619.3,38.1h0M604.5,38.5h0M612.2,39.0h0M608.5,36.4h0M620.4,36.5h0M613.1,41.1h0M618.3,42.9h0M604.5,30.0h0M604.0,33.2h0M610.6,28.5h0M614.9,33.7h0M612.8,29.2h0M604.8,36.9h0M601.3,27.4h0M611.6,28.0h0M606.7,31.8h0M612.4,31.4h0M618.3,39.2h0M611.6,28.4h0M607.9,38.2h0M603.2,31.3h0M617.6,31.7h0M606.2,40.9h0M613.1,32.5h0M614.9,27.5h0M605.9,39.7h0M613.6,42.1h0M617.6,40.3h0M615.5,35.5h0M616.6,28.5h0M622.3,39.3h0M610.9,27.8h0M620.6,38.9h0M608.9,25.8h0M609.5,37.1h0M618.7,33.7h0M621.0,40.1h0M616.1,36.3h0M604.6,28.2h0M616.2,30.2h0M614.3,35.3h0M613.0,40.8h0M608.8,25.5h0M603.2,28.2h0M600.4,31.9h0M610.4,40.8h0M614.4,28.9h0M603.6,39.7h0M608.0,35.2h0M609.1,35.6h0M602.5,33.0h0M606.5,28.6h0M616.9,45.1h0M608.5,29.2h0M607.5,28.9h0M611.9,42.5h0M616.0,41.4h0M621.5,41.7h0M609.3,41.2h0M607.7,40.1h0M604.2,26.3h0M608.6,39.5h0M622.7,44.0h0M618.3,44.0h0M623.2,43.6h0M624.7,49.0h0M619.1,42.4h0M618.4,43.6h0M619.3,49.7h0M621.7,44.5h0M626.3,48.4h0M623.6,48.9h0M617.6,42.1h0M617.9,46.6h0M620.9,42.8h0M620.4,48.3h0M618.1,44.1h0M619.5,44.6h0M620.7,42.5h0M625.7,47.6h0M621.4,48.5h0M623.2,46.8h0M623.1,44.7h0M624.7,43.4h0M621.4,43.4h0M627.7,43.9h0M619.7,48.4h0M622.1,46.5h0M628.2,44.9h0M624.7,45.7h0M618.7,45.6h0M626.9,46.4h0M623.9,46.9h0M623.9,49.3h0M620.3,46.6h0M622.1,46.5h0M617.7,45.2h0M620.3,47.8h0M621.8,45.0h0M621.1,44.0h0M625.0,45.0h0M627.3,43.7h0M621.9,48.3h0M619.4,42.8h0M618.8,45.2h0M622.9,49.2h0M623.9,42.1h0M620.1,46.2h0M618.2,45.2h0M619.5,50.3h0M624.4,42.3h0M619.4,46.9h0M617.2,43.2h0M620.5,44.6h0M623.1,46.9h0M619.1,43.3h0M627.1,43.9h0M625.3,50.1h0M627.6,49.7h0M628.7,48.5h0M627.9,50.7h0M612.0,48.5h0M610.6,45.7h0M610.5,43.5h0M608.7,46.2h0M611.9,45.8h0M612.8,48.2h0M609.7,44.4h0M614.1,46.8h0M607.6,46.5h0M611.1,46.5h0M624.1,57.1h0M627.9,57.5h0M625.0,62.9h0M629.4,57.4h0M615.4,61.7h0M625.2,56.0h0M617.5,53.8h0M624.0,51.7h0M618.6,63.1h0M615.7,54.8h0M627.2,60.5h0M619.8,58.4h0M616.3,56.3h0M616.3,63.5h0M618.7,58.1h0M631.1,56.1h0M620.1,62.1h0M623.7,61.0h0M625.9,53.9h0M628.0,62.1h0M623.4,60.9h0M618.6,56.4h0M627.6,63.0h0M618.4,56.1h0M624.5,55.6h0M616.6,62.3h0M627.8,54.8h0M613.7,56.5h0M623.4,62.7h0M618.6,53.1h0M621.6,54.1h0M621.5,59.0h0M629.1,56.8h0M624.6,55.8h0M621.0,58.6h0M624.4,54.0h0M629.7,59.0h0M623.0,61.1h0M625.0,52.2h0M616.4,63.4h0M619.7,59.0h0M620.2,58.7h0M615.8,56.0h0M617.4,53.7h0M627.7,59.1h0M614.6,57.2h0M616.7,56.0h0M615.0,59.5h0M619.4,55.4h0M619.1,58.7h0M635.5,54.4h0M639.0,57.0h0M635.7,57.6h0M635.2,60.8h0M630.9,58.2h0M631.6,53.9h0M630.6,52.4h0M634.7,59.5h0M639.0,53.7h0M632.8,61.1h0M632.3,59.7h0M635.4,56.6h0M636.2,60.2h0M637.5,56.2h0M637.1,59.9h0M630.7,56.8h0M631.8,59.4h0M634.6,55.8h0M634.5,57.7h0M637.6,58.9h0M636.7,60.8h0M634.3,60.8h0M637.0,54.4h0M636.0,55.4h0M632.5,51.3h0M640.4,47.7h0M639.9,55.3h0M645.7,51.6h0M645.9,52.1h0M647.1,48.4h0M639.8,45.1h0M640.8,49.9h0M645.5,55.0h0M646.6,54.4h0M647.3,46.0h0M644.1,44.0h0M640.8,56.5h0M643.0,52.0h0M643.8,46.7h0M642.5,45.3h0M640.7,56.0h0M644.3,45.3h0M636.7,46.5h0M639.7,43.0h0M645.7,57.9h0M648.1,52.2h0M641.1,48.8h0M641.8,44.0h0M646.8,45.6h0M637.3,50.3h0M644.3,53.4h0M642.3,53.1h0M646.0,54.2h0M638.7,46.7h0M640.2,44.3h0M641.5,53.4h0M644.2,48.1h0M637.4,52.8h0M644.9,48.4h0M647.0,47.4h0M646.0,47.7h0M639.1,53.2h0M645.2,52.8h0M638.8,49.9h0M642.4,44.2h0M645.1,53.2h0M637.4,48.6h0M638.4,49.9h0M647.0,54.3h0M643.4,49.8h0M647.3,51.1h0M646.4,50.6h0M646.0,44.5h0M642.1,49.9h0M639.6,49.9h0M637.4,46.1h0M644.1,45.9h0M645.8,54.9h0M642.2,48.5h0M642.3,49.5h0M644.7,50.8h0M638.9,54.1h0M644.5,55.5h0M639.9,51.3h0M648.8,48.6h0M642.2,45.3h0M638.2,47.3h0M643.2,49.3h0M645.8,44.4h0M641.2,44.9h0M641.1,53.9h0M647.2,48.2h0M646.0,51.4h0M643.6,48.8h0M640.2,47.0h0M628.5,66.9h0M638.5,65.9h0M631.3,66.0h0M638.4,65.1h0M630.7,67.7h0M640.7,65.1h0M639.7,67.2h0M629.0,63.3h0M633.8,67.3h0M631.2,63.8h0M637.2,67.0h0M634.4,67.9h0M632.8,66.4h0M632.0,65.2h0M611.3,54.0h0M614.3,60.9h0M612.5,58.4h0M611.2,56.0h0M613.6,60.0h0M612.4,59.2h0M612.0,57.5h0M611.2,59.4h0M632.6,54.2h0M631.3,56.0h0M631.9,50.6h0M630.4,49.9h0M633.9,57.8h0M634.1,51.2h0M636.4,51.9h0M635.6,50.8h0M634.4,55.9h0M633.1,54.7h0M631.7,51.9h0M629.9,52.9h0M629.0,56.4h0M634.5,52.7h0M652.1,71.6h0M651.7,67.2h0M650.2,72.1h0M655.4,72.1h0M650.9,73.1h0M650.5,73.5h0M651.7,72.5h0M649.9,74.0h0M653.0,71.7h0M650.7,68.9h0M649.8,74.9h0M653.7,76.0h0M653.9,67.3h0M651.4,67.1h0M651.6,72.3h0M653.7,70.5h0M651.0,78.1h0M652.7,75.0h0M652.9,65.3h0M652.8,75.7h0M653.4,73.8h0M653.3,73.8h0M660.8,78.3h0M660.8,80.3h0M662.4,78.9h0M662.6,78.0h0M662.7,80.7h0M660.7,80.4h0M658.4,76.1h0M661.8,78.7h0M662.0,77.6h0M661.4,80.2h0M658.9,70.7h0M652.2,71.8h0M660.4,70.7h0M655.2,64.1h0M661.0,73.8h0M661.5,69.5h0M653.3,65.5h0M659.0,70.9h0M652.0,68.8h0M658.6,77.6h0M653.9,68.1h0M653.4,64.8h0M662.2,67.4h0M660.1,80.5h0M650.7,70.8h0M658.3,79.3h0M666.2,70.3h0M658.3,66.6h0M652.1,65.6h0M658.4,77.6h0M664.1,72.2h0M660.6,69.5h0M659.9,68.4h0M661.4,72.6h0M650.2,74.8h0M663.9,67.9h0M658.8,73.4h0M657.1,71.1h0M656.1,77.5h0M652.6,75.5h0M656.0,64.7h0M660.3,72.4h0M655.0,79.0h0M664.3,71.1h0M659.3,69.2h0M653.8,70.7h0M657.2,73.3h0M650.1,68.6h0M657.3,65.8h0M659.1,70.7h0M664.8,67.9h0M654.3,70.7h0M649.5,76.4h0M654.6,64.8h0M649.6,74.5h0M656.1,74.9h0M662.9,73.4h0M663.6,67.5h0M660.2,72.0h0M655.1,73.1h0M655.9,78.0h0M651.1,69.0h0M649.1,69.3h0M658.1,67.5h0M654.6,70.1h0M617.9,83.2h0M624.4,92.2h0M620.1,88.5h0M624.1,85.7h0M615.8,81.4h0M621.9,90.0h0M619.2,83.1h0M617.4,84.2h0M620.9,84.8h0M621.9,89.1h0M621.9,87.1h0M625.8,90.8h0M622.5,87.4h0M619.9,82.4h0M625.2,89.7h0M617.9,84.6h0M621.0,88.7h0M623.6,88.0h0M625.6,88.8h0M623.7,86.9h0M621.0,89.4h0M623.2,89.3h0M624.1,89.4h0M617.5,83.4h0M615.6,82.1h0M616.6,85.0h0M616.6,82.5h0M619.9,84.2h0M627.1,92.2h0M622.1,90.9h0M639.2,84.4h0M638.8,83.7h0M640.6,84.7h0M635.4,79.6h0M637.6,81.3h0M634.5,81.2h0M635.6,82.3h0M637.6,80.5h0M640.1,86.6h0M640.7,83.4h0M642.5,86.1h0M636.8,81.4h0M639.3,79.7h0M635.5,80.4h0M637.6,81.9h0M638.9,79.7h0M635.8,80.7h0M641.1,84.5h0M635.7,80.2h0M639.9,85.3h0M640.3,85.7h0M637.5,81.3h0M639.7,82.3h0M635.7,81.4h0M606.2,66.8h0M609.8,67.2h0M609.3,67.1h0M610.1,67.7h0M607.7,69.0h0M606.6,68.8h0M607.8,67.5h0M605.1,68.4h0M606.4,66.7h0M608.5,67.3h0M658.3,99.5h0M666.3,90.3h0M654.6,104.2h0M649.8,89.5h0M654.6,96.9h0M652.0,95.1h0M667.1,96.2h0M646.5,92.1h0M667.7,98.2h0M664.6,98.0h0M644.9,91.7h0M645.7,88.9h0M655.8,102.7h0M646.0,91.7h0M649.8,86.0h0M660.4,92.7h0M642.3,95.0h0M648.6,92.9h0M648.1,92.0h0M644.9,92.3h0M647.2,92.0h0M643.6,94.1h0M662.7,90.9h0M665.3,88.9h0M645.7,100.8h0M655.4,103.2h0M655.5,85.2h0M657.2,89.3h0M663.1,101.4h0M648.3,94.4h0M647.0,95.7h0M664.7,93.9h0M651.3,86.8h0M658.1,86.2h0M662.1,89.7h0M655.9,94.6h0M669.8,97.6h0M650.1,86.1h0M648.4,100.9h0M650.1,85.4h0M664.9,92.2h0M661.3,98.5h0M653.7,93.7h0M665.1,91.5h0M647.3,99.1h0M662.5,94.3h0M667.2,99.0h0M648.1,85.8h0M664.0,92.6h0M649.7,102.7h0M656.7,99.7h0M668.3,99.8h0M654.1,102.9h0M666.7,90.0h0M654.0,85.4h0M652.4,97.3h0M667.9,91.7h0M648.7,101.0h0M659.7,91.9h0M645.4,87.8h0M655.5,87.4h0M660.6,96.4h0M666.0,97.3h0M666.8,94.4h0M646.3,88.7h0M653.5,95.6h0M658.2,99.8h0M647.3,94.2h0M662.1,90.7h0M646.7,101.8h0M655.1,96.2h0M655.7,94.2h0M667.1,90.5h0M658.1,99.8h0M663.2,88.0h0M666.6,88.2h0M663.6,99.7h0M659.5,101.0h0M642.7,95.0h0M661.0,97.0h0M649.3,93.8h0M647.9,94.5h0M670.0,97.5h0M663.2,104.1h0M651.4,89.2h0M666.0,101.4h0M641.5,95.6h0M657.7,93.0h0M663.4,87.0h0M663.6,101.5h0M660.1,95.4h0M651.4,94.7h0M651.8,88.1h0M657.3,90.8h0M653.1,88.0h0M666.1,100.0h0M645.7,93.7h0M655.8,94.6h0M651.7,91.4h0M645.7,95.8h0M647.7,99.7h0M650.6,93.0h0M656.3,97.6h0M651.9,98.4h0M648.6,93.9h0M641.4,90.7h0M663.8,93.5h0M668.0,98.0h0M653.7,90.1h0M646.5,87.4h0M667.3,99.6h0M648.5,88.2h0M665.1,95.3h0M665.3,101.3h0M651.0,104.3h0M661.2,84.8h0M664.2,90.1h0M654.2,101.8h0M651.1,92.5h0M642.3,97.9h0M650.7,102.3h0M651.6,102.3h0M657.3,86.1h0M644.2,88.6h0M653.0,93.8h0M647.5,89.6h0M664.9,95.3h0M644.5,99.2h0M648.8,88.2h0M646.5,99.0h0M657.4,100.3h0M664.4,99.2h0M659.1,91.7h0M649.6,95.8h0M653.3,95.9h0M650.0,100.8h0M656.1,96.2h0M656.5,92.3h0M647.5,89.1h0M661.0,91.6h0M655.0,87.2h0M649.9,98.6h0M658.2,98.4h0M648.8,89.9h0M654.3,85.4h0M645.8,97.2h0M663.5,92.2h0M648.9,89.5h0M657.5,97.5h0M664.4,91.8h0M655.3,104.0h0M663.7,96.6h0M652.7,87.0h0M648.2,95.1h0M665.0,91.8h0M642.2,95.1h0M663.4,98.9h0M655.4,88.7h0M652.1,105.2h0M641.8,94.5h0M649.1,98.6h0M662.8,98.4h0M644.9,100.3h0M660.6,87.0h0M662.3,103.6h0M644.1,93.5h0M656.8,105.0h0M658.9,89.3h0M655.3,104.9h0M661.8,101.2h0M651.0,87.2h0M649.6,103.3h0M660.8,101.0h0M652.7,99.2h0M648.9,101.5h0M651.7,99.9h0M652.7,99.9h0M650.6,95.4h0M660.2,88.5h0M650.3,89.1h0M646.4,90.9h0M660.1,94.0h0M668.2,91.4h0M662.6,101.6h0M666.7,91.5h0M647.6,100.7h0M655.2,89.5h0M661.6,101.6h0M649.0,95.5h0M656.3,85.3h0M654.4,101.7h0M665.0,99.7h0M659.4,101.7h0M654.2,97.0h0M666.1,96.5h0M651.2,95.9h0M651.1,92.9h0M666.7,89.6h0M651.5,90.7h0M657.0,98.3h0M653.6,98.7h0M665.1,89.9h0M650.6,96.2h0M664.4,98.0h0M656.2,87.0h0M667.3,93.8h0M650.7,103.4h0M651.0,97.5h0M642.3,92.9h0M664.7,94.8h0M668.1,86.7h0M663.3,87.0h0M668.6,85.4h0M668.1,88.1h0M671.1,87.9h0M662.3,86.5h0M660.9,86.3h0M665.4,89.0h0M664.2,87.0h0M663.4,88.2h0M663.6,87.3h0M662.8,85.7h0M666.7,87.8h0M664.3,89.3h0M666.2,85.9h0M669.9,87.3h0M666.8,86.3h0M667.2,89.9h0M664.7,84.8h0M664.3,89.2h0M643.7,95.5h0M643.2,102.8h0M643.7,97.6h0M640.6,96.2h0M641.1,99.6h0M642.3,99.2h0M642.1,97.2h0M642.2,95.4h0M644.0,98.3h0M641.5,103.5h0M644.1,99.2h0M643.0,101.8h0M618.5,106.0h0M635.4,103.0h0M621.5,106.5h0M623.8,105.5h0M613.2,103.6h0M624.1,109.1h0M616.0,103.1h0M628.5,105.2h0M634.1,101.9h0M629.2,104.8h0M620.1,106.4h0M636.9,103.4h0M613.4,103.0h0M621.0,100.6h0M619.6,102.1h0M623.5,105.1h0M625.4,97.9h0M633.5,104.2h0M634.7,107.2h0M617.6,107.8h0M626.4,105.1h0M619.9,103.0h0M629.9,101.4h0M624.3,103.7h0M631.7,104.9h0M612.0,104.6h0M616.2,99.9h0M621.8,105.1h0M627.0,106.5h0M615.1,101.0h0M625.6,106.7h0M629.4,108.7h0M621.9,99.3h0M624.6,101.9h0M635.5,101.2h0M623.2,100.5h0M624.1,107.6h0M620.7,99.2h0M625.1,100.6h0M621.0,104.5h0M621.3,101.2h0M617.9,107.2h0M635.8,103.8h0M635.1,104.4h0M622.9,108.4h0M631.1,107.0h0M612.9,102.7h0M620.7,103.1h0M618.6,107.2h0M634.0,104.4h0M618.5,101.0h0M618.9,102.2h0M622.4,97.9h0M633.1,107.4h0M632.0,106.4h0M615.1,102.2h0M633.5,106.0h0M628.3,98.8h0M622.8,108.9h0M618.2,105.6h0M621.6,105.1h0M614.7,107.0h0M617.4,107.7h0M615.2,103.1h0M615.6,103.5h0M616.8,99.0h0M633.0,108.3h0M627.3,106.3h0M623.1,102.3h0M614.8,107.3h0M632.9,100.1h0M616.7,99.8h0M616.9,104.9h0M619.9,99.3h0M631.5,108.7h0M632.2,104.8h0M623.7,106.4h0M613.2,104.7h0M630.5,101.6h0M618.1,105.5h0M632.8,103.3h0M620.9,105.8h0M622.9,109.3h0M626.0,100.7h0M631.1,106.0h0M623.9,102.4h0M626.7,109.0h0M617.0,109.0h0M622.6,98.2h0M621.5,103.7h0M622.9,110.4h0M621.2,112.7h0M621.3,110.1h0M620.4,110.7h0M620.6,115.7h0M619.9,116.8h0M626.6,108.8h0M626.8,118.7h0M624.9,111.0h0M619.7,114.8h0M617.5,116.1h0M630.5,113.4h0M624.7,117.1h0M617.5,116.0h0M619.2,116.3h0M628.6,111.1h0M623.9,107.1h0M622.4,108.1h0M616.2,112.7h0M620.3,117.1h0M619.8,108.1h0M617.2,115.4h0M630.6,110.7h0M623.3,118.3h0M626.7,111.4h0M623.8,116.4h0M623.9,118.4h0M628.9,108.1h0M625.7,114.3h0M625.6,107.2h0M622.8,116.1h0M624.4,108.0h0M631.5,111.9h0M625.4,113.6h0M630.3,113.7h0M623.4,118.7h0M625.6,119.3h0M619.0,118.1h0M620.0,108.9h0M619.5,117.8h0M622.3,112.4h0M621.6,106.9h0M627.6,110.5h0M628.9,112.7h0M626.0,115.9h0M623.6,118.8h0M630.7,116.5h0M630.9,109.2h0M628.0,116.7h0M622.0,119.6h0M617.3,113.4h0M622.2,106.5h0M629.8,114.0h0M630.0,109.6h0M625.9,110.7h0M626.0,112.8h0M620.6,111.0h0M621.1,110.2h0M624.2,110.3h0M621.7,118.6h0M618.9,111.5h0M629.8,113.5h0M627.5,117.9h0M614.4,113.9h0M625.2,116.2h0M618.6,117.6h0M623.2,109.7h0M628.7,111.6h0M620.8,115.6h0M630.0,110.4h0M618.4,116.3h0M631.2,109.1h0M620.0,113.2h0M627.7,105.3h0M620.5,118.2h0M623.5,112.0h0M632.8,115.6h0M617.9,112.7h0M630.1,115.5h0M621.3,111.1h0M626.2,116.7h0M623.0,117.8h0M629.5,107.5h0M628.6,106.2h0M627.4,107.0h0M618.4,111.9h0M633.3,109.7h0M626.7,114.5h0M629.2,114.6h0M629.1,108.3h0M624.9,127.1h0M621.1,119.3h0M626.9,122.1h0M621.5,124.9h0M626.0,124.4h0M617.4,120.7h0M622.5,121.5h0M621.0,119.2h0M619.7,125.0h0M625.4,124.4h0M626.3,123.6h0M619.4,122.7h0M624.1,123.7h0M621.8,123.6h0M626.2,126.9h0M618.2,123.3h0M619.3,124.0h0M620.7,120.3h0M618.4,125.3h0M618.4,125.9h0M621.6,126.1h0M624.8,121.9h0M622.7,119.5h0M620.6,122.4h0M623.2,118.4h0M623.1,120.9h0M619.6,119.4h0M617.1,121.4h0M619.9,124.0h0M622.3,128.6h0M626.0,122.0h0M622.9,124.2h0M622.4,125.1h0M622.9,126.2h0M625.9,120.4h0M625.9,122.0h0M621.7,117.9h0M619.0,124.3h0M626.2,119.4h0M624.3,126.9h0M627.7,96.4h0M627.8,89.8h0M629.6,92.6h0M627.9,90.1h0M628.3,90.7h0M626.5,89.3h0M628.9,90.1h0M623.7,94.9h0M628.5,91.4h0M625.7,95.4h0M626.5,95.6h0M627.8,97.3h0M629.0,91.9h0M624.5,93.6h0M623.0,154.0h0M625.1,137.8h0M628.5,147.4h0M618.1,153.7h0M615.1,150.1h0M630.6,150.7h0M612.1,139.7h0M619.1,146.3h0M614.1,135.5h0M612.5,149.7h0M605.5,144.0h0M607.6,153.3h0M610.5,150.7h0M619.1,154.5h0M624.7,154.9h0M626.4,136.9h0M617.4,137.2h0M634.0,148.3h0M604.4,140.9h0M603.9,138.2h0M616.5,145.8h0M623.7,146.5h0M624.3,136.6h0M616.8,137.2h0M624.1,147.5h0M603.7,139.7h0M626.6,138.0h0M601.7,148.2h0M627.6,136.2h0M612.7,136.1h0M634.1,145.0h0M605.8,144.6h0M609.6,150.5h0M610.3,135.1h0M621.3,154.8h0M633.3,143.7h0M631.5,145.3h0M608.1,145.4h0M607.2,153.0h0M604.3,141.3h0M630.9,142.4h0M622.3,146.7h0M608.0,140.9h0M612.8,145.7h0M611.7,147.0h0M621.5,138.0h0M624.7,154.5h0M620.9,140.4h0M613.4,139.2h0M612.0,146.8h0M609.8,154.8h0M624.9,147.7h0M616.4,143.9h0M611.8,151.3h0M612.7,155.9h0M628.8,141.6h0M633.6,146.9h0M615.9,148.5h0M619.8,155.6h0M610.8,155.5h0M610.6,148.3h0M617.0,150.2h0M615.9,138.5h0M629.1,138.7h0M618.9,145.8h0M633.0,141.4h0M602.9,150.7h0M605.4,146.0h0M626.0,154.2h0M605.7,141.8h0M621.3,133.7h0M633.4,149.8h0M621.3,150.0h0M612.5,144.9h0M609.0,141.5h0M615.3,155.3h0M606.7,136.3h0M614.2,156.4h0M630.1,138.1h0M614.5,137.5h0M613.5,154.4h0M619.4,153.0h0M618.4,154.9h0M626.6,145.2h0M620.3,138.9h0M601.9,146.3h0M630.6,142.9h0M614.8,157.5h0M609.0,145.3h0M626.1,153.8h0M610.0,154.6h0M616.7,151.0h0M602.7,149.7h0M606.0,144.7h0M608.5,137.2h0M624.1,150.8h0M603.4,140.9h0M619.6,146.2h0M614.2,153.1h0M610.9,138.2h0M616.4,143.0h0M609.8,147.7h0M622.4,157.1h0M612.4,138.5h0M614.0,140.3h0M631.2,146.6h0M632.4,141.5h0M626.5,153.3h0M614.9,139.3h0M611.8,136.9h0M620.7,137.3h0M618.4,144.8h0M613.5,137.5h0M605.6,140.6h0M602.9,143.4h0M611.6,149.7h0M624.4,142.3h0M623.0,152.0h0M614.2,135.7h0M609.5,151.5h0M630.2,151.0h0M625.5,149.0h0M617.3,154.0h0M614.1,153.3h0M615.7,144.0h0M616.8,148.4h0M621.3,147.7h0M610.5,147.5h0M611.5,144.4h0M616.0,148.5h0M610.3,140.4h0M632.9,150.9h0M621.5,137.1h0M618.8,139.8h0M630.5,146.1h0M617.5,147.2h0M611.0,149.7h0M604.0,139.4h0M605.3,147.6h0M629.1,148.1h0M616.9,151.8h0M626.2,138.3h0M623.9,152.4h0M601.9,148.8h0M625.7,143.5h0M624.6,150.1h0M626.6,151.2h0M622.4,151.9h0M612.8,137.4h0M619.9,137.2h0M604.9,150.4h0M623.2,134.9h0M607.4,142.0h0M615.6,152.6h0M622.5,153.8h0M629.9,142.0h0M628.2,141.8h0M611.5,143.3h0M624.9,137.3h0M630.3,150.7h0M620.6,137.1h0M603.2,147.0h0M603.1,144.3h0M615.3,141.9h0M614.8,157.9h0M627.3,144.4h0M625.5,152.1h0M602.4,148.4h0M618.5,152.8h0M608.8,139.3h0M616.0,157.2h0M614.1,136.6h0M615.5,137.6h0M627.1,143.6h0M631.0,151.2h0M610.3,147.3h0M624.8,145.6h0M622.7,149.8h0M615.8,135.1h0M602.7,142.9h0M620.8,138.9h0M630.9,143.5h0M609.0,151.8h0M610.8,154.7h0M625.1,137.1h0M606.6,149.2h0M605.2,140.5h0M612.0,154.2h0M606.5,148.7h0M628.7,151.1h0M608.4,137.3h0M617.4,136.8h0M634.8,144.6h0M622.3,150.4h0M611.3,138.8h0M619.9,155.5h0M630.4,147.4h0M623.1,149.4h0M609.6,145.7h0M630.1,145.9h0M626.2,137.7h0M618.0,156.5h0M616.3,152.3h0M619.5,145.5h0M623.1,140.4h0M623.2,153.2h0M603.7,152.0h0M616.1,153.0h0M612.8,137.3h0M627.3,149.8h0M618.8,140.2h0M630.0,142.0h0M619.8,140.5h0M610.3,142.2h0M631.8,147.1h0M602.8,148.1h0M633.9,146.0h0M614.6,153.5h0M609.6,146.7h0M612.1,146.1h0M619.5,142.9h0M603.9,150.4h0M612.1,150.5h0M623.4,154.3h0M608.1,141.1h0M613.1,139.9h0M613.7,143.7h0M623.9,136.0h0M626.6,138.8h0M606.9,142.1h0M619.4,153.7h0M611.6,148.8h0M612.8,150.8h0M613.5,142.3h0M623.2,153.2h0M627.1,152.1h0M614.0,154.3h0M601.3,142.5h0M616.6,151.6h0M622.9,148.6h0M612.2,156.0h0M615.3,136.5h0M629.7,139.1h0M619.3,134.5h0M614.5,143.6h0M626.2,140.5h0M628.8,139.8h0M621.8,147.4h0M631.0,146.3h0M625.3,153.1h0M613.8,155.7h0M615.9,135.6h0M603.3,144.6h0M614.0,152.4h0M615.1,156.4h0M630.7,145.0h0M607.6,142.2h0M620.8,142.9h0M632.3,140.1h0M617.1,152.0h0M628.4,148.0h0M619.8,142.7h0M609.8,138.5h0M630.9,138.1h0M630.4,149.0h0M605.5,147.8h0M608.8,142.3h0M611.4,146.8h0M618.7,149.3h0M616.8,140.3h0M623.9,136.7h0M614.4,153.5h0M627.3,150.1h0M625.3,149.6h0M619.9,158.3h0M607.1,146.1h0M611.9,152.5h0M621.2,157.1h0M624.7,136.1h0M621.6,155.7h0M614.0,133.6h0M614.7,132.1h0M615.9,129.9h0M621.5,132.7h0M627.4,131.7h0M621.6,133.4h0M627.4,132.7h0M619.7,131.2h0M620.2,136.7h0M625.1,132.2h0M623.9,132.5h0M624.7,131.5h0M621.3,130.8h0M617.3,134.1h0M616.1,133.9h0M620.3,129.8h0M615.7,136.0h0M624.7,131.5h0M621.1,135.2h0M626.1,133.4h0M618.6,132.0h0M620.0,131.5h0M619.3,138.2h0M621.1,136.5h0M616.1,135.0h0M625.0,130.4h0M622.6,135.1h0M623.3,133.6h0M599.7,123.8h0M605.3,134.1h0M609.2,138.0h0M611.3,134.4h0M602.0,122.0h0M609.2,138.0h0M603.0,136.8h0M598.9,123.8h0M600.7,135.1h0M609.0,114.9h0M606.4,138.5h0M598.8,124.6h0M605.4,113.6h0M608.4,136.8h0M608.6,113.3h0M608.2,136.7h0M617.0,129.4h0M609.4,134.1h0M607.8,114.5h0M600.0,129.9h0M615.5,127.0h0M601.2,130.3h0M600.9,120.0h0M609.0,116.4h0M611.1,114.5h0M614.7,124.9h0M611.2,117.3h0M605.9,116.0h0M609.8,114.0h0M607.5,137.5h0M601.8,131.2h0M614.4,123.4h0M611.1,115.1h0M598.1,124.0h0M606.7,117.3h0M612.8,114.7h0M602.1,117.0h0M612.8,117.0h0M610.7,134.0h0M616.2,127.5h0M606.0,115.4h0M604.8,115.8h0M614.4,127.6h0M604.2,116.9h0M605.8,136.0h0M609.3,114.7h0M614.8,123.4h0M603.9,115.9h0M612.0,136.7h0M598.6,128.4h0M609.1,137.8h0M599.2,126.2h0M600.7,129.8h0M602.5,127.4h0M600.3,122.4h0M603.1,114.1h0M607.0,138.0h0M614.5,126.1h0M608.7,137.5h0M609.7,114.2h0M605.6,117.2h0M602.2,122.6h0M605.4,116.3h0M599.8,125.6h0M606.4,137.6h0M605.2,136.2h0M616.1,119.1h0M603.1,132.0h0M604.2,133.4h0M607.3,139.1h0M612.6,129.5h0M607.9,112.5h0M614.4,123.1h0M609.9,137.4h0M607.0,136.9h0M600.8,130.9h0M598.7,128.0h0M611.2,133.5h0M614.6,122.1h0M615.9,131.5h0M603.9,138.9h0M601.9,115.9h0M610.1,117.7h0M609.6,134.9h0M613.6,119.9h0M608.5,117.7h0M612.9,136.3h0M614.3,126.7h0M602.3,130.9h0M602.1,121.2h0M605.3,117.9h0M600.3,124.9h0M601.1,118.8h0M607.8,134.7h0M611.5,137.6h0M599.5,127.7h0M611.5,133.0h0M601.0,130.9h0M602.0,115.0h0M611.9,121.5h0M603.8,109.9h0M603.7,110.4h0M599.6,113.1h0M602.9,113.9h0M601.8,113.6h0M600.7,113.2h0M599.8,112.8h0M601.4,115.4h0M599.0,77.7h0M594.5,82.0h0M600.4,79.0h0M596.1,80.7h0M594.0,78.9h0M599.0,78.3h0M596.1,80.2h0M596.2,82.3h0M602.8,78.0h0M600.9,81.9h0M592.0,77.7h0M595.1,81.3h0M600.7,77.8h0M595.9,75.2h0M592.7,80.9h0M596.6,82.9h0M598.9,77.6h0M598.3,77.8h0M597.7,80.4h0M598.8,76.1h0M604.1,79.5h0M598.5,78.5h0M594.6,75.9h0M595.4,81.5h0M597.4,79.0h0M594.4,77.6h0M593.1,81.1h0M597.2,83.7h0M600.8,80.7h0M602.7,77.4h0M599.5,78.0h0M595.5,78.8h0M597.1,78.1h0M594.9,79.0h0M596.7,78.8h0M602.2,79.6h0M602.9,81.9h0M596.4,81.4h0M588.3,85.7h0M585.8,86.7h0M588.3,88.2h0M585.0,83.4h0M588.5,84.7h0M585.6,88.8h0M589.7,88.0h0M587.7,83.3h0M585.4,82.3h0M590.3,86.0h0M584.5,87.9h0M589.8,87.5h0M589.6,108.5h0M590.3,101.3h0M586.1,103.9h0M588.8,105.7h0M586.3,105.6h0M594.6,94.8h0M590.5,105.8h0M590.8,95.2h0M597.1,105.2h0M592.0,93.3h0M584.4,98.0h0M595.7,103.9h0M591.6,95.5h0M596.6,103.1h0M589.9,99.5h0M594.0,102.3h0M597.1,102.8h0M593.8,102.8h0M591.6,98.9h0M588.0,99.4h0M596.1,104.1h0M589.1,106.1h0M587.7,101.0h0M592.2,108.3h0M590.9,96.9h0M591.5,102.8h0M599.3,103.5h0M594.7,107.4h0M589.3,102.6h0M593.0,103.4h0M592.2,103.4h0M592.1,102.4h0M593.1,98.5h0M585.6,99.5h0M584.8,99.5h0M590.4,96.7h0M598.9,104.6h0M593.2,95.4h0M594.6,100.9h0M585.8,102.5h0M588.3,105.2h0M594.4,95.6h0M589.8,101.2h0M591.5,106.6h0M589.3,104.1h0M593.6,99.6h0M597.6,101.2h0M589.0,104.7h0M587.8,99.4h0M584.1,104.9h0M586.6,103.0h0M593.9,98.9h0M587.2,95.7h0M586.7,99.6h0M588.9,103.1h0M585.8,98.8h0M592.8,102.9h0M592.4,104.0h0M588.9,94.1h0M589.9,102.3h0M586.4,105.1h0M588.2,101.0h0M595.4,101.0h0M596.6,94.3h0M588.3,105.7h0M584.7,102.9h0M592.3,106.1h0M593.8,96.8h0M592.2,94.2h0M591.0,104.1h0M591.8,104.5h0M591.6,93.6h0M584.3,98.0h0M586.0,98.4h0M587.7,97.5h0M585.9,96.3h0M591.1,108.2h0M586.4,103.1h0M596.4,96.7h0M588.8,95.4h0M596.0,95.1h0M596.8,99.5h0M589.6,99.6h0M589.2,101.5h0M589.6,105.3h0M587.8,96.6h0M590.7,104.6h0M593.6,103.1h0M593.4,106.4h0M593.5,97.8h0M593.3,98.7h0M591.4,103.2h0M597.0,102.8h0M592.6,93.7h0M594.0,93.6h0M581.7,107.1h0M584.3,108.5h0M583.0,109.7h0M587.8,110.5h0M583.0,109.7h0M581.7,107.8h0M584.3,107.0h0M584.4,107.5h0M581.5,110.0h0M582.7,107.7h0M582.6,108.9h0M582.6,107.3h0M600.0,69.8h0M600.1,72.6h0M603.9,72.4h0M602.5,70.8h0M601.7,72.1h0M600.1,68.2h0M600.2,72.2h0M601.2,67.3h0M602.9,68.7h0M604.3,71.5h0M605.1,70.1h0M599.3,70.5h0M600.3,68.0h0M605.9,70.7h0M600.0,94.0h0M601.1,93.2h0M600.7,91.0h0M597.3,91.0h0M599.3,93.5h0M596.1,92.0h0M597.2,92.9h0M598.8,94.7h0M575.7,80.6h0M570.4,93.0h0M577.7,92.8h0M581.8,95.4h0M578.3,75.2h0M578.1,99.8h0M582.0,83.4h0M571.9,98.7h0M573.0,94.9h0M580.2,98.2h0M582.9,91.2h0M571.3,97.9h0M574.0,74.5h0M568.1,92.4h0M571.3,85.3h0M575.8,98.2h0M569.7,88.2h0M573.1,94.4h0M577.0,96.2h0M572.8,77.8h0M574.5,99.7h0M578.3,83.3h0M572.4,80.8h0M580.7,95.0h0M579.6,90.4h0M578.2,82.8h0M572.4,88.0h0M574.8,76.8h0M568.8,92.2h0M577.8,92.7h0M574.4,92.3h0M568.9,95.4h0M571.0,82.5h0M580.1,93.5h0M575.2,91.2h0M578.2,97.1h0M574.3,85.6h0M572.7,76.0h0M575.7,90.0h0M580.1,79.2h0M569.4,81.2h0M579.4,96.5h0M569.6,84.5h0M580.1,88.0h0M579.2,75.4h0M574.3,77.5h0M572.5,78.3h0M579.0,76.2h0M575.6,90.9h0M574.5,99.1h0M574.4,74.5h0M573.7,75.6h0M580.5,82.2h0M577.5,95.9h0M576.6,76.8h0M573.9,86.3h0M576.0,87.3h0M580.5,94.1h0M578.5,77.5h0M572.5,77.2h0M568.5,87.9h0M580.0,100.1h0M576.6,99.7h0M570.0,95.0h0M574.3,88.6h0M572.9,89.2h0M581.2,87.7h0M581.6,83.8h0M580.6,92.1h0M576.2,96.7h0M571.9,97.3h0M571.9,90.5h0M582.9,87.0h0M571.5,94.8h0M573.6,84.8h0M577.0,80.2h0M578.2,99.6h0M569.6,88.5h0M580.1,85.0h0M584.3,90.0h0M576.7,91.0h0M576.3,81.1h0M575.4,81.4h0M576.9,82.7h0M574.5,100.8h0M574.1,84.2h0M572.8,89.8h0M574.7,90.9h0M581.8,79.3h0M571.1,84.4h0M583.7,89.5h0M572.5,89.1h0M571.5,93.9h0M583.2,85.4h0M576.7,84.8h0M577.0,100.4h0M580.3,86.7h0M579.3,98.0h0M568.0,91.1h0M580.1,82.0h0M574.9,88.5h0M569.0,86.0h0M580.5,84.9h0M578.6,93.5h0M577.3,84.5h0M572.4,85.4h0M577.4,79.0h0M582.5,84.7h0M582.1,94.7h0M570.0,82.8h0M574.3,86.0h0M581.4,89.9h0M577.0,88.9h0M580.7,88.8h0M572.0,85.4h0M576.5,83.7h0M568.8,92.5h0M572.3,76.9h0M570.3,93.6h0M567.6,91.8h0M576.8,85.7h0M577.7,92.5h0M574.4,91.1h0M572.4,89.6h0M581.2,88.8h0M573.9,85.2h0M576.4,98.8h0M579.8,79.4h0M579.5,80.0h0M575.2,75.7h0M581.9,92.9h0M570.2,81.3h0M578.4,97.0h0M573.3,96.9h0M578.0,86.3h0M577.0,76.0h0M573.8,91.7h0M574.5,85.6h0M575.6,76.6h0M572.9,91.1h0M582.3,83.3h0M571.8,85.9h0M568.8,94.3h0M573.3,98.8h0M572.8,77.6h0M579.7,98.9h0M580.6,96.3h0M577.9,75.2h0M576.7,82.7h0M569.2,82.0h0M578.5,97.1h0M576.0,93.5h0M579.1,94.9h0M575.5,92.9h0M575.2,99.2h0M572.7,83.3h0M578.8,79.9h0M582.3,85.3h0M569.5,95.4h0M573.0,88.7h0M541.0,90.0h0M543.1,91.5h0M539.5,88.2h0M540.9,90.3h0M542.3,94.4h0M542.0,85.4h0M543.0,88.5h0M540.3,90.8h0M543.1,94.8h0M541.0,94.3h0M540.7,91.0h0M540.3,92.2h0M541.6,93.4h0M541.4,90.6h0M546.3,85.8h0M547.3,83.4h0M552.3,88.0h0M549.7,92.9h0M547.2,82.2h0M546.9,82.8h0M549.8,90.4h0M548.1,82.4h0M548.7,83.7h0M543.4,90.5h0M550.0,89.2h0M544.3,85.4h0M550.9,85.5h0M551.1,88.6h0M549.5,93.1h0M551.7,90.4h0M546.0,84.4h0M549.5,93.4h0M550.3,82.5h0M549.4,83.7h0M550.3,90.8h0M551.6,90.5h0M544.7,88.9h0M547.1,92.5h0M549.7,89.0h0M551.2,91.8h0M548.0,93.3h0M546.9,91.6h0M549.0,92.1h0M545.5,88.3h0M564.7,86.5h0M563.5,90.8h0M567.0,85.9h0M566.9,96.0h0M563.6,83.6h0M565.0,93.7h0M560.7,94.4h0M565.7,89.3h0M558.8,88.1h0M567.1,92.8h0M562.0,92.7h0M562.2,90.8h0M561.1,90.9h0M566.6,84.7h0M564.6,97.1h0M562.8,95.9h0M569.5,89.5h0M562.3,92.3h0M568.2,88.3h0M561.2,92.4h0M562.5,89.1h0M560.0,96.1h0M559.8,93.4h0M564.6,91.0h0M564.8,87.3h0M566.9,85.4h0M561.2,85.8h0M566.8,86.0h0M564.0,96.0h0M560.8,95.9h0M563.3,88.9h0M560.0,88.3h0M563.3,86.0h0M561.6,88.8h0M566.6,90.4h0M562.3,83.2h0M559.9,91.0h0M559.4,94.0h0M562.7,86.9h0M563.8,85.8h0M562.3,89.9h0M567.8,88.6h0M564.6,87.4h0M564.5,89.5h0M566.5,85.5h0M562.7,95.1h0M561.1,94.2h0M564.2,84.3h0M569.3,90.1h0M558.7,92.1h0M560.7,90.4h0M558.8,94.5h0M561.5,86.9h0M564.4,97.1h0M561.0,97.0h0M568.4,110.3h0M570.6,110.0h0M573.9,110.4h0M573.6,113.7h0M573.7,114.1h0M574.5,112.3h0M571.4,109.0h0M575.8,109.8h0M574.4,110.7h0M574.9,112.4h0M569.7,109.6h0M571.6,109.5h0M573.2,112.4h0M573.3,108.5h0M548.5,95.7h0M590.8,86.3h0M591.5,88.3h0M592.3,89.7h0M588.8,88.3h0M589.5,83.9h0M591.7,92.5h0M591.5,93.6h0M589.9,85.4h0M608.8,95.6h0M611.9,90.7h0M614.2,91.2h0M609.8,95.0h0M608.4,93.3h0M605.9,92.4h0M610.6,97.5h0M608.1,90.0h0M606.5,92.8h0M611.9,96.9h0M605.8,92.0h0M610.4,86.4h0M613.6,91.0h0M604.7,91.3h0M608.8,94.7h0M614.8,95.1h0M612.3,94.2h0M616.3,93.5h0M606.7,92.1h0" stroke="#d3d3d3" stroke-width="2.6" stroke-linecap="round" fill="none"/>
<path d="M599.7,51.4h0M587.6,56.5h0M589.7,55.9h0M590.3,59.6h0M589.0,63.6h0M586.6,68.5h0M606.6,68.1h0M630.3,54.2h0M638.5,52.4h0M632.4,60.4h0M628.3,62.4h0M634.4,64.5h0M617.9,75.5h0M619.7,76.3h0M617.5,80.2h0M625.2,80.6h0M629.3,76.7h0M630.5,77.9h0M629.9,79.6h0M634.6,81.8h0M637.1,81.4h0M643.2,66.1h0M647.3,65.5h0M646.5,70.8h0M653.0,66.7h0M652.0,70.8h0M656.1,70.2h0M655.5,72.6h0M658.1,73.2h0M658.5,76.3h0M662.2,77.5h0M657.5,80.2h0" stroke="#f20d0d" stroke-width="3.3" stroke-linecap="round" fill="none"/>
<path d="M89.2,341.4h0M99.9,349.5h0M76.1,351.8h0M94.3,366.0h0M103.0,369.7h0M114.6,346.8h0M88.9,366.0h0M103.9,349.4h0M105.7,352.1h0M95.6,346.1h0M84.4,356.5h0M108.6,346.4h0M94.1,363.7h0M76.0,359.3h0M114.9,346.7h0M102.1,351.3h0M97.2,360.2h0M112.0,346.9h0M75.3,352.9h0M79.2,345.8h0M76.7,351.9h0M91.2,367.6h0M82.4,345.1h0M102.3,345.6h0M92.3,356.1h0M98.2,358.1h0M117.1,363.3h0M93.2,350.9h0M83.8,342.2h0M80.0,349.4h0M102.9,342.0h0M96.2,353.6h0M90.3,345.4h0M98.7,341.4h0M99.5,370.4h0M86.8,350.1h0M98.9,364.3h0M114.5,364.1h0M84.6,354.8h0M86.9,360.7h0M119.0,349.6h0M82.4,342.7h0M112.9,352.5h0M78.9,359.2h0M109.7,354.1h0M90.3,364.7h0M92.9,369.6h0M90.6,355.8h0M118.3,359.1h0M94.6,366.9h0M85.9,347.4h0M87.1,352.1h0M89.6,351.9h0M93.1,368.9h0M98.3,337.0h0M82.1,352.4h0M88.4,354.4h0M109.4,353.9h0M116.4,351.6h0M97.4,361.1h0M96.1,368.7h0M100.5,369.6h0M80.2,352.2h0M77.8,358.9h0M81.2,361.5h0M93.9,353.5h0M81.1,351.5h0M83.2,347.5h0M100.6,352.0h0M104.9,355.1h0M80.0,345.9h0M85.6,341.4h0M113.3,346.5h0M101.0,361.3h0M107.6,352.0h0M104.9,365.3h0M94.1,347.9h0M86.2,340.8h0M88.8,346.6h0M97.5,342.6h0M108.7,356.4h0M111.4,351.7h0M91.9,352.8h0M89.9,365.1h0M93.4,348.7h0M77.4,363.0h0M114.9,360.5h0M88.2,353.1h0M119.8,357.2h0M89.2,348.9h0M96.6,354.8h0M78.4,350.5h0M87.7,344.2h0M109.1,358.5h0M92.7,347.8h0M109.1,359.4h0M115.8,357.5h0M79.5,354.9h0M110.8,365.1h0M106.2,361.1h0M81.2,349.7h0M99.7,358.0h0M97.3,335.4h0M97.6,355.1h0M109.1,345.4h0M108.2,342.0h0M96.4,350.0h0M109.9,358.0h0M81.0,344.8h0M101.2,336.8h0M105.4,360.5h0M98.0,352.8h0M117.4,343.1h0M75.6,351.2h0M95.5,347.1h0M84.4,357.5h0M113.3,353.8h0M84.8,368.2h0M73.8,353.9h0M80.2,349.5h0M118.0,361.4h0M92.3,350.2h0M91.0,351.6h0M87.5,370.0h0M97.0,344.0h0M114.7,364.2h0M118.2,355.6h0M108.5,351.5h0M87.8,337.8h0M96.0,349.3h0M104.3,346.7h0M82.3,343.2h0M95.3,341.4h0M90.2,339.9h0M100.8,367.3h0M93.1,355.3h0M77.3,346.0h0M98.0,358.4h0M86.3,345.4h0M116.1,353.1h0M93.0,368.3h0M99.5,360.2h0M103.8,363.7h0M84.7,368.6h0M79.5,344.5h0M98.4,357.2h0M102.1,337.2h0M119.6,358.8h0M86.0,344.8h0M97.1,360.5h0M105.4,369.3h0M89.8,350.9h0M111.1,362.5h0M112.8,345.4h0M87.5,370.1h0M83.8,349.9h0M81.3,351.7h0M77.9,349.5h0M118.4,349.2h0M104.9,350.1h0M87.5,348.7h0M91.1,365.0h0M75.5,354.0h0M83.3,349.1h0M93.4,365.0h0M117.3,344.2h0M90.8,345.7h0M86.2,362.2h0M117.2,358.8h0M86.5,352.8h0M91.6,345.4h0M112.2,361.7h0M83.3,363.3h0M87.1,339.6h0M107.5,352.7h0M103.2,359.1h0M105.5,340.1h0M100.7,349.1h0M86.4,345.9h0M99.8,348.9h0M98.2,343.7h0M97.1,364.4h0M80.4,342.8h0M118.2,349.0h0M86.5,363.8h0M102.2,358.8h0M80.7,344.2h0M105.2,343.5h0M105.8,343.2h0M111.7,355.8h0M92.5,355.6h0M81.4,361.2h0M88.2,370.9h0M92.2,349.6h0M93.0,366.1h0M96.5,342.1h0M104.9,369.1h0M91.8,354.6h0M99.1,369.6h0M84.8,340.2h0M97.3,337.9h0M116.7,358.0h0M110.0,344.7h0M113.1,343.3h0M98.7,350.2h0M108.8,368.4h0M101.9,355.5h0M93.0,357.3h0M95.9,352.0h0M97.1,343.6h0M95.3,342.7h0M80.6,351.9h0M97.9,337.5h0M108.3,363.9h0M98.0,349.6h0M109.0,366.8h0M97.5,370.1h0M77.2,348.4h0M116.3,345.7h0M97.8,369.4h0M98.2,347.7h0M106.5,369.0h0M79.1,354.7h0M114.0,355.4h0M103.8,349.8h0M119.9,357.5h0M94.8,342.3h0M111.5,344.0h0M101.6,359.9h0M101.8,351.5h0M80.2,344.2h0M79.2,349.7h0M101.3,343.0h0M86.2,342.0h0M114.6,364.3h0M100.1,348.2h0M118.1,363.6h0M75.8,355.4h0M75.0,355.7h0M82.6,357.8h0M112.1,342.9h0M112.0,361.8h0M109.0,352.2h0M84.7,340.1h0M89.4,361.9h0M106.9,345.5h0M111.0,355.7h0M86.2,343.3h0M109.5,347.5h0M84.7,367.9h0M95.7,365.1h0M94.2,361.8h0M85.2,359.0h0M90.4,341.3h0M106.3,357.9h0M76.5,358.0h0M79.2,343.6h0M113.1,364.4h0M103.9,346.6h0M109.4,344.1h0M87.0,362.1h0M119.8,353.5h0M74.6,351.3h0M90.0,361.2h0M113.0,342.3h0M73.2,353.8h0M82.1,354.7h0M87.2,343.2h0M80.1,359.4h0M106.4,363.9h0M93.1,350.1h0M84.3,345.2h0M92.0,368.3h0M99.1,362.3h0M91.1,348.8h0M110.8,357.3h0M115.8,345.1h0M107.3,366.5h0M85.4,347.8h0M90.4,342.8h0M79.9,349.8h0M108.8,352.5h0M79.0,343.7h0M92.6,363.8h0M104.3,353.3h0M93.6,362.3h0M100.7,363.1h0M108.1,366.7h0M113.7,360.0h0M89.3,358.9h0M110.5,361.3h0M93.5,352.0h0M106.1,370.1h0M109.0,350.2h0M76.4,356.4h0M118.9,355.2h0M98.6,361.7h0M111.8,355.5h0M83.2,361.2h0M90.7,338.8h0M73.9,351.5h0M90.8,346.6h0M118.4,356.0h0M93.2,344.5h0M111.3,359.0h0M91.1,358.0h0M95.8,346.6h0M113.5,348.5h0M91.4,345.4h0M87.1,345.6h0M93.9,358.5h0M117.3,365.0h0M105.1,345.3h0M84.9,364.1h0M117.1,365.5h0M102.0,363.0h0M111.4,366.9h0M97.9,363.1h0M100.2,345.9h0M96.9,338.4h0M96.0,353.7h0M95.5,355.3h0M91.9,351.1h0M104.8,359.0h0M105.3,370.8h0M98.2,353.4h0M107.2,359.4h0M90.3,353.0h0M83.3,352.1h0M113.2,346.1h0M96.1,345.8h0M104.6,364.9h0M87.4,356.4h0M116.1,355.8h0M116.8,357.1h0M116.2,357.5h0M106.6,357.1h0M105.4,352.3h0M110.1,368.3h0M112.3,364.1h0M88.0,351.8h0M104.9,369.7h0M112.7,356.4h0M73.6,349.3h0M119.9,353.3h0M104.4,343.9h0M107.8,344.5h0M107.5,366.5h0M102.3,361.8h0M89.3,363.2h0M96.4,338.9h0M95.3,361.1h0M90.7,358.8h0M93.2,363.9h0M102.2,347.2h0M106.7,366.4h0M101.2,347.7h0M90.8,359.9h0M112.4,346.3h0M94.4,356.0h0M111.8,366.9h0M113.5,363.8h0M89.4,338.9h0M83.9,362.8h0M102.2,360.4h0M86.2,362.4h0M109.2,343.9h0M114.9,354.9h0M83.3,343.9h0M90.5,356.7h0M79.1,358.4h0M102.0,348.5h0M114.3,353.4h0M111.6,351.1h0M83.7,342.7h0M98.9,367.6h0M103.2,351.4h0M85.2,355.2h0M105.2,350.3h0M87.1,348.1h0M110.0,360.2h0M105.0,346.3h0M79.0,348.0h0M96.7,342.5h0M109.1,343.5h0M81.7,352.9h0M113.1,358.8h0M112.5,353.0h0M108.3,356.8h0M86.8,351.3h0M113.8,348.7h0M90.2,369.4h0M105.0,343.8h0M85.0,344.7h0M78.8,346.4h0M108.3,346.7h0M112.0,348.4h0M113.4,355.5h0M116.6,343.9h0M82.4,363.3h0M102.6,354.3h0M103.1,360.7h0M108.4,350.6h0M112.8,347.2h0M97.8,336.4h0M115.5,346.7h0M90.8,342.6h0M73.6,355.0h0M80.2,360.7h0M88.4,362.2h0M118.2,353.8h0M99.7,336.9h0M107.7,343.3h0M101.1,354.6h0M115.2,361.9h0M97.2,354.3h0M92.1,340.5h0M81.0,356.3h0M92.7,350.6h0M92.7,369.3h0M83.8,348.8h0M113.0,366.6h0M85.4,350.9h0M98.4,339.0h0M118.5,357.7h0M104.0,345.3h0M99.2,368.9h0M99.0,351.5h0M89.0,359.8h0M118.9,355.2h0M99.4,341.7h0M87.8,351.1h0M78.6,355.0h0M101.1,360.2h0M95.2,355.3h0M88.8,345.5h0M92.6,357.1h0M113.9,344.5h0M88.1,363.9h0M115.5,352.1h0M95.1,362.7h0M80.8,348.9h0M103.3,365.9h0M108.8,362.1h0M111.2,361.3h0M108.5,357.1h0M101.2,350.0h0M102.0,349.9h0M107.4,347.1h0M92.4,346.6h0M97.7,352.5h0M80.7,356.6h0M117.9,346.9h0M94.3,368.7h0M101.5,353.5h0M98.7,371.7h0M105.8,350.7h0M90.2,369.4h0M78.1,350.0h0M101.7,367.4h0M95.3,358.5h0M99.2,365.7h0M98.9,339.6h0M116.0,351.6h0M98.2,354.5h0M102.5,359.1h0M103.1,338.2h0M89.0,360.8h0M113.4,356.8h0M97.4,356.7h0M98.5,371.5h0M110.0,340.2h0M97.8,364.9h0M110.1,347.2h0M83.1,346.4h0M100.9,348.8h0M100.7,370.7h0M89.1,367.8h0M100.9,370.5h0M85.4,349.7h0M87.6,367.5h0M85.3,342.7h0M99.9,340.2h0M93.8,339.3h0M90.7,345.4h0M105.8,349.1h0M78.6,345.6h0M95.0,365.7h0M89.6,363.0h0M97.5,344.4h0M107.9,345.1h0M91.0,344.7h0M98.0,356.5h0M91.7,359.4h0M92.9,340.3h0M89.7,360.3h0M91.0,354.2h0M89.3,344.9h0M88.2,350.1h0M81.2,346.2h0M104.5,349.2h0M107.2,344.6h0M104.6,343.5h0M108.7,361.6h0M81.5,343.8h0M113.4,356.1h0M94.5,360.6h0M113.2,364.0h0M114.6,358.0h0M79.6,365.6h0M109.1,338.8h0M109.1,366.0h0M119.3,351.0h0M108.3,365.3h0M76.0,361.4h0M107.0,365.6h0M119.2,358.8h0M76.5,349.2h0M88.4,340.3h0M84.6,344.8h0M117.6,349.9h0M80.2,357.2h0M100.2,364.0h0M102.3,351.6h0M79.2,346.8h0M77.2,347.1h0M94.8,340.8h0M91.2,342.2h0M78.8,361.7h0M78.8,353.8h0M100.3,336.1h0M103.3,369.2h0M86.6,341.3h0M113.8,347.5h0M82.5,363.4h0M89.7,342.4h0M101.1,357.8h0M97.6,354.4h0M101.2,338.8h0M95.0,370.9h0M94.7,343.0h0M113.7,366.1h0M86.8,359.7h0M89.4,350.9h0M87.5,351.8h0M90.5,352.4h0M119.3,358.1h0M105.6,358.6h0M118.5,353.0h0M90.6,367.8h0M106.7,352.6h0M90.9,357.3h0M100.9,350.6h0M116.8,356.5h0M85.5,339.5h0M97.2,356.7h0M79.2,354.4h0M92.1,339.3h0M99.9,361.4h0M93.2,342.1h0M110.5,340.9h0M86.0,349.6h0M83.9,346.3h0M116.3,357.8h0M81.4,363.6h0M106.4,366.0h0M101.4,339.5h0M106.0,345.9h0M113.5,357.0h0M79.6,365.4h0M87.5,360.9h0M114.8,354.5h0M89.0,341.6h0M82.4,364.9h0M96.7,341.4h0M115.5,358.2h0M84.1,368.0h0M81.3,349.2h0M93.1,348.8h0M96.0,371.5h0M105.5,346.6h0M84.9,356.2h0M101.1,363.0h0M103.5,359.2h0M112.2,367.0h0M88.3,362.7h0M103.3,348.5h0M76.1,349.7h0M119.6,342.6h0M117.7,337.9h0M118.5,343.4h0M115.3,340.4h0M131.0,341.3h0M121.3,354.6h0M119.0,351.8h0M112.1,339.9h0M116.8,338.4h0M123.4,337.5h0M122.9,335.7h0M116.6,338.5h0M129.2,347.1h0M115.6,348.9h0M124.8,341.8h0M109.0,347.6h0M122.3,340.1h0M130.2,345.8h0M122.6,349.1h0M112.0,337.7h0M126.7,343.0h0M120.9,347.3h0M125.5,339.2h0M126.8,339.5h0M117.6,340.3h0M119.6,347.0h0M126.4,337.0h0M109.4,344.6h0M130.6,342.4h0M125.7,352.7h0M127.3,339.8h0M123.4,341.1h0M116.7,352.8h0M108.9,348.0h0M108.6,346.5h0M130.6,347.5h0M114.5,343.8h0M125.6,349.1h0M114.0,346.9h0M128.7,339.2h0M113.7,341.6h0M111.6,347.7h0M122.2,353.0h0M117.0,349.6h0M112.1,349.3h0M123.6,338.0h0M125.3,351.8h0M113.8,350.0h0M119.9,339.7h0M116.2,352.2h0M111.9,344.1h0M111.5,349.1h0M117.1,344.3h0M129.0,349.3h0M115.2,336.8h0M117.8,345.8h0M123.8,347.3h0M128.4,349.0h0M117.7,353.9h0M118.0,338.0h0M122.6,353.4h0M117.3,340.1h0M128.3,349.9h0M124.2,340.8h0M126.8,343.8h0M113.8,346.5h0M124.2,342.5h0M123.7,340.8h0M113.4,348.0h0M118.8,348.7h0M114.2,337.6h0M120.8,344.8h0M111.5,350.9h0M117.4,350.6h0M112.4,340.3h0M126.9,345.1h0M123.6,343.8h0M125.9,337.6h0M120.2,340.1h0M117.5,336.3h0M125.0,340.8h0M123.4,352.0h0M126.8,347.0h0M118.6,341.7h0M118.1,346.9h0M117.7,346.0h0M116.9,348.0h0M125.4,342.3h0M130.2,349.6h0M119.5,343.5h0M118.8,352.2h0M119.9,349.9h0M117.4,335.4h0M126.7,350.0h0M126.8,346.2h0M125.9,344.6h0M119.2,346.2h0M117.9,345.1h0M114.6,340.6h0M127.9,345.7h0M110.2,340.2h0M128.5,340.3h0M120.3,342.4h0M122.1,341.8h0M130.4,345.9h0M120.3,342.8h0M114.5,351.1h0M125.8,346.8h0M119.3,352.0h0M123.5,336.0h0M123.0,338.3h0M126.7,343.9h0M115.4,339.0h0M118.0,348.9h0M125.3,338.5h0M114.8,339.4h0M121.9,337.9h0M128.6,336.6h0M116.9,336.4h0M114.1,345.9h0M125.3,343.1h0M130.2,345.7h0M126.2,344.5h0M119.1,351.1h0M114.9,351.7h0M121.6,354.5h0M123.4,336.8h0M114.6,350.1h0M115.1,336.5h0M120.7,349.7h0M109.8,345.4h0M111.1,346.6h0M124.6,339.5h0M116.6,350.6h0M120.4,345.8h0M111.6,345.3h0M113.0,343.1h0M112.7,351.6h0M119.0,349.7h0M90.8,341.7h0M83.4,338.0h0M101.3,336.0h0M106.5,335.7h0M103.7,340.4h0M109.9,338.6h0M113.9,338.3h0M90.9,340.9h0M94.5,336.0h0M99.1,337.8h0M108.1,341.1h0M111.8,342.2h0M95.4,335.7h0M108.3,334.4h0M113.5,340.4h0M103.0,337.5h0M112.5,337.0h0M91.3,342.6h0M96.8,336.6h0M104.9,341.6h0M110.3,340.4h0M95.7,334.3h0M94.7,339.1h0M83.3,339.0h0M109.4,337.9h0M93.3,337.2h0M103.9,337.3h0M105.6,337.6h0M88.0,341.0h0M89.5,336.7h0M89.4,341.9h0M96.7,338.8h0M110.5,335.9h0M98.0,342.5h0M86.7,339.0h0M96.1,342.5h0M84.0,340.7h0M94.5,340.1h0M100.8,340.3h0M96.0,343.9h0M104.7,339.9h0M112.5,341.0h0M94.9,335.3h0M87.5,339.8h0M95.6,341.0h0M107.6,336.9h0M108.5,341.7h0M106.4,341.1h0M102.2,341.6h0M87.8,338.9h0M107.4,336.1h0M89.5,337.1h0M93.9,338.7h0M96.4,337.9h0M97.2,341.5h0M93.4,335.1h0M101.5,340.2h0M94.5,342.9h0M103.9,336.6h0M109.5,340.7h0M92.4,336.9h0M107.0,341.2h0M85.6,336.1h0M104.1,340.3h0M94.4,337.5h0M88.4,342.4h0M105.5,343.2h0M83.9,338.2h0M104.5,340.2h0M92.3,341.2h0M87.9,340.0h0M106.9,341.1h0M87.0,340.2h0M91.2,334.3h0M92.0,336.6h0M109.5,337.5h0M111.6,337.4h0M88.1,337.1h0M102.4,342.2h0M130.9,340.2h0M138.2,346.5h0M127.4,342.3h0M148.2,349.2h0M144.6,348.5h0M161.7,349.4h0M143.7,343.4h0M151.8,348.3h0M141.6,344.8h0M145.3,347.1h0M133.4,341.3h0M152.3,350.6h0M152.0,350.1h0M132.6,344.6h0M138.8,347.9h0M129.7,345.5h0M143.1,349.2h0M146.8,347.6h0M151.7,352.2h0M153.8,346.9h0M134.0,344.6h0M155.5,351.9h0M158.8,350.7h0M147.3,350.7h0M135.1,341.5h0M142.3,346.0h0M143.3,342.3h0M143.5,344.6h0M134.8,344.7h0M148.7,345.5h0M135.5,342.2h0M149.0,349.9h0M134.9,345.2h0M160.1,348.6h0M155.6,345.8h0M132.8,346.8h0M130.9,344.7h0M145.0,349.5h0M147.4,350.0h0M146.5,345.3h0M155.3,352.1h0M150.3,345.6h0M161.3,351.5h0M152.2,351.3h0M140.3,343.4h0M147.3,351.4h0M150.6,348.9h0M140.4,345.4h0M153.3,350.8h0M149.0,351.3h0M141.8,348.1h0M139.9,344.2h0M153.9,347.6h0M138.2,346.1h0M155.7,350.3h0M136.9,346.2h0M144.1,347.4h0M140.1,347.6h0M136.4,348.0h0M132.9,342.2h0M152.6,351.3h0M135.5,341.9h0M146.8,348.0h0M138.5,341.2h0M140.7,342.9h0M135.8,346.9h0M137.6,343.4h0M154.2,345.3h0M157.8,346.7h0M151.5,346.4h0M149.9,348.4h0M161.8,349.3h0M139.5,348.0h0M135.6,343.0h0M134.5,347.1h0M154.7,347.1h0M140.4,343.8h0M149.6,350.9h0M142.2,342.8h0M144.4,344.3h0M140.3,344.9h0M154.4,348.5h0M160.3,351.2h0M134.0,350.3h0M134.5,354.1h0M127.4,352.7h0M126.4,348.5h0M130.9,355.3h0M131.7,356.3h0M130.2,358.3h0M133.8,352.5h0M123.8,356.5h0M127.3,349.8h0M128.5,362.9h0M122.3,354.5h0M127.5,363.0h0M133.7,349.9h0M124.6,354.1h0M121.0,353.7h0M123.2,353.9h0M123.3,351.6h0M128.4,356.2h0M123.2,349.0h0M125.8,360.6h0M136.0,353.8h0M125.7,351.2h0M127.2,354.6h0M130.6,355.5h0M130.7,355.3h0M128.8,349.2h0M122.9,352.6h0M120.7,358.6h0M131.2,360.1h0M130.4,358.2h0M124.1,353.7h0M126.8,362.5h0M131.0,351.8h0M122.1,350.7h0M127.1,354.0h0M134.2,357.0h0M126.8,349.5h0M129.6,350.3h0M131.5,360.0h0M123.0,359.9h0M133.6,355.7h0M130.0,349.9h0M131.5,351.2h0M123.2,358.3h0M124.3,358.5h0M127.8,351.0h0M129.7,359.3h0M131.1,352.3h0M134.9,356.1h0M130.8,352.6h0M133.2,360.5h0M123.4,357.5h0M123.3,347.5h0M122.0,349.7h0M129.9,351.2h0M129.3,358.9h0M122.9,350.8h0M129.8,362.2h0M130.6,351.3h0M131.8,359.1h0M132.1,352.6h0M121.1,356.9h0M127.8,350.3h0M128.1,352.0h0M132.7,348.6h0M127.4,350.4h0M124.8,353.6h0M127.1,353.5h0M128.9,348.5h0M121.7,354.1h0M121.2,358.6h0M122.6,354.0h0M120.9,351.1h0M122.8,355.2h0M122.3,359.7h0M122.3,350.6h0M125.1,358.3h0M127.1,362.4h0M127.3,358.3h0M125.3,351.3h0M133.9,352.8h0M124.4,350.2h0M134.5,356.3h0M130.0,361.6h0M133.3,360.9h0M125.7,352.7h0M122.9,362.3h0M148.9,364.8h0M146.8,363.1h0M145.8,357.6h0M144.3,356.7h0M148.5,364.7h0M147.1,362.3h0M143.6,359.8h0M147.5,365.7h0M140.0,353.8h0M147.8,355.7h0M146.2,355.3h0M141.4,361.3h0M148.5,364.2h0M143.6,353.2h0M142.7,360.0h0M145.4,355.7h0M150.7,363.5h0M136.3,361.4h0M141.5,353.4h0M147.6,358.4h0M149.0,354.3h0M142.3,356.6h0M139.0,357.5h0M138.4,360.4h0M148.2,354.5h0M146.2,366.2h0M144.7,364.8h0M143.4,366.0h0M144.6,364.6h0M139.6,356.6h0M143.6,353.6h0M146.5,363.8h0M142.7,354.1h0M139.3,360.0h0M146.3,363.9h0M149.8,358.9h0M148.0,362.8h0M141.3,364.0h0M138.5,358.0h0M139.2,355.6h0M141.3,360.3h0M141.3,366.9h0M142.9,355.0h0M141.7,357.7h0M146.8,359.0h0M145.1,351.5h0M142.1,361.3h0M141.8,356.4h0M139.3,356.8h0M144.0,363.5h0M144.3,358.5h0M149.5,364.3h0M142.4,360.5h0M142.2,359.8h0M142.6,357.7h0M147.0,356.5h0M141.2,365.7h0M141.7,365.2h0M139.1,355.7h0M147.9,362.2h0M145.3,366.7h0M142.6,353.9h0M142.6,352.9h0M145.0,366.9h0M146.6,361.8h0M138.4,360.0h0M141.1,367.1h0M142.0,355.4h0M146.5,355.1h0M142.2,363.5h0M142.1,363.7h0M149.4,360.8h0M143.0,362.5h0M148.5,359.9h0M109.5,399.4h0M111.4,410.3h0M117.9,386.8h0M129.7,403.4h0M106.5,403.8h0M99.9,406.9h0M98.8,402.7h0M117.3,390.6h0M124.5,378.8h0M128.1,390.8h0M123.3,399.4h0M122.1,382.3h0M110.6,408.5h0M111.2,395.2h0M110.8,407.9h0M112.6,378.8h0M121.4,376.6h0M122.7,379.2h0M104.5,405.4h0M112.1,391.4h0M107.7,409.9h0M126.3,379.8h0M107.9,380.5h0M125.2,383.8h0M130.6,397.5h0M119.2,394.2h0M125.6,399.8h0M113.5,405.2h0M99.8,400.1h0M100.0,379.9h0M103.7,388.1h0M117.6,380.4h0M100.2,396.4h0M115.9,386.5h0M98.5,384.8h0M130.3,401.4h0M119.5,394.4h0M107.7,398.8h0M115.5,382.4h0M126.3,398.6h0M96.6,390.6h0M115.3,375.6h0M117.6,405.6h0M102.2,406.7h0M104.1,407.6h0M131.9,389.7h0M98.4,403.0h0M110.2,399.0h0M119.6,380.0h0M108.2,408.7h0M99.4,379.7h0M99.7,393.2h0M110.5,395.1h0M110.7,383.1h0M126.9,384.1h0M109.3,386.9h0M119.7,406.2h0M130.4,397.5h0M98.1,387.5h0M109.3,386.1h0M103.5,380.9h0M129.4,401.3h0M127.7,399.6h0M96.3,393.9h0M122.8,401.5h0M120.2,390.7h0M102.9,389.8h0M107.0,384.3h0M109.5,400.6h0M98.2,395.0h0M97.7,393.5h0M120.5,392.8h0M112.4,380.0h0M119.5,400.1h0M125.4,379.1h0M116.4,402.5h0M108.2,402.9h0M98.3,401.3h0M121.5,379.6h0M108.5,407.5h0M130.2,403.6h0M132.8,398.6h0M101.3,394.2h0M108.4,393.6h0M104.4,393.5h0M119.7,381.5h0M124.4,400.4h0M103.3,409.3h0M105.2,388.7h0M107.5,386.9h0M122.9,383.4h0M119.1,399.4h0M104.7,377.1h0M131.0,393.1h0M125.5,383.5h0M124.7,402.4h0M104.4,391.8h0M110.7,391.9h0M101.0,381.8h0M128.2,386.1h0M110.9,381.3h0M111.0,389.3h0M94.9,389.4h0M108.2,404.0h0M119.4,381.8h0M118.4,386.7h0M129.0,383.0h0M106.3,376.7h0M118.0,394.1h0M105.5,391.2h0M103.6,407.5h0M109.2,375.1h0M102.9,404.0h0M96.4,389.7h0M124.0,406.1h0M125.4,379.5h0M111.9,412.2h0M108.1,390.9h0M121.9,394.0h0M113.3,394.0h0M102.0,408.0h0M118.1,396.0h0M132.1,389.1h0M114.4,387.9h0M107.9,390.2h0M109.4,380.0h0M111.7,390.9h0M111.3,406.5h0M113.0,382.8h0M121.1,384.1h0M117.6,381.1h0M114.9,379.8h0M99.1,385.6h0M117.9,403.7h0M110.5,405.4h0M109.4,391.3h0M119.6,378.6h0M122.8,384.4h0M127.7,394.3h0M111.1,405.2h0M128.3,382.0h0M118.8,379.6h0M106.0,408.5h0M133.0,390.7h0M123.9,383.9h0M115.9,397.4h0M121.6,391.5h0M105.3,402.2h0M121.4,389.9h0M130.8,388.4h0M123.0,407.8h0M107.4,401.6h0M115.2,380.1h0M114.3,405.0h0M108.3,405.4h0M118.4,393.3h0M103.7,391.1h0M103.3,405.6h0M118.7,378.9h0M127.4,403.2h0M111.6,399.8h0M97.7,390.1h0M102.5,407.4h0M101.5,396.9h0M114.1,391.1h0M123.8,395.9h0M124.6,385.8h0M116.1,399.4h0M96.6,398.5h0M116.6,402.8h0M103.8,378.1h0M113.1,384.6h0M108.6,404.0h0M106.7,377.8h0M109.8,409.9h0M113.2,391.6h0M126.9,393.0h0M128.6,389.3h0M112.2,396.9h0M108.7,407.7h0M119.0,397.8h0M101.7,398.1h0M94.6,391.9h0M107.1,379.1h0M124.0,385.8h0M99.9,402.6h0M108.0,381.8h0M109.9,379.2h0M131.6,389.2h0M118.6,406.5h0M105.7,378.9h0M127.4,382.6h0M104.3,380.3h0M103.3,395.8h0M111.3,409.7h0M122.2,376.9h0M106.5,401.6h0M99.4,392.4h0M114.6,379.3h0M104.1,383.6h0M123.7,378.1h0M117.7,407.2h0M121.2,396.3h0M113.1,381.8h0M116.9,386.7h0M114.1,383.7h0M113.4,402.1h0M130.3,384.8h0M103.9,405.0h0M126.8,396.1h0M100.7,384.1h0M112.9,401.9h0M97.7,391.8h0M131.2,389.6h0M121.0,402.0h0M117.0,395.3h0M133.2,391.8h0M124.2,401.1h0M128.7,384.1h0M106.7,387.5h0M127.3,400.1h0M116.2,382.8h0M100.4,402.6h0M106.9,406.9h0M109.0,375.3h0M97.4,401.0h0M104.3,385.3h0M124.8,400.4h0M100.1,395.5h0M100.7,400.8h0M119.7,396.7h0M97.8,385.9h0M120.3,399.1h0M111.6,391.5h0M98.6,397.5h0M121.1,408.4h0M115.3,386.6h0M111.3,404.2h0M97.8,391.7h0M109.3,411.0h0M124.7,397.1h0M112.9,389.0h0M107.2,397.4h0M110.2,404.7h0M126.8,396.6h0M109.0,384.3h0M114.7,388.8h0M98.4,401.4h0M99.8,395.9h0M128.3,400.9h0M103.5,396.6h0M123.6,398.4h0M131.1,395.5h0M111.9,393.9h0M118.0,392.1h0M122.2,410.2h0M119.5,405.2h0M102.2,401.0h0M107.8,396.4h0M113.7,390.0h0M101.2,394.3h0M114.0,410.7h0M109.9,395.1h0M107.4,380.9h0M122.3,397.1h0M114.4,379.1h0M127.0,383.3h0M123.4,402.9h0M105.9,399.3h0M116.3,385.7h0M128.6,383.0h0M98.9,403.4h0M98.1,384.6h0M126.5,381.0h0M97.7,403.4h0M96.8,382.9h0M110.7,391.6h0M103.4,403.3h0M115.3,401.3h0M105.6,384.9h0M107.4,384.6h0M114.2,388.3h0M112.0,395.6h0M103.2,378.5h0M100.9,390.8h0M109.5,405.8h0M98.9,397.3h0M119.5,386.2h0M112.7,391.6h0M130.7,392.5h0M130.6,398.3h0M126.5,406.2h0M101.9,403.0h0M101.8,404.4h0M107.7,389.7h0M130.9,398.6h0M96.3,393.8h0M132.2,390.6h0M116.9,395.2h0M104.9,393.7h0M116.5,382.5h0M108.0,403.7h0M124.0,391.1h0M119.3,401.4h0M126.9,386.3h0M120.4,383.3h0M118.2,385.3h0M101.7,380.9h0M122.4,387.0h0M119.4,389.3h0M103.8,406.3h0M128.0,403.5h0M102.9,401.9h0M106.9,402.7h0M115.5,388.7h0M101.3,403.8h0M113.3,375.6h0M104.3,398.8h0M111.3,401.8h0M115.0,396.7h0M106.7,387.8h0M123.1,397.1h0M98.9,403.0h0M103.8,395.1h0M130.8,384.4h0M117.5,383.8h0M105.6,382.6h0M129.4,385.1h0M108.7,379.5h0M116.5,392.0h0M123.7,402.9h0M124.6,395.8h0M119.0,377.8h0M103.7,394.3h0M113.9,400.4h0M111.1,412.3h0M114.9,381.0h0M118.8,407.2h0M124.5,392.1h0M108.9,411.8h0M127.6,381.8h0M124.2,402.6h0M124.4,402.6h0M111.5,403.2h0M108.1,405.0h0M106.6,395.2h0M122.0,390.4h0M121.6,401.9h0M129.4,390.5h0M130.6,384.9h0M103.0,379.7h0M115.7,380.3h0M127.9,402.3h0M113.8,393.6h0M125.9,379.2h0M103.7,383.8h0M115.7,408.0h0M106.2,379.4h0M130.8,392.2h0M122.4,404.0h0M101.4,394.9h0M101.2,386.7h0M102.2,377.7h0M118.7,403.8h0M129.7,398.4h0M113.2,402.9h0M110.1,390.8h0M107.8,389.6h0M109.1,391.2h0M105.2,392.3h0M103.2,383.3h0M112.6,390.2h0M99.5,396.8h0M113.0,380.4h0M121.2,391.6h0M103.9,409.2h0M102.6,387.3h0M111.7,406.0h0M107.6,409.9h0M117.1,379.2h0M119.4,387.6h0M115.8,381.8h0M129.3,394.7h0M105.2,404.4h0M111.5,409.0h0M99.0,383.2h0M123.3,389.9h0M123.2,409.1h0M114.3,400.5h0M107.5,401.0h0M101.8,382.0h0M115.2,374.2h0M97.1,385.4h0M115.7,387.4h0M105.4,386.7h0M121.3,407.6h0M104.6,393.8h0M111.9,383.6h0M107.9,376.3h0M120.1,387.7h0M119.2,400.7h0M95.6,397.9h0M111.2,409.9h0M118.4,399.3h0M100.3,383.7h0M116.3,401.5h0M99.8,397.0h0M105.5,406.3h0M120.7,404.6h0M120.1,386.9h0M109.3,379.9h0M115.8,389.6h0M107.9,408.7h0M124.2,394.0h0M99.7,384.9h0M106.5,389.9h0M122.1,403.4h0M106.6,379.3h0M109.3,388.4h0M111.9,405.5h0M114.6,402.3h0M121.9,389.1h0M115.7,389.4h0M125.8,386.3h0M125.1,394.3h0M111.3,396.2h0M120.8,397.9h0M123.6,380.2h0M109.4,394.0h0M112.4,405.5h0M119.9,391.2h0M116.1,410.7h0M122.3,392.8h0M107.6,401.0h0M96.9,396.4h0M112.6,377.0h0M115.7,392.0h0M108.6,411.0h0M99.4,388.0h0M104.3,376.7h0M120.1,395.4h0M122.7,399.9h0M112.9,385.5h0M119.0,380.8h0M127.2,405.3h0M105.0,402.3h0M108.7,397.8h0M107.1,409.2h0M117.9,405.9h0M115.1,410.7h0M114.9,387.6h0M104.8,405.5h0M108.6,397.4h0M119.9,378.1h0M121.5,387.9h0M113.4,404.2h0M113.3,384.8h0M116.4,407.6h0M94.8,394.7h0M130.4,391.7h0M117.5,390.8h0M122.0,380.6h0M123.6,397.2h0M109.6,382.7h0M121.4,379.3h0M106.8,393.0h0M121.6,386.5h0M96.8,398.6h0M98.0,402.2h0M99.2,397.0h0M112.1,400.0h0M100.2,391.7h0M132.9,395.9h0M118.8,403.2h0M130.2,390.1h0M106.1,391.7h0M130.7,399.8h0M96.3,391.0h0M119.3,381.8h0M131.2,387.6h0M104.9,403.9h0M106.5,407.7h0M105.9,397.3h0M124.0,389.2h0M112.4,411.2h0M123.0,401.0h0M126.3,399.6h0M104.5,409.2h0M108.9,388.4h0M98.9,401.0h0M125.4,379.2h0M126.7,405.7h0M132.7,389.2h0M117.1,410.4h0M123.3,383.6h0M111.8,379.5h0M121.6,393.7h0M109.9,401.5h0M110.3,396.0h0M107.2,379.6h0M123.0,398.6h0M126.5,398.6h0M110.3,385.7h0M119.1,410.0h0M113.8,377.5h0M112.2,408.4h0M117.0,404.1h0M102.9,399.4h0M113.4,375.4h0M104.0,384.3h0M109.3,386.9h0M123.4,393.2h0M129.7,392.8h0M114.1,396.0h0M117.8,399.4h0M110.0,377.4h0M101.2,388.7h0M125.2,406.8h0M104.1,395.8h0M109.2,378.1h0M98.9,384.5h0M115.1,381.3h0M97.8,387.3h0M97.0,382.5h0M117.2,397.7h0M103.0,396.7h0M130.5,389.8h0M124.1,394.1h0M106.1,371.9h0M92.3,383.6h0M99.0,375.2h0M107.4,372.5h0M111.5,376.6h0M98.6,378.3h0M99.4,370.0h0M94.8,377.4h0M101.0,386.8h0M93.5,382.1h0M91.0,375.3h0M110.9,375.7h0M103.6,378.8h0M101.3,379.4h0M95.8,381.4h0M96.2,373.0h0M93.5,377.2h0M92.1,383.3h0M107.3,381.2h0M110.4,374.2h0M110.2,377.4h0M100.0,370.0h0M101.9,384.8h0M98.5,371.4h0M104.7,376.9h0M113.1,379.6h0M90.8,373.1h0M101.5,376.8h0M105.1,379.2h0M96.4,377.5h0M100.2,385.8h0M87.7,376.5h0M91.0,373.3h0M102.6,369.3h0M110.1,372.4h0M88.4,375.3h0M100.6,378.6h0M98.5,373.5h0M104.4,386.0h0M89.3,382.3h0M89.6,372.7h0M103.0,384.2h0M93.8,385.0h0M110.3,378.6h0M102.5,378.9h0M89.0,372.1h0M95.2,386.0h0M100.9,384.6h0M101.4,386.3h0M100.8,374.3h0M86.1,378.3h0M108.0,376.5h0M92.4,377.6h0M106.5,377.8h0M88.9,380.1h0M103.6,374.7h0M90.4,374.1h0M101.9,370.5h0M85.5,379.5h0M100.3,385.5h0M94.1,376.6h0M90.6,379.8h0M104.6,378.7h0M87.2,375.9h0M111.1,379.1h0M104.0,383.6h0M108.7,375.4h0M88.3,378.3h0M101.4,371.8h0M98.1,368.3h0M111.6,383.0h0M100.4,385.7h0M105.8,371.3h0M110.1,378.1h0M105.2,377.3h0M105.8,372.9h0M103.6,370.8h0M93.0,382.8h0M99.2,384.2h0M104.2,379.8h0M100.0,371.3h0M104.7,377.8h0M111.3,381.3h0M93.1,382.6h0M106.5,372.5h0M106.5,384.4h0M96.4,368.9h0M99.4,378.2h0M94.9,380.8h0M92.6,371.8h0M99.8,370.2h0M99.6,385.5h0M94.5,385.9h0M111.4,380.6h0M103.3,377.1h0M107.0,380.1h0M102.3,368.9h0M91.2,382.1h0M105.9,377.5h0M103.3,381.1h0M94.8,383.7h0M88.8,374.9h0M96.1,374.8h0M101.7,376.7h0M93.1,378.0h0M90.0,377.0h0M87.3,380.6h0M96.8,382.5h0M96.6,379.2h0M90.5,370.4h0M104.8,374.7h0M97.2,374.0h0M104.0,375.4h0M98.2,377.7h0M97.8,369.9h0M90.6,371.1h0M110.7,372.8h0M89.4,380.7h0M107.3,381.1h0M104.3,376.7h0M111.6,374.9h0M106.6,384.7h0M99.9,373.1h0M106.1,377.3h0M109.3,379.2h0M97.0,370.7h0M101.3,385.2h0M93.6,384.5h0M101.6,374.5h0M100.2,383.8h0M94.3,383.9h0M105.7,377.8h0M111.0,375.2h0M100.2,368.4h0M95.8,374.6h0M108.3,374.8h0M105.9,371.1h0M143.2,380.9h0M140.7,372.3h0M145.6,379.6h0M132.3,381.3h0M133.2,381.4h0M147.3,376.0h0M144.2,382.0h0M136.3,382.9h0M144.1,379.3h0M142.4,379.8h0M132.0,379.5h0M134.8,373.4h0M136.7,380.3h0M139.2,380.0h0M142.5,372.7h0M144.0,380.2h0M133.3,379.1h0M134.3,382.3h0M145.6,375.5h0M143.2,379.7h0M137.8,378.9h0M142.9,376.8h0M136.3,379.9h0M133.3,384.3h0M135.8,379.9h0M146.8,379.3h0M132.6,379.4h0M140.4,375.9h0M147.0,381.2h0M143.8,383.9h0M136.3,378.4h0M143.8,383.8h0M136.6,378.8h0M134.0,384.5h0M138.7,386.0h0M144.2,374.5h0M133.6,377.7h0M135.4,382.8h0M146.7,374.1h0M141.0,380.2h0M134.3,374.7h0M144.4,380.2h0M145.4,379.2h0M142.9,377.3h0M133.3,376.4h0M141.8,379.5h0M139.2,378.8h0M139.4,375.7h0M134.9,375.2h0M146.2,383.4h0M141.2,373.8h0M143.3,376.0h0M146.1,375.5h0M145.8,375.0h0M147.6,379.5h0M137.4,379.3h0M135.9,383.5h0M142.2,379.1h0M131.3,378.5h0M139.0,374.5h0M144.8,385.8h0M138.1,378.4h0M143.3,373.9h0M142.6,374.5h0M140.6,372.5h0M140.9,382.3h0M136.2,382.6h0M135.2,379.0h0M139.0,374.0h0M143.7,384.1h0M137.5,387.4h0M135.9,379.0h0M147.1,383.6h0M143.7,379.2h0M141.5,382.5h0M131.8,379.8h0M137.0,378.6h0M146.4,376.6h0M138.2,383.9h0M139.6,373.2h0M143.2,374.8h0M132.7,383.5h0M144.7,383.8h0M133.0,382.1h0M78.3,355.2h0M80.3,361.1h0M79.2,359.6h0M79.4,360.9h0M77.1,365.5h0M77.6,362.4h0M80.1,363.0h0M74.7,357.2h0M76.1,362.9h0M77.4,368.2h0M80.6,357.4h0M75.3,357.3h0M79.6,354.2h0M74.4,357.5h0M73.0,362.5h0M79.9,356.9h0M79.4,366.5h0M79.8,353.5h0M77.4,352.7h0M78.9,352.4h0M80.3,364.2h0M72.8,360.7h0M80.2,356.0h0M73.6,357.4h0M80.0,359.9h0M79.2,359.4h0M75.4,354.1h0M74.3,363.6h0M74.5,363.3h0M79.5,363.0h0M80.1,357.2h0M80.2,362.1h0M76.3,351.6h0M75.5,358.4h0M136.2,311.8h0M118.4,297.4h0M127.2,285.8h0M135.1,292.8h0M126.4,310.9h0M133.3,308.2h0M132.4,301.5h0M135.8,305.5h0M128.6,306.4h0M118.2,307.6h0M130.1,283.0h0M131.0,309.1h0M143.2,292.5h0M121.0,293.6h0M130.8,314.3h0M139.0,284.7h0M131.3,281.6h0M126.4,283.3h0M131.4,313.9h0M131.9,292.6h0M132.3,289.4h0M126.7,300.4h0M143.6,294.1h0M138.6,306.8h0M121.1,302.0h0M120.0,292.4h0M133.9,309.7h0M138.4,302.7h0M116.5,298.1h0M120.5,300.1h0M134.5,296.0h0M123.6,285.8h0M142.2,299.3h0M136.3,296.7h0M124.9,309.7h0M123.3,294.5h0M131.0,301.0h0M130.1,306.7h0M136.2,300.0h0M144.8,294.0h0M116.5,302.0h0M134.9,313.0h0M132.2,297.3h0M124.4,300.2h0M125.4,309.2h0M129.7,297.5h0M130.9,295.8h0M127.8,298.2h0M130.5,285.8h0M120.8,297.0h0M122.1,309.3h0M124.8,310.7h0M129.6,288.0h0M137.3,300.8h0M139.1,296.4h0M121.2,289.8h0M132.8,297.7h0M124.4,303.7h0M129.4,284.3h0M140.9,303.6h0M132.9,314.2h0M143.7,303.3h0M137.3,301.4h0M137.7,296.6h0M123.3,288.8h0M136.8,309.3h0M128.0,291.5h0M123.7,305.4h0M134.5,309.2h0M136.5,290.3h0M127.3,290.2h0M131.4,290.7h0M135.5,305.4h0M114.8,299.7h0M132.1,280.4h0M133.5,297.8h0M133.6,312.3h0M124.8,311.4h0M136.6,293.7h0M115.6,298.8h0M125.0,301.0h0M134.8,312.7h0M129.3,310.3h0M127.5,304.5h0M129.8,306.1h0M127.7,301.2h0M132.9,296.4h0M125.2,303.7h0M122.6,299.5h0M138.2,302.6h0M129.8,306.8h0M140.4,288.1h0M139.0,296.0h0M125.7,287.4h0M142.7,290.7h0M126.3,313.7h0M121.0,286.2h0M135.2,311.6h0M118.5,291.4h0M127.3,305.6h0M128.0,303.4h0M119.7,285.4h0M133.3,279.8h0M133.0,293.9h0M144.4,294.8h0M127.3,296.6h0M144.8,296.2h0M128.4,308.4h0M137.3,308.8h0M131.5,293.8h0M125.2,307.1h0M130.0,282.4h0M129.4,299.4h0M124.2,308.2h0M127.1,311.6h0M125.5,292.8h0M115.9,299.3h0M142.6,300.3h0M136.2,306.9h0M135.8,287.7h0M124.1,297.8h0M134.0,314.6h0M137.4,293.1h0M136.9,290.2h0M137.2,296.1h0M141.2,297.8h0M142.2,293.7h0M136.3,310.0h0M124.8,292.7h0M138.3,299.5h0M137.3,311.5h0M121.8,288.2h0M128.2,302.8h0M125.8,301.1h0M124.5,288.8h0M137.1,306.8h0M139.4,299.2h0M132.8,312.4h0M134.4,293.8h0M132.3,279.9h0M132.8,310.3h0M124.4,289.0h0M123.1,298.7h0M123.1,292.8h0M135.7,285.5h0M137.4,285.0h0M135.4,285.8h0M118.3,291.6h0M136.9,302.3h0M133.7,298.3h0M123.1,293.1h0M124.8,295.6h0M125.7,308.7h0M123.3,300.3h0M128.9,286.0h0M121.2,288.6h0M138.3,294.1h0M129.1,314.1h0M120.4,310.7h0M115.2,304.5h0M136.5,306.9h0M133.7,281.4h0M130.3,293.2h0M138.8,284.6h0M127.5,309.0h0M140.4,291.2h0M128.0,308.1h0M121.6,297.7h0M128.7,285.1h0M136.2,305.5h0M116.8,292.5h0M118.2,286.0h0M128.3,280.3h0M119.6,294.8h0M120.0,305.8h0M117.2,302.5h0M137.4,311.6h0M128.2,297.7h0M121.3,284.8h0M125.1,314.1h0M117.5,294.3h0M127.4,314.8h0M138.3,302.2h0M126.4,314.5h0M142.5,292.5h0M135.6,307.3h0M117.6,300.0h0M137.2,295.8h0M133.5,310.3h0M135.9,302.1h0M134.6,310.2h0M135.3,284.0h0M123.8,314.0h0M129.5,314.6h0M137.7,299.8h0M137.8,299.5h0M134.1,283.7h0M126.9,308.5h0M129.5,298.9h0M133.2,282.7h0M118.5,304.3h0M137.2,284.8h0M139.6,295.6h0M135.1,283.6h0M125.5,286.0h0M129.0,283.1h0M134.1,303.6h0M131.6,302.5h0M140.0,302.5h0M129.1,298.3h0M128.3,290.4h0M137.6,287.2h0M124.3,297.9h0M132.5,282.1h0M131.9,301.5h0M126.0,305.4h0M120.5,296.2h0M134.5,296.2h0M117.2,302.1h0M136.9,295.6h0M135.9,298.7h0M122.2,304.1h0M142.8,290.9h0M137.6,293.4h0M139.4,294.6h0M130.7,285.5h0M115.7,299.9h0M138.8,299.2h0M120.0,310.8h0M126.9,303.2h0M126.8,314.7h0M124.8,298.4h0M141.2,303.5h0M126.1,293.8h0M136.4,311.2h0M139.4,294.5h0M127.7,301.4h0M123.4,310.9h0M126.8,294.4h0M125.5,298.5h0M137.9,298.1h0M131.4,288.7h0M125.9,286.3h0M130.8,299.8h0M141.8,291.5h0M141.3,300.7h0M123.3,304.0h0M119.1,291.0h0M129.5,308.5h0M124.5,305.0h0M122.5,304.5h0M127.4,281.9h0M136.3,297.4h0M120.4,306.9h0M139.2,299.0h0M127.9,299.3h0M119.1,301.2h0M129.2,291.0h0M133.9,282.8h0M121.0,290.5h0M132.1,302.7h0M128.3,310.9h0M117.0,292.2h0M127.3,302.9h0M134.5,284.5h0M122.2,299.4h0M127.3,291.8h0M129.2,292.6h0M134.8,286.1h0M143.1,292.8h0M125.8,299.2h0M139.4,299.9h0M139.6,302.4h0M137.0,300.3h0M138.6,303.4h0M127.1,313.5h0M129.0,298.1h0M138.8,301.4h0M115.3,295.0h0M125.9,301.2h0M139.9,296.7h0M124.1,296.6h0M134.5,302.7h0M123.5,284.0h0M123.4,305.6h0M115.9,300.2h0M133.3,294.5h0M125.0,297.7h0M135.0,309.6h0M127.4,307.8h0M135.3,299.1h0M135.4,285.5h0M137.5,283.8h0M141.0,286.0h0M134.7,305.6h0M127.9,296.3h0M142.1,291.6h0M118.5,301.6h0M120.7,304.9h0M132.2,282.2h0M134.1,309.4h0M116.1,304.3h0M130.7,295.9h0M138.4,311.8h0M118.8,297.5h0M138.9,288.8h0M123.4,310.4h0M122.5,294.6h0M115.4,294.9h0M135.2,289.4h0M126.5,307.1h0M130.8,311.7h0M128.0,287.6h0M127.9,311.8h0M130.6,303.7h0M126.6,309.3h0M131.8,305.0h0M126.7,291.6h0M130.5,296.9h0M119.6,305.8h0M130.5,314.0h0M125.2,294.8h0M137.3,297.6h0M133.9,294.3h0M132.5,300.3h0M138.1,288.6h0M133.8,307.8h0M130.3,289.3h0M137.5,286.5h0M134.0,293.4h0M126.3,301.6h0M134.1,288.1h0M144.9,299.1h0M120.7,305.7h0M135.5,306.7h0M128.4,313.0h0M120.1,288.7h0M122.7,306.1h0M127.0,305.9h0M140.5,294.3h0M126.3,299.7h0M141.7,308.2h0M118.1,303.0h0M135.8,287.4h0M119.3,308.5h0M137.4,295.6h0M118.4,305.3h0M126.3,290.3h0M128.0,285.2h0M120.7,285.2h0M135.4,309.9h0M117.8,289.0h0M127.3,310.1h0M114.9,298.8h0M123.0,303.4h0M141.6,295.5h0M123.4,283.0h0M122.7,287.5h0M125.5,301.4h0M131.7,290.4h0M126.5,285.0h0M132.8,310.9h0M143.2,300.4h0M126.9,285.8h0M137.3,311.7h0M125.3,280.9h0M139.0,288.4h0M120.2,310.2h0M130.7,308.9h0M131.6,303.3h0M130.5,292.8h0M141.2,289.4h0M123.3,312.9h0M120.3,304.4h0M117.8,301.8h0M121.7,294.7h0M132.7,313.4h0M125.7,313.7h0M138.2,313.2h0M128.1,287.1h0M122.8,311.2h0M122.6,313.5h0M135.5,290.4h0M122.2,286.6h0M121.2,311.2h0M115.7,299.7h0M114.9,296.2h0M122.3,309.7h0M124.9,299.8h0M119.1,288.2h0M130.7,300.9h0M133.8,313.8h0M124.8,302.3h0M135.0,293.2h0M121.4,283.4h0M122.8,291.0h0M143.7,298.5h0M130.6,308.9h0M125.4,286.8h0M128.0,301.0h0M127.4,302.6h0M134.8,284.1h0M137.3,293.3h0M122.9,313.3h0M128.1,302.7h0M124.3,283.0h0M123.0,301.9h0M122.3,311.3h0M121.9,302.2h0M122.6,294.1h0M134.8,296.1h0M127.8,312.9h0M134.0,297.2h0M125.0,297.4h0M131.7,291.3h0M127.6,296.0h0M131.6,282.8h0M124.7,279.6h0M130.9,280.6h0M128.8,285.2h0M124.5,277.6h0M127.0,278.8h0M133.5,280.5h0M135.4,284.0h0M128.5,281.9h0M130.1,279.8h0M136.4,283.0h0M131.1,278.4h0M128.6,279.6h0M130.3,280.2h0M123.4,284.3h0M126.8,282.4h0M129.2,283.0h0M125.3,280.2h0M126.0,279.7h0M128.7,283.6h0M129.2,278.9h0M126.6,283.7h0M135.6,284.1h0M124.6,280.8h0M124.5,281.6h0M124.5,283.6h0M129.8,282.3h0M131.7,284.8h0M128.1,284.2h0M130.1,277.5h0M127.2,279.0h0M126.1,285.0h0M129.2,283.2h0M125.8,279.0h0M128.7,280.1h0M128.0,280.0h0M128.4,281.1h0M135.0,278.8h0M131.4,283.6h0M129.6,286.2h0M134.7,283.7h0M123.9,278.5h0M133.2,279.2h0M133.1,283.1h0M124.1,278.7h0M121.0,281.3h0M128.0,280.8h0M128.3,281.2h0M128.9,283.5h0M126.5,316.3h0M137.6,313.9h0M127.8,315.5h0M130.2,314.6h0M129.8,316.8h0M133.4,311.1h0M126.7,314.2h0M131.3,317.0h0M133.5,316.9h0M130.3,311.2h0M128.6,315.3h0M138.2,314.9h0M140.7,313.1h0M126.3,317.2h0M137.7,315.3h0M137.6,311.5h0M132.2,313.4h0M129.2,311.3h0M133.7,317.3h0M139.1,312.3h0M124.3,312.8h0M131.1,318.5h0M125.3,314.7h0M135.2,317.8h0M138.0,315.0h0M140.4,313.1h0M138.9,318.1h0M130.6,316.0h0M139.2,311.8h0M124.6,312.3h0M128.6,315.4h0M127.2,315.8h0M127.9,315.7h0M128.8,314.9h0M140.6,314.1h0M129.2,314.7h0M136.7,312.7h0M136.4,315.2h0M132.3,316.5h0M131.4,315.3h0M119.4,297.3h0M120.2,288.1h0M115.1,295.4h0M123.4,295.3h0M120.2,300.5h0M115.3,296.4h0M117.3,289.7h0M118.3,291.6h0M121.3,289.2h0M116.6,298.9h0M121.6,293.4h0M120.4,290.1h0M116.4,289.7h0M113.4,290.0h0M119.6,302.2h0M124.1,297.8h0M119.5,294.9h0M122.3,294.9h0M121.8,295.4h0M118.7,299.8h0M122.4,296.5h0M121.7,293.1h0M116.0,298.4h0M119.1,289.2h0M115.5,289.2h0M119.0,288.9h0M118.0,294.4h0M118.0,287.0h0M119.8,287.6h0M140.8,285.0h0M141.6,292.1h0M138.9,291.8h0M142.2,284.4h0M140.4,289.6h0M136.9,287.5h0M140.8,290.3h0M143.5,285.2h0M141.5,292.0h0M137.9,290.6h0M137.9,286.6h0M142.5,282.9h0M143.8,288.7h0M143.1,289.9h0M142.4,292.6h0M140.0,291.9h0M137.7,284.7h0M144.6,287.9h0M135.8,287.6h0M145.0,286.6h0M143.4,290.7h0M143.1,289.5h0M143.4,291.7h0M137.1,286.5h0M137.3,291.2h0M146.0,298.2h0M153.2,301.7h0M144.2,296.0h0M139.6,293.3h0M142.7,301.4h0M151.2,291.5h0M153.7,291.2h0M159.7,297.9h0M147.5,289.8h0M146.0,287.7h0M142.1,302.2h0M144.6,300.7h0M152.3,288.0h0M150.4,290.3h0M145.7,296.6h0M156.6,292.5h0M156.4,302.2h0M153.3,287.0h0M151.9,298.5h0M151.3,288.5h0M145.8,302.6h0M145.8,299.2h0M144.5,293.4h0M141.9,290.7h0M153.3,299.6h0M148.8,287.2h0M144.4,302.0h0M153.0,290.2h0M152.2,300.9h0M153.4,300.5h0M150.1,289.8h0M140.8,294.6h0M157.3,290.9h0M142.8,297.8h0M143.5,290.4h0M156.2,302.6h0M146.5,292.3h0M146.4,289.9h0M143.4,297.0h0M149.9,291.9h0M155.0,288.9h0M151.8,292.6h0M149.5,294.3h0M150.9,295.8h0M141.5,290.1h0M159.8,296.3h0M150.3,290.4h0M148.7,299.0h0M149.3,293.9h0M142.8,295.9h0M154.9,292.7h0M141.2,300.3h0M150.6,289.8h0M155.3,297.3h0M146.8,298.6h0M158.6,291.9h0M146.5,288.3h0M149.6,287.4h0M155.2,290.7h0M149.3,291.5h0M148.4,293.7h0M154.0,297.7h0M150.3,289.8h0M147.3,292.5h0M147.9,302.1h0M144.3,291.4h0M152.7,293.9h0M157.2,294.2h0M143.6,302.6h0M150.8,299.6h0M159.1,294.2h0M148.4,294.2h0M142.0,290.3h0M147.4,295.3h0M148.3,287.7h0M153.1,303.8h0M150.9,302.6h0M154.7,296.7h0M150.2,296.1h0M145.0,295.2h0M147.8,287.9h0M147.1,295.0h0M158.8,296.6h0M159.0,299.6h0M141.6,301.0h0M142.5,298.3h0M160.2,296.9h0M154.1,304.3h0M141.8,291.0h0M143.8,299.4h0M147.9,289.8h0M140.3,295.0h0M144.8,294.3h0M141.6,290.6h0M151.0,290.2h0M149.5,299.8h0M153.5,293.6h0M149.0,302.1h0M143.6,303.9h0M157.5,295.9h0M154.0,290.8h0M159.6,295.8h0M144.3,291.7h0M157.8,293.2h0M145.1,290.8h0M152.1,303.5h0M158.7,296.2h0M147.9,298.9h0M151.1,300.6h0M145.4,298.9h0M143.8,296.3h0M151.2,301.2h0M150.8,298.2h0M146.3,290.4h0M154.0,297.3h0M153.4,302.5h0M144.4,288.9h0M153.8,303.5h0M146.6,289.9h0M149.2,290.9h0M152.0,298.2h0M152.6,304.3h0M142.1,293.7h0M145.4,299.0h0M147.8,298.8h0M153.5,290.8h0M158.5,293.2h0M146.3,302.0h0M140.1,293.9h0M147.7,302.5h0M144.6,287.8h0M140.9,294.5h0M140.0,298.8h0M139.8,299.4h0M143.0,299.4h0M149.1,296.7h0M145.9,287.8h0M145.2,304.0h0M151.0,288.9h0M145.4,289.4h0M141.8,290.2h0M150.1,305.2h0M141.8,288.9h0M148.4,295.9h0M160.0,293.9h0M152.3,303.9h0M140.5,293.7h0M158.3,294.3h0M147.3,291.5h0M153.9,300.9h0M147.6,292.0h0M150.6,294.0h0M143.8,294.9h0M157.4,292.0h0M148.4,286.9h0M149.3,295.6h0M146.2,293.5h0M143.3,296.4h0M150.1,297.9h0M156.8,300.0h0M155.1,295.6h0M157.2,293.0h0M142.4,295.8h0M148.5,288.5h0M150.6,299.5h0M145.7,304.4h0M157.5,290.9h0M150.0,297.9h0M158.4,292.1h0M153.0,289.1h0M147.7,305.2h0M148.8,288.7h0M153.3,297.6h0M151.0,298.4h0M145.9,287.8h0M147.3,301.1h0M149.7,299.8h0M140.6,294.0h0M143.8,292.5h0M158.2,293.1h0M143.9,300.7h0M147.6,302.1h0M154.1,289.7h0M147.4,300.6h0M148.6,288.2h0M151.2,292.2h0M149.9,304.0h0M148.5,294.1h0M160.3,298.1h0M165.2,301.4h0M160.9,299.9h0M161.4,298.8h0M160.1,302.8h0M157.7,304.8h0M156.9,303.2h0M164.5,305.4h0M162.4,302.0h0M159.8,299.7h0M162.8,305.4h0M162.8,295.8h0M160.8,298.0h0M157.3,302.8h0M162.2,303.4h0M161.3,304.3h0M161.2,297.8h0M165.1,300.0h0M161.4,296.5h0M159.7,302.7h0M159.3,305.3h0M166.4,300.6h0M164.4,299.4h0M160.2,298.8h0M160.9,302.5h0M155.0,298.6h0M160.7,296.5h0M163.2,295.7h0M156.5,299.1h0M158.8,305.6h0M159.6,295.6h0M160.3,296.8h0M160.3,303.5h0M164.4,297.3h0M164.1,298.7h0M156.8,297.4h0M157.7,300.7h0M165.7,302.3h0M159.2,295.9h0M154.8,301.0h0M155.4,302.7h0M157.1,302.3h0M154.8,302.8h0M161.6,306.7h0M159.5,305.1h0M158.6,301.5h0M160.9,300.7h0M159.2,301.1h0M161.9,307.3h0M160.2,302.8h0M170.0,290.9h0M171.1,286.8h0M173.4,289.4h0M169.7,296.9h0M170.5,287.2h0M169.1,286.5h0M166.5,283.7h0M168.2,283.3h0M169.1,296.8h0M162.3,291.6h0M164.6,296.0h0M171.4,295.6h0M166.1,285.6h0M167.1,294.2h0M168.9,283.8h0M164.3,285.2h0M167.2,287.5h0M167.0,285.3h0M175.3,287.2h0M164.7,286.9h0M168.9,293.2h0M170.7,292.0h0M170.9,282.3h0M165.1,283.9h0M163.9,287.7h0M170.5,285.7h0M171.7,289.1h0M168.0,290.3h0M172.1,294.9h0M165.2,288.4h0M165.7,282.7h0M169.4,292.8h0M168.4,295.4h0M172.5,290.3h0M170.6,295.9h0M169.5,289.4h0M166.5,294.8h0M169.5,289.5h0M164.5,292.1h0M164.6,292.0h0M168.7,288.7h0M163.7,292.3h0M168.2,290.3h0M171.4,283.6h0M172.6,284.6h0M163.9,292.7h0M169.3,296.0h0M169.1,295.1h0M171.9,286.4h0M174.0,284.0h0M170.0,289.1h0M169.9,295.9h0M172.2,290.0h0M170.5,296.1h0M172.4,283.6h0M163.6,284.2h0M171.9,287.2h0M165.2,289.4h0M173.2,293.7h0M166.1,290.0h0M173.7,293.8h0M165.6,292.3h0M175.0,288.9h0M166.3,287.1h0M172.6,290.8h0M174.5,290.9h0M167.9,284.3h0M172.0,291.7h0M166.1,285.0h0M165.2,292.6h0M171.5,290.2h0M167.5,284.7h0M170.3,283.0h0M169.2,293.6h0M159.7,307.3h0M150.2,306.7h0M145.4,308.2h0M157.0,307.5h0M152.7,307.7h0M149.4,308.9h0M146.6,307.0h0M157.5,309.3h0M148.6,310.5h0M153.5,303.8h0M157.8,309.5h0M158.3,307.1h0M145.2,309.0h0M159.4,305.7h0M154.4,308.1h0M151.1,308.5h0M154.2,304.5h0M145.1,308.5h0M156.3,311.0h0M156.7,310.2h0M144.2,306.8h0M154.5,304.2h0M147.1,305.0h0M152.8,303.5h0M153.9,306.1h0M154.0,307.0h0M147.3,306.0h0M151.6,304.5h0M153.5,309.7h0M148.7,308.1h0M146.5,305.8h0M153.9,305.1h0M152.9,307.9h0M146.3,304.7h0M140.6,292.6h0M138.5,289.4h0M139.9,289.6h0M140.5,288.1h0M144.4,289.2h0M143.0,288.3h0M138.8,287.1h0M142.6,288.6h0M140.4,292.7h0M141.9,293.0h0M144.2,292.8h0M140.2,287.7h0M145.0,289.0h0M141.6,284.9h0M188.7,278.0h0M170.3,268.6h0M175.7,273.6h0M176.3,270.7h0M188.0,272.8h0M179.3,266.3h0M181.0,277.2h0M182.2,267.1h0M173.5,265.7h0M187.9,272.2h0M185.0,271.7h0M176.1,275.0h0M179.5,263.5h0M181.8,276.4h0M176.4,264.3h0M178.5,277.2h0M173.6,269.5h0M183.9,273.4h0M173.2,267.4h0M179.4,267.7h0M184.9,271.5h0M186.6,272.1h0M187.7,278.5h0M176.3,266.9h0M184.3,268.1h0M180.1,277.5h0M173.0,274.1h0M187.1,278.9h0M185.4,274.3h0M182.8,273.5h0M177.3,269.2h0M170.4,269.3h0M171.0,264.4h0M175.7,270.5h0M171.0,265.1h0M172.3,275.1h0M189.7,276.4h0M177.0,277.0h0M175.6,264.3h0M177.9,278.1h0M168.2,268.1h0M178.5,263.2h0M184.7,281.7h0M172.9,268.5h0M173.6,275.8h0M172.1,272.0h0M172.4,267.0h0M184.6,270.7h0M170.4,271.6h0M183.1,270.7h0M175.0,263.3h0M170.4,267.7h0M173.4,271.8h0M176.5,267.6h0M171.5,267.0h0M180.0,277.9h0M174.0,269.7h0M174.1,274.0h0M181.5,267.1h0M186.2,275.4h0M180.2,278.2h0M185.3,279.9h0M179.9,267.0h0M172.1,274.2h0M178.8,265.9h0M174.0,269.4h0M185.3,276.4h0M170.5,269.0h0M173.4,278.0h0M182.0,265.4h0M173.1,276.8h0M184.6,277.4h0M182.5,272.9h0M185.7,271.2h0M187.9,277.2h0M183.3,268.0h0M181.4,272.7h0M176.0,263.6h0M170.5,266.1h0M181.4,266.7h0M170.9,276.8h0M169.9,270.6h0M183.9,281.9h0M175.7,267.0h0M176.5,278.3h0M175.0,277.2h0M175.8,276.6h0M189.6,280.9h0M191.5,285.6h0M193.1,285.0h0M187.3,285.0h0M185.1,281.0h0M186.5,281.5h0M187.6,279.5h0M190.1,283.5h0M190.0,281.5h0M191.6,280.3h0M188.3,280.4h0M194.5,280.8h0M186.6,285.0h0M185.7,282.4h0M187.3,283.3h0M184.7,282.0h0M187.3,284.4h0M188.7,281.8h0M194.1,280.6h0M186.3,279.7h0M189.8,285.8h0M187.0,283.0h0M186.5,286.8h0M184.2,280.2h0M194.4,286.2h0M195.5,285.1h0M177.7,282.5h0M177.6,280.4h0M179.9,284.9h0M194.7,293.6h0M191.9,298.6h0M192.0,292.1h0M190.9,288.1h0M185.6,298.8h0M194.0,296.4h0M197.8,292.3h0M192.7,290.2h0M188.5,290.4h0M195.8,292.9h0M191.5,292.0h0M187.9,294.6h0M191.3,290.2h0M196.5,295.0h0M189.8,296.9h0M183.5,299.1h0M186.6,295.0h0M187.1,294.7h0M182.9,292.2h0M184.4,290.0h0M194.5,295.1h0M181.6,293.3h0M183.7,292.1h0M182.1,295.4h0M186.4,291.6h0M202.1,290.6h0M205.6,293.1h0M197.3,288.8h0M205.5,290.0h0M199.5,296.9h0M202.8,296.1h0M203.7,295.8h0M197.4,292.9h0M204.1,294.9h0M203.3,296.7h0M200.9,296.6h0M203.6,290.6h0M199.2,287.7h0M206.4,291.5h0M212.3,288.5h0M213.5,285.0h0M206.3,282.0h0M211.9,291.2h0M213.6,282.8h0M210.5,280.9h0M209.5,288.4h0M210.2,283.4h0M208.9,282.1h0M207.2,292.2h0M210.7,282.1h0M212.1,294.0h0M214.5,288.5h0M207.6,285.4h0M208.3,280.9h0M213.1,282.4h0M203.8,286.8h0M208.8,289.4h0M205.2,283.4h0M204.0,289.1h0M213.4,284.1h0M211.6,289.2h0M208.9,281.1h0M203.9,285.2h0M213.3,290.6h0M209.8,286.3h0M213.6,287.6h0M212.7,287.1h0M206.1,286.4h0M210.5,282.7h0M212.2,291.1h0M208.7,285.1h0M208.8,286.0h0M205.5,290.3h0M210.9,291.7h0M206.5,287.7h0M215.2,285.2h0M204.7,284.0h0M209.6,285.9h0M212.2,281.2h0M207.7,281.7h0M207.6,290.2h0M213.6,284.8h0M212.4,287.8h0M206.7,283.7h0M195.3,302.3h0M205.0,301.4h0M197.4,303.1h0M207.2,300.7h0M206.2,302.7h0M200.5,302.7h0M203.8,302.5h0M179.6,294.4h0M179.1,293.6h0M198.0,292.2h0M198.5,287.1h0M200.5,293.8h0M200.7,287.7h0M201.0,292.1h0M199.7,290.9h0M198.4,288.3h0M201.1,289.1h0M218.3,306.7h0M219.2,306.9h0M220.1,302.7h0M217.8,307.5h0M219.1,300.8h0M226.9,314.9h0M228.1,312.4h0M227.4,314.9h0M225.0,305.9h0M226.5,305.9h0M227.5,304.8h0M219.5,301.1h0M217.0,306.0h0M224.4,314.0h0M226.6,304.8h0M224.9,308.5h0M221.2,313.7h0M225.3,304.5h0M223.3,308.4h0M225.2,305.9h0M220.5,305.9h0M215.8,311.2h0M220.8,300.4h0M222.3,309.9h0M228.9,308.4h0M221.2,308.1h0M222.1,312.8h0M215.5,304.6h0M220.8,305.4h0M192.4,322.9h0M183.6,317.0h0M186.9,318.6h0M193.9,326.0h0M207.1,319.1h0M202.1,315.0h0M177.3,303.1h0M232.2,324.3h0M212.8,326.0h0M212.4,325.7h0M228.7,324.9h0M212.0,334.2h0M213.4,329.4h0M217.5,321.0h0M216.4,320.4h0M230.9,326.1h0M233.1,332.5h0M234.2,333.2h0M218.7,330.9h0M211.8,322.0h0M212.6,322.8h0M213.6,327.9h0M228.1,324.7h0M217.7,328.4h0M223.5,324.8h0M212.1,329.5h0M217.3,337.4h0M227.2,319.1h0M217.4,326.4h0M222.3,329.9h0M220.5,319.7h0M229.5,326.1h0M218.3,338.3h0M219.0,332.6h0M232.7,325.4h0M213.9,334.1h0M220.4,330.6h0M217.4,326.7h0M223.1,331.8h0M231.3,323.1h0M232.1,320.1h0M235.8,321.5h0M230.3,323.2h0M210.5,331.8h0M209.5,335.1h0M185.5,339.0h0M202.1,336.2h0M188.4,339.5h0M190.7,338.6h0M180.3,336.8h0M191.0,342.0h0M183.0,336.4h0M195.3,338.3h0M200.7,335.2h0M196.0,337.9h0M187.1,339.4h0M203.5,336.6h0M180.5,336.2h0M187.9,333.9h0M186.6,335.4h0M190.4,338.2h0M192.3,331.5h0M200.1,337.3h0M201.3,340.2h0M184.6,340.7h0M193.2,338.2h0M186.8,336.3h0M196.6,334.7h0M191.2,336.8h0M198.4,338.0h0M179.1,337.7h0M183.3,333.3h0M188.7,338.2h0M193.8,339.5h0M182.2,334.4h0M192.5,339.7h0M196.2,341.6h0M188.8,332.8h0M191.4,335.2h0M202.1,334.5h0M190.1,333.9h0M191.0,340.5h0M187.6,332.6h0M191.9,334.0h0M187.9,337.7h0M188.2,334.6h0M184.9,340.1h0M202.4,337.0h0M201.7,337.5h0M197.8,339.9h0M180.0,335.9h0M187.6,336.3h0M185.6,340.2h0M200.6,337.5h0M185.4,334.3h0M185.9,335.5h0M189.3,331.4h0M199.8,340.3h0M198.6,339.4h0M182.2,335.5h0M200.2,339.1h0M195.0,332.3h0M189.7,341.8h0M185.2,338.6h0M181.8,340.0h0M184.4,340.6h0M182.2,336.3h0M182.6,336.7h0M183.8,332.5h0M199.7,341.2h0M194.1,339.3h0M190.0,335.6h0M181.9,340.2h0M199.6,333.5h0M183.8,333.2h0M183.9,338.0h0M186.8,332.7h0M198.2,341.6h0M198.9,337.9h0M190.6,339.4h0M180.3,337.8h0M197.2,334.9h0M185.1,338.6h0M199.5,336.5h0M187.8,338.9h0M189.7,342.1h0M192.8,334.0h0M197.9,339.1h0M190.8,335.7h0M193.5,341.8h0M184.0,341.9h0M189.5,331.7h0M188.4,336.9h0M189.8,343.2h0M188.1,345.3h0M188.2,342.9h0M187.3,343.5h0M187.5,348.2h0M186.9,349.1h0M193.4,341.6h0M193.6,350.9h0M191.7,343.7h0M186.6,347.3h0M184.5,348.5h0M197.2,346.0h0M191.5,349.5h0M184.5,348.4h0M186.2,348.7h0M195.4,343.8h0M190.7,340.1h0M189.3,341.0h0M183.2,345.4h0M187.2,349.4h0M186.8,341.0h0M184.2,347.9h0M197.3,343.4h0M193.5,344.1h0M190.7,348.8h0M190.7,350.6h0M195.7,341.0h0M192.6,346.8h0M192.4,340.2h0M189.7,348.5h0M191.2,340.9h0M198.2,344.6h0M192.2,346.1h0M197.1,346.3h0M190.2,351.0h0M192.4,351.5h0M186.0,350.4h0M187.0,341.7h0M186.5,350.1h0M189.2,345.0h0M188.5,339.8h0M194.3,343.2h0M195.7,345.3h0M192.9,348.3h0M190.5,351.0h0M197.4,348.9h0M197.6,342.0h0M194.7,349.1h0M188.9,351.8h0M184.3,346.0h0M196.6,346.5h0M196.8,342.5h0M192.8,343.4h0M192.8,345.4h0M187.5,343.7h0M188.0,342.9h0M191.1,343.1h0M188.6,350.8h0M185.9,344.2h0M196.5,346.0h0M194.2,350.2h0M181.4,346.5h0M192.0,348.6h0M185.5,349.9h0M190.1,342.5h0M195.4,344.3h0M187.7,348.0h0M196.8,343.2h0M185.4,348.7h0M197.9,341.9h0M186.9,345.7h0M194.5,338.4h0M187.5,350.5h0M199.5,348.1h0M184.9,345.3h0M196.8,347.9h0M188.2,343.8h0M193.1,349.0h0M196.2,340.5h0M195.3,339.2h0M194.2,339.9h0M185.4,344.6h0M199.9,342.5h0M193.5,347.0h0M196.0,347.1h0M195.9,341.2h0M191.8,358.8h0M188.0,351.5h0M193.7,354.1h0M188.4,356.8h0M192.8,356.3h0M184.5,352.8h0M189.4,353.6h0M188.0,351.4h0M186.6,356.9h0M192.2,356.3h0M193.1,355.6h0M186.4,354.7h0M191.0,355.6h0M188.7,355.5h0M193.0,358.6h0M185.2,355.3h0M186.3,355.9h0M187.6,352.5h0M185.4,357.1h0M185.4,357.7h0M188.5,357.9h0M191.6,353.9h0M189.6,351.7h0M187.6,354.5h0M190.1,350.6h0M189.9,353.0h0M186.6,351.6h0M184.1,353.5h0M186.9,355.9h0M192.8,354.0h0M189.8,356.1h0M189.3,356.9h0M189.8,357.9h0M192.7,352.6h0M192.8,354.1h0M188.6,350.2h0M186.0,356.2h0M193.0,351.6h0M191.1,358.6h0M194.5,330.1h0M194.5,323.8h0M196.3,326.5h0M194.7,324.1h0M195.1,324.7h0M193.3,323.3h0M195.7,324.1h0M190.6,328.6h0M195.2,325.3h0M192.5,329.1h0M193.3,329.3h0M194.5,330.9h0M195.8,325.8h0M191.3,327.4h0M189.9,384.1h0M191.9,368.8h0M195.3,377.8h0M185.1,383.8h0M182.2,380.4h0M197.4,381.0h0M179.3,370.7h0M186.1,376.8h0M181.2,366.7h0M179.6,380.0h0M172.8,374.7h0M174.8,383.4h0M177.6,380.9h0M186.1,384.5h0M191.6,384.9h0M193.2,368.0h0M184.4,368.3h0M200.6,378.6h0M171.7,371.7h0M171.2,369.2h0M183.5,376.4h0M190.6,377.0h0M191.2,367.7h0M183.8,368.3h0M190.9,378.0h0M171.0,370.6h0M193.4,369.0h0M169.1,378.6h0M194.4,367.4h0M179.8,367.2h0M200.7,375.6h0M173.0,375.2h0M176.8,380.7h0M177.4,366.3h0M188.2,384.8h0M200.0,374.3h0M198.2,375.9h0M175.3,376.0h0M174.4,383.1h0M171.6,372.2h0M197.6,373.2h0M189.2,377.2h0M175.2,371.8h0M179.9,376.3h0M178.8,377.4h0M188.4,369.0h0M191.6,384.6h0M187.8,371.3h0M180.5,370.1h0M179.2,377.3h0M177.0,384.8h0M191.7,378.1h0M183.4,374.6h0M178.9,381.5h0M179.8,385.8h0M195.6,372.4h0M200.3,377.4h0M182.9,378.8h0M186.7,385.5h0M178.0,385.5h0M177.8,378.7h0M184.0,380.4h0M182.9,369.5h0M195.8,369.7h0M185.9,376.4h0M199.7,372.2h0M170.2,380.9h0M192.8,384.2h0M173.0,372.6h0M188.2,365.0h0M200.1,380.1h0M188.2,380.3h0M179.6,375.5h0M176.2,372.4h0M182.4,385.2h0M173.9,367.4h0M181.2,386.3h0M196.8,369.1h0M181.5,368.6h0M180.6,384.4h0M186.4,383.1h0M185.3,384.9h0M193.4,375.7h0M187.2,369.9h0M169.3,376.8h0M181.9,387.3h0M176.2,375.9h0M192.9,383.9h0M177.2,384.6h0M183.7,381.3h0M170.0,380.0h0M173.2,375.4h0M175.7,368.3h0M190.9,381.0h0M170.8,371.8h0M186.6,376.7h0M181.3,383.2h0M178.0,369.2h0M183.4,373.7h0M177.0,378.1h0M189.3,387.0h0M179.5,369.5h0M181.1,371.1h0M197.9,377.1h0M199.1,372.3h0M193.3,383.4h0M181.9,370.2h0M178.9,368.0h0M187.6,368.4h0M185.3,375.4h0M180.6,368.5h0M172.9,371.5h0M170.2,374.1h0M178.8,380.0h0M191.3,373.1h0M189.9,382.2h0M181.3,366.9h0M176.7,381.7h0M196.9,381.2h0M192.3,379.3h0M184.3,384.0h0M181.2,383.3h0M182.7,374.6h0M183.8,378.8h0M188.2,378.2h0M177.6,378.0h0M178.6,375.0h0M183.1,378.9h0M177.5,371.3h0M199.6,381.1h0M188.4,368.2h0M185.8,370.7h0M197.2,376.6h0M184.5,377.7h0M178.2,380.0h0M171.3,370.3h0M172.6,378.0h0M195.9,378.5h0M193.0,369.3h0M190.7,382.5h0M169.3,379.2h0M192.5,374.2h0M191.5,380.4h0M189.3,382.1h0M179.9,368.5h0M186.9,368.3h0M172.2,380.7h0M190.1,366.2h0M174.6,372.8h0M182.6,382.7h0M189.4,383.9h0M196.6,372.8h0M194.9,372.6h0M178.6,374.0h0M191.8,368.4h0M197.0,381.0h0M187.5,368.2h0M170.5,377.5h0M170.4,374.9h0M182.4,372.7h0M181.9,387.7h0M194.1,375.0h0M192.3,382.2h0M169.7,378.7h0M185.5,382.9h0M176.0,370.3h0M183.0,387.0h0M181.2,367.7h0M182.5,368.7h0M193.9,374.3h0M197.7,381.4h0M177.5,377.8h0M191.7,376.2h0M189.6,380.1h0M182.8,366.4h0M170.0,373.6h0M187.7,369.8h0M197.6,374.2h0M176.2,381.9h0M177.9,384.7h0M192.0,368.2h0M173.9,379.6h0M172.5,371.4h0M179.1,384.2h0M173.8,379.1h0M195.5,381.3h0M175.6,368.3h0M184.4,367.9h0M201.4,375.2h0M189.2,380.7h0M186.9,385.5h0M197.1,377.8h0M190.0,379.7h0M176.8,376.3h0M196.9,376.4h0M193.0,368.7h0M185.0,386.4h0M183.3,382.5h0M186.5,376.0h0M190.0,371.2h0M190.1,383.2h0M171.0,382.2h0M183.1,383.1h0M179.9,368.4h0M194.0,380.1h0M185.8,371.1h0M196.7,372.8h0M186.7,371.4h0M177.5,373.0h0M198.5,377.5h0M170.1,378.5h0M200.5,376.5h0M181.7,383.6h0M176.8,377.2h0M179.2,376.6h0M186.4,373.6h0M171.2,380.7h0M179.2,380.8h0M190.3,384.3h0M175.3,371.9h0M180.2,370.8h0M180.8,374.4h0M190.8,367.2h0M193.4,369.8h0M174.1,372.8h0M186.4,383.8h0M178.8,379.1h0M179.9,381.1h0M180.6,373.0h0M190.0,383.3h0M193.8,382.3h0M181.0,384.4h0M168.6,373.3h0M183.6,381.8h0M189.7,378.9h0M179.3,385.9h0M182.4,367.7h0M196.5,370.1h0M186.3,365.8h0M181.6,374.3h0M193.0,371.4h0M195.5,370.7h0M188.7,377.9h0M197.8,376.8h0M192.1,383.2h0M180.9,385.7h0M182.9,366.7h0M170.6,375.2h0M181.1,382.6h0M182.2,386.3h0M197.5,375.6h0M174.8,373.0h0M187.8,373.7h0M199.0,371.0h0M184.1,382.2h0M195.2,378.4h0M186.8,373.4h0M177.0,369.5h0M197.6,369.2h0M197.1,379.4h0M172.8,378.2h0M176.0,373.1h0M178.5,377.3h0M185.7,379.7h0M183.8,371.2h0M190.8,367.8h0M181.5,383.6h0M194.1,380.4h0M192.1,379.9h0M186.8,388.0h0M174.3,376.6h0M179.0,382.6h0M188.1,386.9h0M191.5,367.2h0M188.5,385.6h0M181.0,364.9h0M181.8,363.5h0M183.0,361.4h0M188.4,364.1h0M194.2,363.1h0M188.5,364.8h0M194.1,364.0h0M186.6,362.7h0M187.2,367.9h0M192.0,363.6h0M190.8,363.9h0M191.5,362.9h0M188.2,362.3h0M184.3,365.3h0M183.1,365.2h0M187.3,361.4h0M182.7,367.1h0M191.5,363.0h0M188.0,366.4h0M192.9,364.7h0M185.6,363.4h0M187.0,362.9h0M186.3,369.2h0M188.0,367.6h0M183.1,366.2h0M191.8,361.9h0M189.5,366.3h0M190.1,364.9h0M167.1,355.7h0M172.6,365.4h0M176.3,369.0h0M178.4,365.6h0M169.3,354.0h0M176.4,369.1h0M170.3,367.9h0M166.3,355.7h0M168.1,366.3h0M176.1,347.3h0M173.6,369.5h0M166.3,356.5h0M172.7,346.2h0M175.6,368.0h0M175.8,345.8h0M175.4,367.8h0M184.0,361.0h0M176.5,365.4h0M175.1,347.0h0M167.4,361.5h0M182.6,358.7h0M168.3,352.2h0M176.2,348.8h0M178.3,347.0h0M181.8,356.8h0M178.3,349.7h0M173.1,348.4h0M177.0,346.6h0M174.7,368.5h0M169.1,362.6h0M181.5,355.3h0M178.2,347.5h0M165.5,355.9h0M179.9,347.2h0M169.4,349.3h0M179.9,349.4h0M177.8,365.3h0M183.2,359.2h0M173.3,347.9h0M172.1,348.2h0M181.5,359.3h0M171.5,349.2h0M173.1,367.2h0M176.5,347.2h0M181.8,355.3h0M171.2,348.3h0M179.1,367.8h0M166.0,360.0h0M176.3,368.8h0M166.6,357.9h0M168.1,361.3h0M169.8,359.1h0M167.6,354.4h0M170.4,346.6h0M174.2,369.0h0M181.6,357.9h0M175.9,368.5h0M176.9,346.7h0M172.9,349.5h0M169.5,354.6h0M172.7,348.7h0M167.2,357.4h0M173.6,368.6h0M172.5,367.3h0M183.2,351.3h0M171.5,364.7h0M174.5,370.0h0M179.7,361.1h0M175.2,345.1h0M181.5,355.1h0M174.2,368.0h0M168.2,362.4h0M166.1,359.7h0M178.3,364.8h0M181.7,354.1h0M183.0,363.0h0M171.2,369.9h0M169.2,348.3h0M177.3,350.0h0M176.8,366.1h0M180.7,352.1h0M175.7,350.0h0M180.0,367.4h0M181.3,358.4h0M169.7,362.4h0M169.4,353.2h0M172.5,350.2h0M167.7,356.8h0M168.5,351.0h0M175.0,365.9h0M178.6,368.7h0M166.9,359.4h0M178.6,364.4h0M168.4,362.4h0M169.4,347.5h0M179.0,353.6h0M171.1,342.7h0M171.0,343.2h0M167.0,345.7h0M170.2,346.5h0M169.2,346.2h0M168.1,345.7h0M167.2,345.4h0M168.8,347.8h0M166.4,312.5h0M162.0,316.5h0M167.8,313.7h0M163.5,315.4h0M161.6,313.6h0M166.4,313.0h0M163.6,314.8h0M163.6,316.8h0M170.1,312.8h0M168.2,316.5h0M159.5,312.5h0M162.6,315.9h0M168.0,312.6h0M163.4,310.2h0M160.2,315.5h0M164.0,317.3h0M166.3,312.4h0M165.7,312.6h0M165.2,315.0h0M166.2,311.0h0M171.4,314.2h0M165.9,313.2h0M162.2,310.8h0M162.8,316.1h0M164.9,313.7h0M161.9,312.4h0M160.6,315.7h0M164.7,318.1h0M168.2,315.3h0M170.0,312.3h0M166.9,312.8h0M163.0,313.5h0M164.6,312.8h0M162.4,313.7h0M169.5,314.3h0M170.2,316.4h0M163.8,315.9h0M156.0,320.0h0M153.5,320.9h0M156.0,322.4h0M152.7,317.9h0M156.2,319.0h0M153.3,322.9h0M157.3,322.1h0M155.3,317.8h0M157.9,320.3h0M152.3,322.1h0M157.4,321.7h0M157.2,341.4h0M157.9,334.7h0M153.8,337.0h0M156.5,338.8h0M153.9,338.7h0M162.1,328.5h0M158.1,338.8h0M158.4,328.9h0M164.5,338.3h0M159.6,327.1h0M152.1,331.5h0M163.2,337.0h0M159.2,329.2h0M164.1,336.3h0M157.5,333.0h0M161.5,335.6h0M164.5,336.0h0M161.4,336.1h0M159.1,332.4h0M155.7,332.9h0M163.6,337.3h0M156.7,339.1h0M155.4,334.3h0M159.7,341.2h0M158.5,330.5h0M159.1,336.1h0M166.7,336.7h0M162.2,340.4h0M157.0,335.8h0M160.6,336.6h0M159.8,336.6h0M159.6,335.7h0M160.6,332.0h0M153.3,332.9h0M152.5,332.9h0M158.0,330.3h0M166.3,337.7h0M160.7,329.1h0M162.1,334.3h0M153.5,335.7h0M156.0,338.3h0M161.9,329.3h0M157.4,334.5h0M159.0,339.6h0M157.0,337.2h0M161.2,333.0h0M165.1,334.6h0M156.6,337.8h0M155.4,332.8h0M151.9,338.0h0M154.3,336.2h0M161.5,332.3h0M154.9,329.4h0M154.4,333.0h0M156.5,336.4h0M153.5,332.2h0M160.3,336.1h0M160.0,337.1h0M156.5,327.9h0M157.5,335.5h0M154.1,338.2h0M155.8,334.3h0M162.9,334.3h0M164.0,328.0h0M155.9,338.7h0M152.4,336.1h0M159.9,339.2h0M161.3,330.4h0M159.7,327.9h0M158.6,337.3h0M159.3,337.7h0M159.1,327.4h0M152.1,331.5h0M153.7,331.9h0M155.3,331.1h0M153.6,330.0h0M158.7,341.0h0M154.0,336.3h0M163.9,330.3h0M156.5,329.1h0M163.5,328.8h0M164.2,332.9h0M157.2,333.0h0M156.8,334.8h0M157.2,338.4h0M155.4,330.2h0M158.3,337.7h0M161.2,336.3h0M160.9,339.4h0M161.0,331.3h0M160.8,332.2h0M159.0,336.4h0M164.5,336.0h0M160.1,327.5h0M161.5,327.4h0M149.5,340.0h0M152.0,341.4h0M150.7,342.5h0M155.4,343.3h0M150.8,342.5h0M149.5,340.7h0M152.1,340.0h0M152.2,340.5h0M149.3,342.8h0M150.5,340.7h0M150.4,341.8h0M150.4,340.3h0M167.4,305.1h0M167.5,307.7h0M171.2,307.5h0M169.9,306.0h0M169.0,307.2h0M167.5,303.6h0M167.6,307.3h0M168.5,302.7h0M170.2,304.1h0M171.6,306.7h0M172.4,305.3h0M166.7,305.7h0M167.6,303.4h0M173.2,305.9h0M167.4,327.8h0M168.4,327.1h0M168.1,325.0h0M164.7,325.0h0M166.7,327.3h0M163.6,325.9h0M164.6,326.7h0M166.2,328.5h0M143.6,315.3h0M138.5,326.8h0M145.5,326.7h0M149.6,329.1h0M146.2,310.1h0M146.0,333.2h0M149.8,317.9h0M139.9,332.2h0M141.0,328.6h0M148.1,331.7h0M150.7,325.1h0M139.3,331.4h0M142.0,309.4h0M136.2,326.3h0M139.3,319.7h0M143.8,331.8h0M137.8,322.3h0M141.1,328.2h0M144.9,329.8h0M140.8,312.6h0M142.5,333.1h0M146.2,317.7h0M140.4,315.4h0M148.5,328.8h0M147.4,324.4h0M146.1,317.3h0M140.4,322.1h0M142.7,311.7h0M136.9,326.1h0M145.7,326.5h0M142.3,326.2h0M137.0,329.1h0M139.0,317.0h0M148.0,327.3h0M143.2,325.1h0M146.0,330.7h0M142.3,319.9h0M140.7,310.9h0M143.6,324.0h0M147.9,313.9h0M137.4,315.8h0M147.2,330.2h0M137.7,318.9h0M147.9,322.2h0M147.1,310.3h0M142.2,312.3h0M140.5,313.0h0M146.9,311.1h0M143.6,324.8h0M142.4,332.6h0M142.3,309.5h0M141.6,310.5h0M148.3,316.7h0M145.4,329.6h0M144.5,311.6h0M141.8,320.6h0M143.9,321.5h0M148.3,327.8h0M146.3,312.3h0M140.5,312.0h0M136.6,322.1h0M147.8,333.5h0M144.5,333.1h0M138.1,328.7h0M142.3,322.7h0M140.8,323.2h0M149.0,321.8h0M149.4,318.2h0M148.4,326.0h0M144.1,330.3h0M139.9,330.9h0M139.9,324.5h0M150.7,321.2h0M139.5,328.5h0M141.6,319.2h0M144.8,314.8h0M146.0,333.1h0M137.7,322.6h0M147.9,319.3h0M152.0,324.1h0M144.6,324.9h0M144.2,315.7h0M143.3,316.0h0M144.8,317.2h0M142.4,334.1h0M142.0,318.5h0M140.8,323.9h0M142.7,324.9h0M149.6,314.0h0M139.1,318.7h0M151.4,323.6h0M140.5,323.2h0M139.6,327.7h0M151.0,319.7h0M144.6,319.2h0M144.9,333.8h0M148.1,321.0h0M147.1,331.5h0M136.1,325.1h0M147.9,316.5h0M142.9,322.6h0M137.0,320.2h0M148.3,319.2h0M146.4,327.3h0M145.2,318.9h0M140.4,319.7h0M145.3,313.8h0M150.2,319.1h0M149.8,328.4h0M138.1,317.3h0M142.3,320.3h0M149.2,324.0h0M144.9,323.0h0M148.5,322.9h0M140.0,319.7h0M144.4,318.1h0M136.9,326.3h0M140.3,311.8h0M138.4,327.4h0M135.7,325.7h0M144.7,320.0h0M145.5,326.4h0M142.3,325.1h0M140.4,323.6h0M149.0,322.9h0M141.8,319.5h0M144.3,332.3h0M147.7,314.1h0M147.4,314.7h0M143.1,310.7h0M149.7,326.8h0M138.2,315.9h0M146.3,330.6h0M141.3,330.5h0M145.9,320.6h0M144.9,310.9h0M141.8,325.6h0M142.4,319.9h0M143.5,311.5h0M140.9,325.0h0M150.1,317.8h0M139.8,320.1h0M136.9,328.1h0M141.3,332.3h0M140.8,312.4h0M147.5,332.4h0M148.4,329.9h0M145.8,310.1h0M144.6,317.2h0M137.3,316.6h0M146.3,330.7h0M143.9,327.3h0M146.9,328.6h0M143.4,326.7h0M143.1,332.7h0M140.6,317.8h0M146.7,314.6h0M150.0,319.6h0M137.6,329.1h0M141.0,322.8h0M109.7,324.0h0M108.2,322.3h0M109.6,324.3h0M111.0,328.2h0M110.6,319.7h0M111.6,322.6h0M109.0,324.8h0M109.7,328.0h0M109.4,324.9h0M109.0,326.1h0M110.3,327.2h0M110.1,324.6h0M114.9,320.1h0M115.9,317.8h0M120.7,322.1h0M118.2,326.8h0M115.7,316.8h0M115.4,317.3h0M118.3,324.4h0M116.6,316.9h0M117.2,318.2h0M112.0,324.5h0M118.4,323.3h0M112.9,319.8h0M119.4,319.8h0M119.5,322.7h0M118.0,326.9h0M120.1,324.4h0M114.6,318.8h0M118.0,327.2h0M118.8,317.0h0M117.9,318.1h0M118.8,324.8h0M113.3,323.0h0M115.7,326.4h0M118.2,323.1h0M119.6,325.7h0M116.6,327.1h0M115.5,325.5h0M117.5,326.0h0M114.0,322.5h0M132.8,320.7h0M131.7,324.8h0M135.1,320.2h0M135.0,329.7h0M131.8,318.0h0M133.2,327.5h0M129.0,328.2h0M133.8,323.4h0M127.1,322.3h0M135.2,326.6h0M130.3,326.6h0M130.5,324.8h0M129.3,324.9h0M132.8,330.7h0M131.0,329.5h0M137.5,323.6h0M130.5,326.2h0M136.3,322.4h0M129.4,326.3h0M130.7,323.2h0M128.3,329.8h0M128.0,327.3h0M132.7,325.0h0M133.0,321.5h0M135.0,319.7h0M129.4,320.1h0M134.9,320.3h0M132.2,329.6h0M129.0,329.6h0M131.5,323.0h0M128.3,322.5h0M131.5,320.3h0M129.8,322.9h0M134.7,324.4h0M130.5,317.6h0M128.2,324.9h0M127.7,327.7h0M130.9,321.1h0M132.0,320.1h0M130.5,323.9h0M135.9,322.8h0M132.8,321.6h0M132.7,323.6h0M134.6,319.8h0M130.9,328.8h0M129.3,328.0h0M132.3,318.7h0M137.4,324.1h0M127.0,326.0h0M129.0,324.4h0M127.1,328.2h0M129.8,321.1h0M132.6,330.7h0M129.2,330.6h0M136.5,343.1h0M138.7,342.8h0M141.9,343.1h0M141.6,346.3h0M141.6,346.6h0M142.5,344.9h0M139.4,341.9h0M143.7,342.6h0M142.3,343.4h0M142.8,345.0h0M137.8,342.5h0M139.6,342.3h0M141.2,345.1h0M141.2,341.4h0M117.0,329.4h0M158.4,320.6h0M159.1,322.5h0M159.9,323.7h0M156.5,322.4h0M159.2,326.3h0M159.1,327.4h0M157.6,319.8h0M176.0,329.3h0M179.1,324.7h0M181.3,325.1h0M176.9,328.7h0M175.6,327.1h0M173.1,326.3h0M177.8,331.1h0M175.3,324.0h0M173.8,326.6h0M179.0,330.5h0M173.0,325.9h0M177.5,320.7h0M180.7,325.0h0M171.9,325.2h0M175.9,328.4h0M181.9,328.8h0M183.3,327.3h0M174.0,326.0h0" stroke="#d3d3d3" stroke-width="2.6" stroke-linecap="round" fill="none"/>
<path d="M92.3,339.2h0M81.8,365.6h0M79.1,356.6h0M99.1,343.0h0M102.4,348.4h0M74.9,357.3h0M91.1,342.9h0M86.1,365.4h0M75.7,347.0h0M90.6,356.6h0M129.4,340.6h0M94.2,337.6h0M133.7,346.1h0M130.3,344.0h0M125.0,355.9h0M129.2,348.6h0M113.2,402.7h0M131.4,399.7h0M99.0,385.0h0M116.8,386.7h0M101.0,393.9h0M124.4,401.0h0M123.0,399.3h0M102.3,387.6h0M114.7,406.3h0M88.8,372.1h0M93.7,383.8h0M96.2,376.9h0M139.6,383.3h0M76.5,360.8h0M129.0,296.3h0M138.6,300.1h0M134.5,282.3h0M131.3,281.1h0M120.5,288.2h0M142.9,288.9h0M172.6,284.0h0M152.4,304.1h0M138.8,289.7h0M188.0,278.2h0M182.2,279.3h0M174.8,274.1h0M184.4,273.3h0M177.4,264.4h0M178.9,264.8h0M169.7,268.8h0M173.9,265.6h0M175.1,271.7h0M175.4,267.5h0M173.4,274.7h0M187.4,273.8h0M171.3,270.8h0M181.9,271.2h0M178.7,266.3h0M184.6,269.3h0M173.7,266.5h0M185.3,280.9h0M190.5,285.5h0M190.7,285.9h0M191.8,281.8h0M186.4,283.6h0M179.1,285.2h0M175.9,283.0h0M181.2,283.5h0M178.3,283.2h0M194.7,297.8h0M194.4,298.7h0M191.3,291.8h0M183.6,298.0h0M201.3,295.5h0M207.3,286.4h0M206.3,280.0h0M210.7,284.8h0M212.4,281.4h0M204.9,300.6h0M178.4,290.3h0M195.8,292.5h0M216.8,308.5h0M217.6,302.6h0M219.9,305.8h0M218.9,309.9h0M219.6,308.9h0M228.7,315.3h0M218.2,304.2h0M228.2,302.9h0M223.2,306.3h0M216.4,304.0h0M215.9,309.5h0M217.4,304.3h0M224.2,302.9h0M191.0,320.0h0M188.8,323.2h0M192.6,324.8h0M187.9,323.5h0M184.5,317.8h0M183.6,319.3h0M205.8,318.8h0M204.2,315.9h0M177.0,302.6h0M224.5,332.9h0M220.8,330.5h0M233.6,331.7h0M229.1,334.7h0M230.6,327.7h0M224.2,320.5h0M235.6,331.1h0M214.4,320.1h0M222.9,333.1h0M220.3,336.1h0M225.8,325.8h0M227.1,330.6h0M235.8,331.1h0M218.1,322.2h0M232.0,333.4h0M222.4,331.1h0M233.2,333.0h0M214.8,322.3h0M230.1,324.1h0M219.2,327.6h0M213.8,323.2h0M216.2,332.0h0M215.2,323.6h0M229.7,330.2h0M221.6,322.8h0M210.5,327.3h0M216.9,329.1h0M226.2,327.7h0M222.4,319.7h0M232.7,323.7h0M217.8,324.7h0M208.8,326.7h0M234.0,320.9h0M234.5,319.7h0M227.0,320.6h0M229.6,321.5h0M233.1,324.0h0M189.8,341.2h0M188.5,338.2h0M189.1,339.5h0M190.4,344.6h0M189.2,360.3h0M172.7,376.6h0M183.9,382.0h0M178.5,369.8h0M168.6,361.8h0M174.0,349.6h0M170.4,363.5h0M177.0,368.5h0M164.2,313.5h0M153.1,316.8h0M111.7,328.5h0M120.0,324.5h0M134.7,319.1h0M157.1,318.3h0M179.4,327.9h0" stroke="#bdb2df" stroke-width="2.6" stroke-linecap="round" fill="none"/>
<path d="M112.4,367.6h0M105.5,363.2h0M148.4,361.7h0M115.4,398.9h0M117.7,378.1h0M106.2,405.7h0M125.4,301.9h0M156.6,291.7h0M177.7,275.4h0M169.5,268.9h0M175.5,272.6h0M173.2,277.4h0M171.2,275.8h0M176.1,273.1h0M171.2,269.8h0M170.1,267.9h0M174.9,268.4h0M177.4,267.6h0M169.6,269.7h0M177.4,268.4h0M184.1,269.8h0M174.7,263.4h0M182.4,267.9h0M178.9,263.7h0M173.3,263.3h0M171.8,275.7h0M171.8,267.7h0M168.7,265.4h0M179.5,269.1h0M180.6,279.1h0M176.0,263.9h0M176.6,274.4h0M180.1,277.9h0M175.2,272.6h0M176.2,273.0h0M179.1,279.5h0M188.4,278.7h0M171.5,264.3h0M186.3,286.3h0M184.9,283.3h0M187.9,279.7h0M195.0,281.8h0M191.6,282.5h0M193.7,283.2h0M188.1,280.9h0M188.8,284.9h0M185.8,282.0h0M191.3,279.3h0M187.4,281.4h0M192.1,286.6h0M179.1,282.6h0M174.8,283.2h0M196.1,293.5h0M182.4,297.5h0M184.5,290.1h0M182.7,291.0h0M183.3,292.4h0M185.7,294.1h0M190.3,296.7h0M185.6,292.5h0M180.8,292.6h0M190.3,298.4h0M188.4,294.9h0M198.3,290.1h0M199.0,295.7h0M204.1,292.3h0M206.9,284.4h0M213.0,290.6h0M203.3,283.3h0M212.4,284.4h0M205.4,286.4h0M198.0,301.5h0M195.8,298.9h0M197.9,299.5h0M199.5,301.9h0M203.0,288.3h0M202.2,287.3h0M221.5,307.2h0M219.9,310.9h0M219.0,310.6h0M228.6,312.8h0M226.7,315.1h0M218.4,306.9h0M227.1,308.9h0M225.1,306.1h0M224.7,312.4h0M220.1,303.5h0M226.1,315.2h0M232.2,305.5h0M224.4,302.0h0M226.0,303.8h0M222.2,300.3h0M230.7,303.3h0M184.9,317.6h0M191.2,326.1h0M184.4,318.6h0M187.9,319.2h0M187.9,322.8h0M190.6,321.1h0M190.1,323.4h0M205.4,318.1h0M202.0,314.2h0M207.2,317.8h0M205.8,314.4h0M204.1,316.5h0M202.3,314.8h0M206.5,319.7h0M206.8,320.0h0M220.8,337.3h0M216.1,323.5h0M233.0,329.8h0M214.4,325.9h0M214.6,328.2h0M214.7,334.3h0M220.0,327.5h0M231.0,325.4h0M216.0,335.9h0M226.6,330.0h0M219.7,329.2h0M232.5,322.4h0M225.6,334.4h0M215.6,327.6h0M217.7,323.3h0M223.9,326.9h0M221.9,328.3h0M217.9,325.4h0M207.9,324.7h0M229.8,327.3h0M233.9,331.6h0M212.8,321.6h0M231.1,329.0h0M220.4,335.1h0M208.8,331.4h0M210.7,322.7h0M230.9,329.0h0M212.9,332.4h0M230.4,332.7h0M215.9,329.4h0M219.5,329.6h0M221.2,321.4h0M224.3,331.9h0M215.1,323.9h0M214.5,328.9h0M208.7,328.8h0M228.8,331.9h0M222.9,338.1h0M221.5,338.0h0M215.9,336.5h0M226.9,334.4h0M226.3,322.7h0M234.1,325.3h0M227.6,334.9h0M217.5,329.6h0M231.1,323.9h0M222.4,321.2h0M217.3,331.1h0M230.2,323.4h0M232.7,320.6h0M230.7,319.2h0M207.1,329.8h0M207.6,333.0h0M208.8,332.6h0M210.5,332.7h0M190.2,350.5h0M189.8,350.1h0M197.4,373.7h0M193.4,381.4h0M111.7,325.4h0" stroke="#a691e5" stroke-width="2.6" stroke-linecap="round" fill="none"/>
<path d="M176.8,277.6h0M175.5,277.1h0M186.8,277.0h0M174.9,266.5h0M184.7,272.2h0M181.8,281.7h0M173.8,268.8h0M186.2,271.2h0M173.8,262.9h0M178.2,268.7h0M175.5,268.3h0M176.0,266.5h0M182.9,274.8h0M188.6,276.6h0M182.7,279.2h0M174.6,268.6h0M182.4,274.3h0M172.5,275.0h0M176.2,265.5h0M181.4,281.6h0M179.5,276.2h0M182.2,275.2h0M175.7,273.8h0M175.1,275.4h0M180.2,270.2h0M178.1,265.7h0M187.5,276.1h0M183.1,273.7h0M171.8,266.0h0M167.8,269.5h0M174.7,266.8h0M186.1,279.4h0M185.4,280.5h0M184.6,279.1h0M188.4,285.1h0M190.7,283.6h0M185.2,282.0h0M186.1,280.3h0M193.9,280.8h0M194.7,287.2h0M176.9,281.3h0M191.0,293.2h0M186.7,294.4h0M183.3,299.2h0M187.1,297.9h0M185.4,292.3h0M194.6,291.0h0M185.6,289.4h0M191.8,288.6h0M202.3,293.7h0M201.9,296.7h0M202.1,292.7h0M198.5,295.4h0M201.3,292.0h0M202.6,291.6h0M207.3,292.6h0M205.7,289.5h0M204.0,282.9h0M210.0,285.4h0M201.1,303.3h0M198.7,300.8h0M178.3,292.1h0M179.5,295.1h0M178.3,295.3h0M199.3,290.5h0M197.2,286.4h0M216.5,307.2h0M217.0,304.2h0M216.1,309.8h0M217.3,312.9h0M219.5,308.9h0M226.8,313.0h0M228.4,313.6h0M227.8,313.4h0M219.7,300.4h0M224.5,312.4h0M230.1,307.3h0M227.5,307.7h0M229.9,303.3h0M222.3,312.3h0M218.8,310.4h0M230.3,306.3h0M223.5,301.4h0M229.6,303.0h0M226.2,307.2h0M187.0,322.6h0M182.8,315.9h0M188.8,324.0h0M188.8,321.3h0M189.4,321.6h0M192.1,323.7h0M184.9,318.9h0M190.9,323.5h0M182.7,316.6h0M189.0,324.9h0M201.2,315.8h0M202.2,316.8h0M204.2,315.1h0M206.6,320.8h0M208.9,320.3h0M203.3,315.9h0M202.4,315.3h0M207.6,318.9h0M204.0,315.8h0M206.2,316.8h0M202.3,316.0h0M173.5,302.2h0M175.0,303.0h0M172.3,303.7h0M175.7,302.7h0M218.2,328.8h0M230.6,331.5h0M211.3,325.7h0M212.1,323.0h0M222.0,336.0h0M216.1,320.3h0M226.5,326.5h0M208.8,328.7h0M214.9,326.7h0M211.3,326.2h0M213.5,325.9h0M231.3,323.0h0M221.5,336.4h0M221.6,319.5h0M228.1,323.7h0M216.4,319.7h0M227.3,332.0h0M213.6,332.6h0M230.0,326.4h0M232.6,324.0h0M215.0,334.4h0M221.6,321.6h0M232.7,328.1h0M224.3,333.2h0M213.0,335.1h0M221.3,329.9h0M221.9,328.0h0M233.0,324.5h0M224.2,333.2h0M229.6,333.1h0M209.2,328.7h0M229.2,337.3h0M208.0,329.3h0M229.4,321.2h0M229.6,334.8h0M226.2,329.1h0M219.3,322.2h0M212.1,327.5h0M214.0,333.1h0M216.9,326.8h0M231.2,334.6h0M216.9,335.6h0M217.9,335.6h0M210.9,332.7h0M215.1,322.3h0M223.5,333.7h0M225.1,325.6h0M227.0,325.5h0M212.2,330.8h0M223.6,331.0h0M221.5,337.1h0M231.0,325.7h0M229.4,332.4h0M215.4,332.1h0M226.7,321.2h0M225.0,323.3h0M227.8,334.6h0M215.2,334.8h0M219.0,333.3h0M216.6,323.2h0M212.8,324.8h0M228.6,334.9h0M215.4,329.2h0M220.6,335.0h0M231.0,333.1h0M225.5,335.0h0M232.1,330.1h0M219.8,332.2h0M216.9,329.9h0M230.4,331.5h0M233.2,327.6h0M217.0,336.6h0M228.8,320.0h0M232.6,321.9h0M209.6,336.0h0M210.1,331.1h0M208.6,330.8h0M208.7,329.1h0" stroke="#9172ea" stroke-width="2.6" stroke-linecap="round" fill="none"/>
<path d="M174.3,264.8h0M173.3,264.6h0M183.5,277.2h0M189.2,272.0h0M184.3,275.2h0M174.3,269.3h0M181.3,271.8h0M183.9,278.1h0M169.4,265.5h0M176.1,264.2h0M175.5,279.3h0M186.9,269.5h0M180.9,281.3h0M172.3,267.0h0M189.6,275.7h0M169.1,269.6h0M179.3,276.2h0M177.8,266.4h0M183.7,266.4h0M189.2,276.5h0M177.6,277.9h0M183.0,278.5h0M190.1,280.5h0M188.6,281.3h0M192.6,284.2h0M189.0,283.3h0M189.0,283.3h0M190.7,279.1h0M190.0,283.6h0M190.5,296.9h0M197.6,294.2h0M212.1,288.1h0M210.7,289.7h0M212.4,290.4h0M206.8,281.1h0M208.0,289.7h0M211.3,285.0h0M211.5,289.6h0M205.0,286.4h0M208.5,286.5h0M181.3,296.7h0M180.7,295.9h0M196.6,289.3h0M217.9,302.6h0M217.2,308.2h0M217.9,307.6h0M216.1,309.0h0M224.5,311.0h0M221.4,299.8h0M218.4,301.1h0M226.4,307.5h0M220.0,306.0h0M186.2,317.6h0M190.5,322.2h0M205.4,314.3h0M176.5,302.5h0M174.9,304.3h0M173.9,304.1h0M173.6,302.2h0M210.1,327.9h0M223.4,323.4h0M222.0,328.3h0M228.5,328.1h0M220.2,319.7h0M233.8,325.6h0M231.9,330.9h0M229.2,322.1h0M218.2,331.9h0M214.9,327.6h0M219.9,324.1h0M223.4,320.4h0M213.9,323.7h0M216.3,334.2h0M222.7,326.2h0M218.9,321.2h0M208.3,328.3h0M211.3,333.7h0M228.3,336.8h0M217.3,321.4h0M218.0,333.3h0M221.4,323.6h0M230.7,328.5h0M229.3,321.2h0M234.0,322.2h0M236.9,322.1h0M228.3,320.7h0M230.2,321.2h0M229.4,322.3h0M210.1,329.2h0M208.0,336.7h0" stroke="#7a55ef" stroke-width="2.6" stroke-linecap="round" fill="none"/>
<path d="M184.6,269.1h0M170.7,272.0h0M186.7,275.9h0M186.0,294.7h0M201.1,293.7h0M211.1,287.3h0M208.6,282.1h0M216.5,309.7h0M186.9,316.9h0M214.2,328.3h0M232.0,334.7h0M230.4,325.8h0" stroke="#2412f5" stroke-width="2.6" stroke-linecap="round" fill="none"/>
<path d="M184.3,303.6h0M194.5,302.4h0M199.0,302.7h0M204.7,302.2h0M228.7,309.3h0M232.4,314.2h0" stroke="#1a10f2" stroke-width="2.6" stroke-linecap="round" fill="none"/>
<path d="M51.2,18.3V189.7H235" fill="none" stroke="#1a1a1a" stroke-width="1.4"/>
<text x="42.9" y="30.7" font-size="16" text-anchor="end">4</text>
<text x="42.9" y="72.2" font-size="16" text-anchor="end">2</text>
<text x="42.9" y="113.6" font-size="16" text-anchor="end">0</text>
<text x="42.9" y="154.9" font-size="16" text-anchor="end">−2</text>
<text x="86.8" y="209.0" font-size="16" text-anchor="middle">−2</text>
<text x="136.6" y="209.0" font-size="16" text-anchor="middle">0</text>
<text x="182.2" y="209.0" font-size="16" text-anchor="middle">2</text>
<text x="227.8" y="209.0" font-size="16" text-anchor="middle">4</text>
<path d="M46.4,25.2H51.2M46.4,66.7H51.2M46.4,108.1H51.2M46.4,149.4H51.2M91.0,189.7v4.9M136.6,189.7v4.9M182.2,189.7v4.9M227.8,189.7v4.9" fill="none" stroke="#1a1a1a" stroke-width="1.25"/>
<text x="152.7" y="227.8" font-size="16" text-anchor="middle" textLength="52.5" lengthAdjust="spacingAndGlyphs">UMAP1</text>
<text transform="translate(20.2,94.5) rotate(-90)" font-size="16" text-anchor="middle" textLength="53.7" lengthAdjust="spacingAndGlyphs">UMAP2</text>
<path d="M495.9,18.3V189.7H679.6" fill="none" stroke="#1a1a1a" stroke-width="1.4"/>
<text x="487.6" y="30.7" font-size="16" text-anchor="end">4</text>
<text x="487.6" y="72.2" font-size="16" text-anchor="end">2</text>
<text x="487.6" y="113.6" font-size="16" text-anchor="end">0</text>
<text x="487.6" y="154.9" font-size="16" text-anchor="end">−2</text>
<text x="531.5" y="209.0" font-size="16" text-anchor="middle">−2</text>
<text x="581.2" y="209.0" font-size="16" text-anchor="middle">0</text>
<text x="626.8" y="209.0" font-size="16" text-anchor="middle">2</text>
<text x="672.4" y="209.0" font-size="16" text-anchor="middle">4</text>
<path d="M491.1,25.2H495.9M491.1,66.7H495.9M491.1,108.1H495.9M491.1,149.4H495.9M535.7,189.7v4.9M581.2,189.7v4.9M626.8,189.7v4.9M672.4,189.7v4.9" fill="none" stroke="#1a1a1a" stroke-width="1.25"/>
<text x="597.3" y="227.8" font-size="16" text-anchor="middle" textLength="52.5" lengthAdjust="spacingAndGlyphs">UMAP1</text>
<text transform="translate(467.2,103.1) rotate(-90)" font-size="16" text-anchor="middle" textLength="53.7" lengthAdjust="spacingAndGlyphs">UMAP2</text>
<path d="M51.2,255.1V425.6H247.3" fill="none" stroke="#1a1a1a" stroke-width="1.4"/>
<text x="42.9" y="268.6" font-size="16" text-anchor="end">4</text>
<text x="42.9" y="309.8" font-size="16" text-anchor="end">2</text>
<text x="42.9" y="346.5" font-size="16" text-anchor="end">0</text>
<text x="42.9" y="385.0" font-size="16" text-anchor="end">−2</text>
<text x="42.9" y="423.9" font-size="16" text-anchor="end">−4</text>
<text x="55.6" y="446.0" font-size="16" text-anchor="middle">−4</text>
<text x="101.0" y="446.0" font-size="16" text-anchor="middle">−2</text>
<text x="149.0" y="446.0" font-size="16" text-anchor="middle">0</text>
<text x="194.3" y="446.0" font-size="16" text-anchor="middle">2</text>
<text x="238.0" y="446.0" font-size="16" text-anchor="middle">4</text>
<path d="M46.4,263.1H51.2M46.4,304.3H51.2M46.4,341.0H51.2M46.4,379.5H51.2M46.4,418.4H51.2M59.8,425.6v4.9M105.2,425.6v4.9M149.0,425.6v4.9M194.3,425.6v4.9M238.0,425.6v4.9" fill="none" stroke="#1a1a1a" stroke-width="1.25"/>
<text x="148.0" y="466.0" font-size="16" text-anchor="middle" textLength="52.5" lengthAdjust="spacingAndGlyphs">UMAP1</text>
<text transform="translate(18.4,340.5) rotate(-90)" font-size="16" text-anchor="middle" textLength="53.7" lengthAdjust="spacingAndGlyphs">UMAP2</text>
<defs><linearGradient id="cb" x1="0" y1="0" x2="0" y2="1"><stop offset="0" stop-color="#0f0cf7"/><stop offset="0.25" stop-color="#7447f3"/><stop offset="0.5" stop-color="#9678e8"/><stop offset="0.75" stop-color="#b2a6dd"/><stop offset="1" stop-color="#d3d3d3"/></linearGradient></defs>
<rect x="58.9" y="255.1" width="14.2" height="66" fill="url(#cb)"/>
<path d="M70.3,276.8h2.8M70.3,298.8h2.8M70.3,320.2h2.8M58.9,276.8h2.8M58.9,298.8h2.8M58.9,320.2h2.8" stroke="#fff" stroke-width="0.8" opacity="0.7"/>
<text x="75.2" y="279.9" font-size="16" text-anchor="start">2</text>
<text x="75.2" y="301.6" font-size="16" text-anchor="start">1</text>
<text x="75.2" y="323.9" font-size="16" text-anchor="start">0</text>
<g transform="translate(275,10) scale(0.20437)" fill="none" stroke="#000" stroke-width="5.1" stroke-linejoin="round" stroke-linecap="round">
<path d="M328.0,90.0C322.5,89.2 304.0,86.7 295.0,85.0C286.0,83.3 285.8,83.3 274.0,80.0C262.2,76.7 240.7,70.7 224.0,65.0C207.3,59.3 188.0,47.3 174.0,46.0C160.0,44.7 152.3,50.5 140.0,57.0C127.7,63.5 112.7,72.8 100.0,85.0C87.3,97.2 73.7,114.2 64.0,130.0C54.3,145.8 44.5,163.3 42.0,180.0C39.5,196.7 42.7,213.3 49.0,230.0C55.3,246.7 67.5,265.0 80.0,280.0C92.5,295.0 110.7,309.7 124.0,320.0C137.3,330.3 146.5,336.3 160.0,342.0C173.5,347.7 190.0,351.7 205.0,354.0C220.0,356.3 235.5,358.0 250.0,356.0C264.5,354.0 279.0,349.3 292.0,342.0C305.0,334.7 322.0,317.0 328.0,312.0 M328.0,90.0C333.3,90.0 344.7,93.3 360.0,90.0C375.3,86.7 398.8,76.7 420.0,70.0C441.2,63.3 471.7,51.3 487.0,50.0C502.3,48.7 499.5,57.0 512.0,62.0C524.5,67.0 546.2,71.2 562.0,80.0C577.8,88.8 594.8,102.5 607.0,115.0C619.2,127.5 629.0,141.7 635.0,155.0C641.0,168.3 643.5,182.8 643.0,195.0C642.5,207.2 638.8,216.8 632.0,228.0C625.2,239.2 613.7,250.0 602.0,262.0C590.3,274.0 577.8,288.7 562.0,300.0C546.2,311.3 523.7,322.7 507.0,330.0C490.3,337.3 477.3,339.7 462.0,344.0C446.7,348.3 431.2,356.7 415.0,356.0C398.8,355.3 379.5,347.3 365.0,340.0C350.5,332.7 334.2,316.7 328.0,312.0" fill="#fff"/>
<path d="M150.0,56.0C153.0,57.0 163.0,58.8 168.0,62.0C173.0,65.2 180.5,72.0 180.0,75.0C179.5,78.0 170.0,78.8 165.0,80.0C160.0,81.2 152.5,81.7 150.0,82.0"/>
<path d="M150.0,82.0C141.7,87.5 114.2,101.2 100.0,115.0C85.8,128.8 72.5,149.2 65.0,165.0C57.5,180.8 53.5,194.2 55.0,210.0C56.5,225.8 65.8,247.0 74.0,260.0C82.2,273.0 99.0,283.3 104.0,288.0"/>
<path d="M140.0,66.0C132.0,73.0 106.0,91.5 92.0,108.0C78.0,124.5 63.5,147.7 56.0,165.0C48.5,182.3 45.0,195.2 47.0,212.0C49.0,228.8 58.5,253.0 68.0,266.0C77.5,279.0 98.0,286.0 104.0,290.0" stroke-width="3"/>
<path d="M512.0,64.0C509.3,66.0 499.3,72.3 496.0,76.0C492.7,79.7 492.7,84.3 492.0,86.0"/>
<path d="M492.0,86.0C500.3,86.3 525.3,82.7 542.0,88.0C558.7,93.3 578.2,105.2 592.0,118.0C605.8,130.8 619.0,149.7 625.0,165.0C631.0,180.3 633.2,195.8 628.0,210.0C622.8,224.2 601.7,242.3 594.0,250.0C586.3,257.7 584.0,255.0 582.0,256.0"/>
<path d="M505.0,74.0C512.5,75.0 534.2,73.7 550.0,80.0C565.8,86.3 586.3,98.3 600.0,112.0C613.7,125.7 626.2,145.3 632.0,162.0C637.8,178.7 640.3,196.7 635.0,212.0C629.7,227.3 608.8,246.7 600.0,254.0C591.2,261.3 585.0,255.7 582.0,256.0" stroke-width="3"/>
<path d="M227.0,127.0C230.0,123.7 235.3,113.8 245.0,107.0C254.7,100.2 273.5,87.2 285.0,86.0C296.5,84.8 307.3,92.0 314.0,100.0C320.7,108.0 323.2,128.3 325.0,134.0L227,128Z" fill="#fff"/>
<path d="M331.0,134.0C332.2,129.0 331.8,111.5 338.0,104.0C344.2,96.5 357.3,88.7 368.0,89.0C378.7,89.3 391.0,99.0 402.0,106.0C413.0,113.0 428.7,126.8 434.0,131.0L331,135Z" fill="#fff"/>
<path d="M290.0,85.0C293.7,86.2 305.8,87.3 312.0,92.0C318.2,96.7 322.0,112.7 327.0,113.0C332.0,113.3 336.2,98.2 342.0,94.0C347.8,89.8 358.7,89.0 362.0,88.0"/>
<path d="M285.0,86.0C288.3,85.0 297.8,81.0 305.0,80.0C312.2,79.0 320.5,80.0 328.0,80.0C335.5,80.0 343.3,78.7 350.0,80.0C356.7,81.3 365.0,86.7 368.0,88.0"/>
<g stroke-dasharray="12 8" stroke-width="4.8" stroke-linecap="butt">
<path d="M160.0,88.0C163.7,92.5 180.3,105.5 182.0,115.0C183.7,124.5 177.8,133.3 170.0,145.0C162.2,156.7 142.7,171.7 135.0,185.0C127.3,198.3 126.5,211.7 124.0,225.0C121.5,238.3 122.8,255.8 120.0,265.0C117.2,274.2 109.2,277.5 107.0,280.0"/>
<path d="M257.0,168.0C250.8,178.3 232.0,209.7 220.0,230.0C208.0,250.3 190.8,280.0 185.0,290.0"/>
<path d="M274.0,145.0C275.3,149.2 278.5,163.2 282.0,170.0C285.5,176.8 287.8,180.2 295.0,186.0C302.2,191.8 320.0,201.8 325.0,205.0"/>
<path d="M325.0,205.0C320.8,210.8 307.5,228.3 300.0,240.0C292.5,251.7 283.3,269.2 280.0,275.0"/>
<path d="M382.0,145.0C380.7,149.2 377.7,163.2 374.0,170.0C370.3,176.8 367.2,180.2 360.0,186.0C352.8,191.8 335.8,201.8 331.0,205.0"/>
<path d="M331.0,205.0C335.2,210.8 348.2,228.3 356.0,240.0C363.8,251.7 374.3,269.2 378.0,275.0"/>
<path d="M492.0,93.0C491.2,96.7 483.7,105.5 487.0,115.0C490.3,124.5 504.5,137.5 512.0,150.0C519.5,162.5 527.0,177.5 532.0,190.0C537.0,202.5 534.5,215.0 542.0,225.0C549.5,235.0 571.2,245.8 577.0,250.0"/>
<path d="M412.0,163.0C417.5,172.5 434.2,201.3 445.0,220.0C455.8,238.7 471.7,265.8 477.0,275.0"/>
<path d="M487.0,85.0C483.3,88.3 472.5,98.8 465.0,105.0C457.5,111.2 445.8,119.2 442.0,122.0"/>
<path d="M328.0,215.0L328.0,300.0"/>
<path d="M114.0,272.0C120.0,273.3 138.2,277.0 150.0,280.0C161.8,283.0 179.2,288.3 185.0,290.0"/>
<path d="M477.0,275.0C482.5,273.3 498.7,266.2 510.0,265.0C521.3,263.8 539.2,267.5 545.0,268.0"/>
<ellipse cx="168" cy="308" rx="55" ry="24" transform="rotate(18 168 308)"/>
<ellipse cx="283" cy="322" rx="42" ry="11" transform="rotate(-22 283 322)"/>
<ellipse cx="495" cy="300" rx="60" ry="26" transform="rotate(-16 495 300)"/>
<ellipse cx="376" cy="322" rx="42" ry="11" transform="rotate(22 376 322)"/>
</g>
<circle cx="257" cy="119" r="6.6" fill="#f00" stroke="none"/>
<circle cx="285" cy="103" r="6.6" fill="#f00" stroke="none"/>
<circle cx="306" cy="118" r="6.6" fill="#f00" stroke="none"/>
<circle cx="348" cy="121" r="6.6" fill="#f00" stroke="none"/>
<circle cx="358" cy="104" r="6.6" fill="#f00" stroke="none"/>
<circle cx="380" cy="109" r="6.6" fill="#f00" stroke="none"/>
</g>
<path d="M342.2,37V112" stroke="#000" stroke-width="1.4" fill="none"/>
<path d="M338.1,110.2L342.2,112L346.3,110.2L342.2,119.6Z" fill="#000"/>
<text x="354.6" y="99.3" font-size="16" text-anchor="start" textLength="28.4" lengthAdjust="spacingAndGlyphs">LPS</text>
<text x="354.1" y="115.2" font-size="16" text-anchor="start" textLength="65.1" lengthAdjust="spacingAndGlyphs">activated</text>
<text x="363.7" y="143.1" font-size="16" text-anchor="start" textLength="39.1" lengthAdjust="spacingAndGlyphs">Laser</text>
<path d="M322.1,163.8L338.4,146.4V125H346.2V146.4L362.3,163.8M325.5,166.9L342.3,150.4L359.3,166.9" fill="none" stroke="#111" stroke-width="1.1" stroke-linejoin="miter"/>
<circle cx="342.3" cy="129.7" r="2.2" fill="#f00"/>
<circle cx="342.3" cy="134.8" r="2.2" fill="#999"/>
<circle cx="342.3" cy="139.7" r="2.2" fill="#f00"/>
<circle cx="342.3" cy="144.6" r="2.2" fill="#999"/>
<circle cx="336.2" cy="152.8" r="2.2" fill="#999"/>
<circle cx="348.4" cy="152.8" r="2.2" fill="#f00"/>
<path d="M334.5,156.3l-3.2,3.3M350.2,156.3l3.2,3.3" stroke="#111" stroke-width="0.8" fill="none"/>
<path d="M331.3,159.6l0.3,-1.8l1.4,1.5zM353.4,159.6l-0.3,-1.8l-1.4,1.5z" fill="#111"/>
<defs><linearGradient id="lz" x1="0" y1="0" x2="1" y2="0"><stop offset="0" stop-color="#bfe6c2"/><stop offset="1" stop-color="#2f9e3c"/></linearGradient></defs>
<path d="M346.6,139.7L359.9,136.8V142.3Z" fill="url(#lz)"/>
<g fill="none" stroke="#666" stroke-width="0.7">
<path d="M319.4,169.2H366.6L373.4,183.2H313.3Z" fill="#fff"/>
<path d="M313.3,183.2V187.4Q313.3,188.9 315,188.9H371.8Q373.4,188.9 373.4,187.4V183.2" fill="#fff" stroke="#777"/>
<path d="M323.2,170.5L318.6,181.3M326.8,170.5L323.1,181.3M330.4,170.5L327.6,181.3M334.0,170.5L332.1,181.3M337.6,170.5L336.6,181.3M341.2,170.5L341.1,181.3M344.8,170.5L345.6,181.3M348.4,170.5L350.1,181.3M352.0,170.5L354.6,181.3M355.6,170.5L359.1,181.3M359.2,170.5L363.6,181.3M362.8,170.5L368.1,181.3" stroke="#777" stroke-width="1.7"/>
<path d="M318.6,185.4h0M323.1,185.4h0M327.6,185.4h0M332.1,185.4h0M336.6,185.4h0M341.1,185.4h0M345.6,185.4h0M350.1,185.4h0M354.6,185.4h0M359.1,185.4h0M363.6,185.4h0M368.1,185.4h0" stroke="#888" stroke-width="1.6" stroke-linecap="round"/>
</g>
<defs>
<radialGradient id="ear" cx="0.6" cy="0.45" r="0.6"><stop offset="0" stop-color="#f6a9ab"/><stop offset="1" stop-color="#fbe3e3"/></radialGradient>
<g id="mouse" fill="none" stroke="#111" stroke-width="4" stroke-linejoin="round" stroke-linecap="round">
<path d="M458.0,275.0C465.5,274.5 483.0,286.7 500.0,290.0C517.0,293.3 540.0,295.2 560.0,295.0C580.0,294.8 603.3,290.5 620.0,289.0C636.7,287.5 649.2,284.3 660.0,286.0C670.8,287.7 680.8,292.3 685.0,299.0C689.2,305.7 690.2,316.8 685.0,326.0C679.8,335.2 665.8,346.0 654.0,354.0C642.2,362.0 626.7,366.3 614.0,374.0C601.3,381.7 585.5,397.3 578.0,400.0C570.5,402.7 565.7,396.2 569.0,390.0C572.3,383.8 586.7,371.0 598.0,363.0C609.3,355.0 626.0,349.2 637.0,342.0C648.0,334.8 659.2,325.3 664.0,320.0C668.8,314.7 667.8,312.8 666.0,310.0C664.2,307.2 660.7,303.7 653.0,303.0C645.3,302.3 635.5,304.5 620.0,306.0C604.5,307.5 580.0,311.7 560.0,312.0C540.0,312.3 517.5,311.2 500.0,308.0C482.5,304.8 462.0,298.5 455.0,293.0C448.0,287.5 450.5,275.5 458.0,275.0Z" fill="#f4a3a5" stroke="#b85c5c" stroke-width="2.6"/>
<path d="M186.0,160.0C186.7,156.7 186.8,145.3 190.0,140.0C193.2,134.7 200.0,130.2 205.0,128.0C210.0,125.8 217.0,125.0 220.0,127.0C223.0,129.0 224.3,135.8 223.0,140.0C221.7,144.2 213.8,150.0 212.0,152.0" fill="#fff"/>
<path d="M97.0,243.0C97.8,238.5 104.5,231.3 110.0,225.0C115.5,218.7 121.7,212.8 130.0,205.0C138.3,197.2 150.3,186.0 160.0,178.0C169.7,170.0 178.8,161.7 188.0,157.0C197.2,152.3 205.5,150.2 215.0,150.0C224.5,149.8 235.8,156.8 245.0,156.0C254.2,155.2 259.2,148.5 270.0,145.0C280.8,141.5 296.7,137.0 310.0,135.0C323.3,133.0 336.7,131.3 350.0,133.0C363.3,134.7 377.5,138.5 390.0,145.0C402.5,151.5 415.0,161.2 425.0,172.0C435.0,182.8 443.3,197.0 450.0,210.0C456.7,223.0 462.0,239.7 465.0,250.0C468.0,260.3 468.8,266.0 468.0,272.0C467.2,278.0 466.3,282.2 460.0,286.0C453.7,289.8 441.7,292.7 430.0,295.0C418.3,297.3 401.7,298.7 390.0,300.0C378.3,301.3 370.0,303.0 360.0,303.0C350.0,303.0 340.0,302.0 330.0,300.0C320.0,298.0 310.0,291.5 300.0,291.0C290.0,290.5 280.0,294.7 270.0,297.0C260.0,299.3 249.2,304.5 240.0,305.0C230.8,305.5 219.2,302.8 215.0,300.0C210.8,297.2 218.3,292.7 215.0,288.0C211.7,283.3 204.2,276.2 195.0,272.0C185.8,267.8 170.8,265.3 160.0,263.0C149.2,260.7 139.2,259.8 130.0,258.0C120.8,256.2 110.5,254.5 105.0,252.0C99.5,249.5 96.2,247.5 97.0,243.0Z" fill="#fff"/>
<path d="M205.0,165.0C206.7,158.3 210.0,149.5 215.0,145.0C220.0,140.5 229.7,136.3 235.0,138.0C240.3,139.7 245.3,148.0 247.0,155.0C248.7,162.0 247.5,172.5 245.0,180.0C242.5,187.5 237.0,196.7 232.0,200.0C227.0,203.3 219.5,202.5 215.0,200.0C210.5,197.5 206.7,190.8 205.0,185.0C203.3,179.2 203.3,171.7 205.0,165.0Z" fill="url(#ear)" stroke="none"/>
<path d="M345.0,243.0C346.2,246.7 348.7,258.0 352.0,265.0C355.3,272.0 360.7,279.2 365.0,285.0C369.3,290.8 375.8,297.5 378.0,300.0" stroke-width="2.8"/>
<path d="M215.0,266.0C217.2,269.2 226.8,278.5 228.0,285.0C229.2,291.5 223.0,301.7 222.0,305.0" stroke-width="2.8"/>
<path d="M333,309L352,302L382,304L376,312L345,314Z" fill="#d9a3a3" stroke-width="2.2" stroke="#844"/>
<path d="M179,316L200,304L224,311L216,322L190,324Z" fill="#f3aeb0" stroke-width="2.2" stroke="#844"/>
<path d="M218.0,205.0C220.3,208.3 231.3,217.8 232.0,225.0C232.7,232.2 223.7,244.2 222.0,248.0" stroke="#999" stroke-width="2"/>
<path d="M138,242L146,250L152,246" stroke-width="2.4"/>
<circle cx="157" cy="217" r="10.5" fill="#000" stroke="none"/>
<circle cx="154" cy="214" r="2.2" fill="#fff" stroke="none"/>
</g></defs>
<use href="#mouse" transform="translate(248.3,290.9) scale(0.18975)"/>
<use href="#mouse" transform="translate(377.0,290) scale(0.18975)"/>
<use href="#mouse" transform="translate(555.0,290) scale(0.18975)"/>
<g transform="translate(262,280.9) scale(0.18975)">
<path d="M40,287L75,255L110,228L150,238L125,268L80,285L55,291Z" fill="#d0a9a6"/>
<path d="M38,285L70,250L105,222L126,210" fill="none" stroke="#000" stroke-width="6.2" stroke-linecap="round"/>
<circle cx="72" cy="297" r="6.5" fill="#000"/>
</g>
<path d="M286.5,286.6V294.5M285,286.6h3" stroke="#666" stroke-width="0.7" fill="none"/>
<rect x="284.5" y="294.5" width="4" height="20.6" fill="#f2f2f2" stroke="#666" stroke-width="0.7"/>
<rect x="284.9" y="308.5" width="3.2" height="6.6" fill="#e60000"/>
<path d="M286.5,315.1V319.5" stroke="#444" stroke-width="0.8"/>
<g transform="translate(385,290) scale(0.18975)">
<path d="M300,280L356,300" stroke="#777" stroke-width="2.5"/>
<path d="M392,306L470,342L466,356L386,322Z" fill="#eee" stroke="#777" stroke-width="3"/>
<path d="M358,290L394,306L386,324L350,308Z" fill="#1aa550"/>
<path d="M468,349L502,360M498,351L506,369M440,334l-4,12M452,339l-4,12M428,329l-4,12M416,324l-4,12" stroke="#777" stroke-width="2.6" fill="none"/>
</g>
<text x="280.2" y="280.7" font-size="16" text-anchor="start" textLength="123.8" lengthAdjust="spacingAndGlyphs">AAV-DIO-hM3Dq</text>
<text x="335.8" y="319.8" font-size="16" text-anchor="start" textLength="59.3" lengthAdjust="spacingAndGlyphs">3 weeks</text>
<text x="276.5" y="377.4" font-size="16" text-anchor="start" textLength="58.5" lengthAdjust="spacingAndGlyphs" font-style="italic">Dbh-cre</text>
<text x="438.2" y="374.1" font-size="16" text-anchor="start" textLength="34.7" lengthAdjust="spacingAndGlyphs">CNO</text>
<text x="504.2" y="324.6" font-size="16" text-anchor="start" textLength="20.8" lengthAdjust="spacingAndGlyphs">1 h</text>
<text x="535.9" y="324.6" font-size="16" text-anchor="start" textLength="21.8" lengthAdjust="spacingAndGlyphs">2 h</text>
<text x="512.8" y="356.3" font-size="16" text-anchor="start" textLength="42.9" lengthAdjust="spacingAndGlyphs">Saline</text>
<text x="510.3" y="375.0" font-size="16" text-anchor="start" textLength="48.0" lengthAdjust="spacingAndGlyphs">or LPS</text>
<path d="M355.8,331.3H378M502.6,331.3H560" stroke="#000" stroke-width="1.4" fill="none"/>
<path d="M383.6,331.3l-9.4,-4.1l1.8,4.1l-1.8,4.1zM534.4,331.3l-9.4,-4.1l1.8,4.1l-1.8,4.1zM565.1,331.3l-9.4,-4.1l1.8,4.1l-1.8,4.1z" fill="#000"/>
<path d="M534.2,332.4l3.7,8l-3.7,-1.6l-3.7,1.6z" fill="#666"/>
<path d="M668.9,365.2C670.2,368.3 672.8,370.3 672.8,372.9A3.9,3.9 0 1 1 665,372.9C665,370.3 667.6,368.3 668.9,365.2Z" fill="#d7191c"/>
<rect x="87.9" y="687.2" width="28.2" height="1.0" fill="#000"/>
<rect x="146.8" y="687.2" width="27.9" height="1.0" fill="#000"/>
<rect x="219.1" y="553.0" width="28.2" height="135.2" fill="#b3b3b3"/>
<rect x="278.2" y="629.4" width="27.9" height="58.8" fill="#ff0000"/>
<rect x="87.9" y="686.7" width="28.2" height="2.8" fill="#000"/>
<rect x="146.8" y="686.7" width="27.9" height="2.8" fill="#000"/>
<path d="M233.2,553.0V537.8M228.2,537.8h10M292.1,629.4V622.3M287.1,622.3h10" fill="none" stroke="#000" stroke-width="1.3"/>
<path d="M71.2,488.4V688.95" fill="none" stroke="#000" stroke-width="1.5"/>
<text x="58.2" y="516.2" font-size="16" text-anchor="end">20</text>
<text x="58.2" y="560.6" font-size="16" text-anchor="end">15</text>
<text x="58.2" y="605.0" font-size="16" text-anchor="end">10</text>
<text x="58.2" y="649.3" font-size="16" text-anchor="end">5</text>
<text x="58.2" y="693.7" font-size="16" text-anchor="end">0</text>
<path d="M64.0,510.7H71.2M64.0,555.1H71.2M64.0,599.5H71.2M64.0,643.8H71.2M64.0,688.2H71.2" fill="none" stroke="#000" stroke-width="1.35"/>
<circle cx="93.6" cy="688.0" r="3.05" fill="#fff" stroke="#000" stroke-width="1.35"/>
<circle cx="99.2" cy="688.0" r="3.05" fill="#fff" stroke="#000" stroke-width="1.35"/>
<circle cx="104.8" cy="688.0" r="3.05" fill="#fff" stroke="#000" stroke-width="1.35"/>
<circle cx="110.4" cy="688.0" r="3.05" fill="#fff" stroke="#000" stroke-width="1.35"/>
<circle cx="152.5" cy="688.0" r="3.05" fill="#fff" stroke="#000" stroke-width="1.35"/>
<circle cx="158.0" cy="688.0" r="3.05" fill="#fff" stroke="#000" stroke-width="1.35"/>
<circle cx="163.4" cy="688.0" r="3.05" fill="#fff" stroke="#000" stroke-width="1.35"/>
<circle cx="168.8" cy="688.0" r="3.05" fill="#fff" stroke="#000" stroke-width="1.35"/>
<circle cx="232.9" cy="509.8" r="3.05" fill="#fff" stroke="#000" stroke-width="1.35"/>
<circle cx="228.6" cy="558.1" r="3.05" fill="#fff" stroke="#000" stroke-width="1.35"/>
<circle cx="237.0" cy="565.1" r="3.05" fill="#fff" stroke="#000" stroke-width="1.35"/>
<circle cx="232.9" cy="579.0" r="3.05" fill="#fff" stroke="#000" stroke-width="1.35"/>
<circle cx="292.3" cy="611.0" r="3.05" fill="#fff" stroke="#000" stroke-width="1.35"/>
<circle cx="291.7" cy="626.4" r="3.05" fill="#fff" stroke="#000" stroke-width="1.35"/>
<circle cx="288.2" cy="641.3" r="3.05" fill="#fff" stroke="#000" stroke-width="1.35"/>
<circle cx="296.3" cy="639.7" r="3.05" fill="#fff" stroke="#000" stroke-width="1.35"/>
<path d="M70.45,688.2H324" fill="none" stroke="#000" stroke-width="1.5"/>
<text transform="translate(29.0,594.7) rotate(-90)" font-size="16" text-anchor="middle" textLength="132.8" lengthAdjust="spacingAndGlyphs">IL-6 (×10<tspan font-size="10" dy="-5.2">3</tspan><tspan dy="5.2"> pg ml</tspan><tspan font-size="10" dy="-5.2">−1</tspan><tspan dy="5.2">)</tspan></text>
<text x="68.3" y="709.9" font-size="16" text-anchor="start" textLength="60.3" lengthAdjust="spacingAndGlyphs">mCherry</text>
<text x="136.6" y="709.9" font-size="16" text-anchor="start" textLength="53.1" lengthAdjust="spacingAndGlyphs">hM3Dq</text>
<text x="198.7" y="709.9" font-size="16" text-anchor="start" textLength="61.4" lengthAdjust="spacingAndGlyphs">mCherry</text>
<text x="267.3" y="709.9" font-size="16" text-anchor="start" textLength="53.1" lengthAdjust="spacingAndGlyphs">hM3Dq</text>
<text x="126.5" y="733.0" font-size="16" text-anchor="middle" textLength="42.5" lengthAdjust="spacingAndGlyphs">Saline</text>
<text x="258.8" y="733.0" font-size="16" text-anchor="middle" textLength="28.5" lengthAdjust="spacingAndGlyphs">LPS</text>
<path d="M71.3,715.5H193.0M201.2,715.5H324.5" fill="none" stroke="#333" stroke-width="0.8"/>
<rect x="438.5" y="681.4" width="27.1" height="6.8" fill="#000"/>
<rect x="497.4" y="685.4" width="27.3" height="2.8" fill="#000"/>
<rect x="568.8" y="586.0" width="27.9" height="102.2" fill="#b3b3b3"/>
<rect x="627.9" y="658.9" width="28.5" height="29.3" fill="#ff0000"/>
<rect x="438.5" y="681.2" width="27.1" height="8.3" fill="#000"/>
<rect x="497.4" y="685.2" width="27.3" height="4.3" fill="#000"/>
<path d="M452.4,681.4V679.3M447.4,679.3h10M582.6,586.0V558.9M577.6,558.9h10M641.6,658.9V654.9M636.6,654.9h10" fill="none" stroke="#000" stroke-width="1.3"/>
<path d="M421.9,487.8V688.95" fill="none" stroke="#000" stroke-width="1.5"/>
<text x="412.1" y="493.8" font-size="16" text-anchor="end">5</text>
<text x="412.1" y="532.8" font-size="16" text-anchor="end">4</text>
<text x="412.1" y="573.0" font-size="16" text-anchor="end">3</text>
<text x="412.1" y="613.2" font-size="16" text-anchor="end">2</text>
<text x="412.1" y="653.4" font-size="16" text-anchor="end">1</text>
<text x="412.1" y="693.7" font-size="16" text-anchor="end">0</text>
<path d="M414.6,488.3H421.9M414.6,527.3H421.9M414.6,567.5H421.9M414.6,607.7H421.9M414.6,647.9H421.9M414.6,688.2H421.9" fill="none" stroke="#000" stroke-width="1.35"/>
<circle cx="452.4" cy="675.3" r="3.05" fill="#fff" stroke="#000" stroke-width="1.35"/>
<circle cx="446.1" cy="685.5" r="3.05" fill="#fff" stroke="#000" stroke-width="1.35"/>
<circle cx="452.4" cy="686.5" r="3.05" fill="#fff" stroke="#000" stroke-width="1.35"/>
<circle cx="458.7" cy="685.5" r="3.05" fill="#fff" stroke="#000" stroke-width="1.35"/>
<circle cx="503.9" cy="686.2" r="3.05" fill="#fff" stroke="#000" stroke-width="1.35"/>
<circle cx="509.3" cy="686.2" r="3.05" fill="#fff" stroke="#000" stroke-width="1.35"/>
<circle cx="514.5" cy="686.2" r="3.05" fill="#fff" stroke="#000" stroke-width="1.35"/>
<circle cx="519.7" cy="686.2" r="3.05" fill="#fff" stroke="#000" stroke-width="1.35"/>
<circle cx="585.9" cy="509.0" r="3.05" fill="#fff" stroke="#000" stroke-width="1.35"/>
<circle cx="582.4" cy="591.4" r="3.05" fill="#fff" stroke="#000" stroke-width="1.35"/>
<circle cx="586.7" cy="619.4" r="3.05" fill="#fff" stroke="#000" stroke-width="1.35"/>
<circle cx="578.6" cy="625.9" r="3.05" fill="#fff" stroke="#000" stroke-width="1.35"/>
<circle cx="641.7" cy="645.9" r="3.05" fill="#fff" stroke="#000" stroke-width="1.35"/>
<circle cx="635.0" cy="662.2" r="3.05" fill="#fff" stroke="#000" stroke-width="1.35"/>
<circle cx="641.7" cy="665.7" r="3.05" fill="#fff" stroke="#000" stroke-width="1.35"/>
<circle cx="648.5" cy="663.0" r="3.05" fill="#fff" stroke="#000" stroke-width="1.35"/>
<path d="M421.15,688.2H674.5" fill="none" stroke="#000" stroke-width="1.5"/>
<text transform="translate(379.0,588.6) rotate(-90)" font-size="16" text-anchor="middle" textLength="139.6" lengthAdjust="spacingAndGlyphs">IL-1β (×10<tspan font-size="10" dy="-5.2">2</tspan><tspan dy="5.2"> pg ml</tspan><tspan font-size="10" dy="-5.2">−1</tspan><tspan dy="5.2">)</tspan></text>
<text x="420.1" y="709.9" font-size="16" text-anchor="start" textLength="60.3" lengthAdjust="spacingAndGlyphs">mCherry</text>
<text x="488.4" y="709.9" font-size="16" text-anchor="start" textLength="53.0" lengthAdjust="spacingAndGlyphs">hM3Dq</text>
<text x="550.4" y="709.9" font-size="16" text-anchor="start" textLength="61.6" lengthAdjust="spacingAndGlyphs">mCherry</text>
<text x="618.7" y="709.9" font-size="16" text-anchor="start" textLength="54.1" lengthAdjust="spacingAndGlyphs">hM3Dq</text>
<text x="477.8" y="733.0" font-size="16" text-anchor="middle" textLength="43.4" lengthAdjust="spacingAndGlyphs">Saline</text>
<text x="609.6" y="733.0" font-size="16" text-anchor="middle" textLength="28.5" lengthAdjust="spacingAndGlyphs">LPS</text>
<path d="M422.3,715.5H544.7M552.6,715.5H675.9" fill="none" stroke="#333" stroke-width="0.8"/>
<rect x="87.9" y="947.6" width="28.2" height="1.4" fill="#000"/>
<rect x="146.8" y="947.8" width="27.9" height="1.2" fill="#000"/>
<rect x="218.6" y="800.0" width="28.3" height="149.0" fill="#b3b3b3"/>
<rect x="277.6" y="892.9" width="28.1" height="56.1" fill="#ff0000"/>
<rect x="87.9" y="947.4" width="28.2" height="2.9" fill="#000"/>
<rect x="146.8" y="947.5" width="27.9" height="2.8" fill="#000"/>
<path d="M232.3,800.0V774.1M227.3,774.1h10M291.2,892.9V885.4M286.2,885.4h10" fill="none" stroke="#000" stroke-width="1.3"/>
<path d="M71.1,748.7V949.75" fill="none" stroke="#000" stroke-width="1.5"/>
<text x="58.0" y="754.7" font-size="16" text-anchor="end">5</text>
<text x="58.0" y="794.1" font-size="16" text-anchor="end">4</text>
<text x="58.0" y="834.2" font-size="16" text-anchor="end">3</text>
<text x="58.0" y="874.3" font-size="16" text-anchor="end">2</text>
<text x="58.0" y="914.4" font-size="16" text-anchor="end">1</text>
<text x="58.0" y="954.5" font-size="16" text-anchor="end">0</text>
<path d="M64.1,749.2H71.1M64.1,788.6H71.1M64.1,828.7H71.1M64.1,868.8H71.1M64.1,908.9H71.1M64.1,949.0H71.1" fill="none" stroke="#000" stroke-width="1.35"/>
<circle cx="93.6" cy="947.6" r="3.05" fill="#fff" stroke="#000" stroke-width="1.35"/>
<circle cx="99.1" cy="947.6" r="3.05" fill="#fff" stroke="#000" stroke-width="1.35"/>
<circle cx="104.9" cy="947.6" r="3.05" fill="#fff" stroke="#000" stroke-width="1.35"/>
<circle cx="110.4" cy="946.2" r="3.05" fill="#fff" stroke="#000" stroke-width="1.35"/>
<circle cx="152.5" cy="947.6" r="3.05" fill="#fff" stroke="#000" stroke-width="1.35"/>
<circle cx="158.0" cy="947.6" r="3.05" fill="#fff" stroke="#000" stroke-width="1.35"/>
<circle cx="163.5" cy="947.6" r="3.05" fill="#fff" stroke="#000" stroke-width="1.35"/>
<circle cx="168.8" cy="947.6" r="3.05" fill="#fff" stroke="#000" stroke-width="1.35"/>
<circle cx="232.2" cy="752.2" r="3.05" fill="#fff" stroke="#000" stroke-width="1.35"/>
<circle cx="232.2" cy="774.1" r="3.05" fill="#fff" stroke="#000" stroke-width="1.35"/>
<circle cx="232.2" cy="802.1" r="3.05" fill="#fff" stroke="#000" stroke-width="1.35"/>
<circle cx="232.2" cy="870.5" r="3.05" fill="#fff" stroke="#000" stroke-width="1.35"/>
<circle cx="291.0" cy="877.7" r="3.05" fill="#fff" stroke="#000" stroke-width="1.35"/>
<circle cx="287.0" cy="886.2" r="3.05" fill="#fff" stroke="#000" stroke-width="1.35"/>
<circle cx="295.0" cy="890.8" r="3.05" fill="#fff" stroke="#000" stroke-width="1.35"/>
<circle cx="291.0" cy="914.0" r="3.05" fill="#fff" stroke="#000" stroke-width="1.35"/>
<path d="M70.35,949H323" fill="none" stroke="#000" stroke-width="1.5"/>
<text transform="translate(28.6,849.1) rotate(-90)" font-size="16" text-anchor="middle" textLength="134.0" lengthAdjust="spacingAndGlyphs">TNF (×10<tspan font-size="10" dy="-5.2">2</tspan><tspan dy="5.2"> pg ml</tspan><tspan font-size="10" dy="-5.2">−1</tspan><tspan dy="5.2">)</tspan></text>
<text x="67.8" y="967.7" font-size="16" text-anchor="start" textLength="61.6" lengthAdjust="spacingAndGlyphs">mCherry</text>
<text x="136.6" y="967.7" font-size="16" text-anchor="start" textLength="53.1" lengthAdjust="spacingAndGlyphs">hM3Dq</text>
<text x="198.3" y="967.7" font-size="16" text-anchor="start" textLength="61.6" lengthAdjust="spacingAndGlyphs">mCherry</text>
<text x="267.2" y="967.7" font-size="16" text-anchor="start" textLength="52.3" lengthAdjust="spacingAndGlyphs">hM3Dq</text>
<text x="125.5" y="992.3" font-size="16" text-anchor="middle" textLength="42.7" lengthAdjust="spacingAndGlyphs">Saline</text>
<text x="258.5" y="992.3" font-size="16" text-anchor="middle" textLength="28.5" lengthAdjust="spacingAndGlyphs">LPS</text>
<path d="M71.3,974.5H193.0M201.2,974.5H323.8" fill="none" stroke="#333" stroke-width="0.8"/>
<rect x="439.9" y="948.4" width="27.8" height="1.0" fill="#000"/>
<rect x="497.4" y="948.6" width="27.3" height="0.8" fill="#000"/>
<rect x="569.3" y="930.9" width="28.3" height="18.5" fill="#b3b3b3"/>
<rect x="628.9" y="846.2" width="28.0" height="103.2" fill="#39b54a"/>
<rect x="439.9" y="947.9" width="27.8" height="2.8" fill="#000"/>
<rect x="497.4" y="947.9" width="27.3" height="2.8" fill="#000"/>
<path d="M585.0,930.9V925.8M580.0,925.8h10M642.7,846.2V815.5M637.7,815.5h10" fill="none" stroke="#000" stroke-width="1.3"/>
<path d="M422,750V950.15" fill="none" stroke="#000" stroke-width="1.5"/>
<text x="411.9" y="787.6" font-size="16" text-anchor="end">7.5</text>
<text x="411.9" y="843.4" font-size="16" text-anchor="end">5.0</text>
<text x="411.9" y="899.1" font-size="16" text-anchor="end">2.5</text>
<text x="411.9" y="954.8" font-size="16" text-anchor="end">0</text>
<path d="M415.0,782.1H422M415.0,837.9H422M415.0,893.6H422M415.0,949.3H422" fill="none" stroke="#000" stroke-width="1.35"/>
<circle cx="446.1" cy="948.5" r="3.05" fill="#fff" stroke="#000" stroke-width="1.35"/>
<circle cx="451.4" cy="948.9" r="3.05" fill="#fff" stroke="#000" stroke-width="1.35"/>
<circle cx="456.9" cy="948.9" r="3.05" fill="#fff" stroke="#000" stroke-width="1.35"/>
<circle cx="462.0" cy="948.2" r="3.05" fill="#fff" stroke="#000" stroke-width="1.35"/>
<circle cx="503.9" cy="948.9" r="3.05" fill="#fff" stroke="#000" stroke-width="1.35"/>
<circle cx="509.4" cy="949.4" r="3.05" fill="#fff" stroke="#000" stroke-width="1.35"/>
<circle cx="514.5" cy="949.4" r="3.05" fill="#fff" stroke="#000" stroke-width="1.35"/>
<circle cx="519.6" cy="948.2" r="3.05" fill="#fff" stroke="#000" stroke-width="1.35"/>
<circle cx="578.9" cy="920.2" r="3.05" fill="#fff" stroke="#000" stroke-width="1.35"/>
<circle cx="590.9" cy="927.9" r="3.05" fill="#fff" stroke="#000" stroke-width="1.35"/>
<circle cx="586.9" cy="933.8" r="3.05" fill="#fff" stroke="#000" stroke-width="1.35"/>
<circle cx="578.9" cy="941.8" r="3.05" fill="#fff" stroke="#000" stroke-width="1.35"/>
<circle cx="642.5" cy="757.2" r="3.05" fill="#fff" stroke="#000" stroke-width="1.35"/>
<circle cx="642.2" cy="857.4" r="3.05" fill="#fff" stroke="#000" stroke-width="1.35"/>
<circle cx="642.2" cy="883.3" r="3.05" fill="#fff" stroke="#000" stroke-width="1.35"/>
<circle cx="642.2" cy="891.1" r="3.05" fill="#fff" stroke="#000" stroke-width="1.35"/>
<path d="M421.25,949.4H674" fill="none" stroke="#000" stroke-width="1.5"/>
<text transform="translate(378.6,849.3) rotate(-90)" font-size="16" text-anchor="middle" textLength="140.7" lengthAdjust="spacingAndGlyphs">IL-10 (×10<tspan font-size="10" dy="-5.2">3</tspan><tspan dy="5.2"> pg ml</tspan><tspan font-size="10" dy="-5.2">−1</tspan><tspan dy="5.2">)</tspan></text>
<text x="419.0" y="967.7" font-size="16" text-anchor="start" textLength="60.7" lengthAdjust="spacingAndGlyphs">mCherry</text>
<text x="488.1" y="967.7" font-size="16" text-anchor="start" textLength="52.9" lengthAdjust="spacingAndGlyphs">hM3Dq</text>
<text x="549.7" y="967.7" font-size="16" text-anchor="start" textLength="62.2" lengthAdjust="spacingAndGlyphs">mCherry</text>
<text x="618.7" y="967.7" font-size="16" text-anchor="start" textLength="53.1" lengthAdjust="spacingAndGlyphs">hM3Dq</text>
<text x="477.0" y="992.3" font-size="16" text-anchor="middle" textLength="43.3" lengthAdjust="spacingAndGlyphs">Saline</text>
<text x="609.8" y="992.3" font-size="16" text-anchor="middle" textLength="28.5" lengthAdjust="spacingAndGlyphs">LPS</text>
<path d="M422.3,974.5H544.2M552.0,974.5H674.8" fill="none" stroke="#333" stroke-width="0.8"/>
</svg></body></html>
